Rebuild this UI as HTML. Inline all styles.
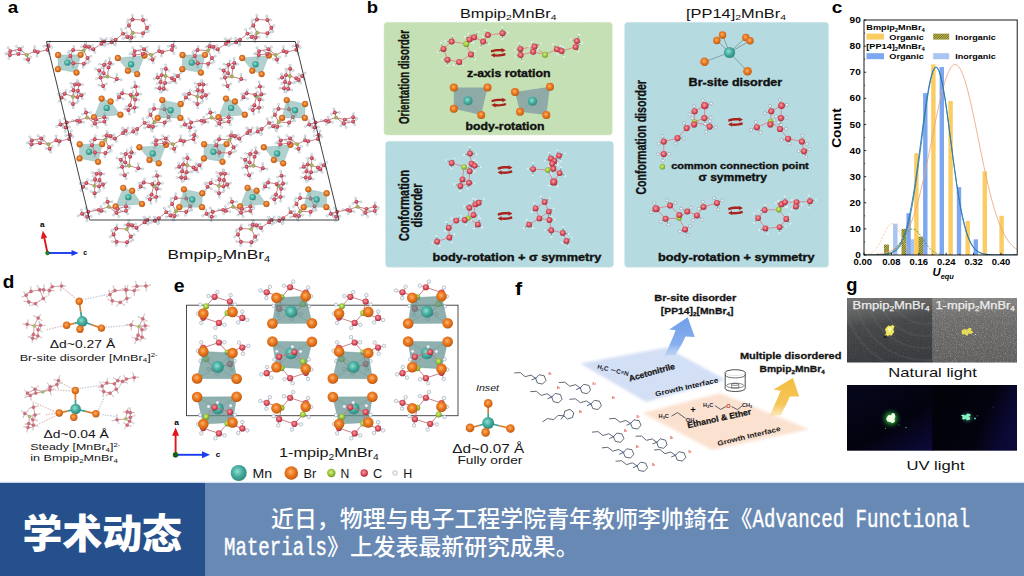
<!DOCTYPE html>
<html lang="zh"><head><meta charset="utf-8"><title>学术动态</title><style>
html,body{margin:0;padding:0;background:#fff;}
body{width:1024px;height:576px;overflow:hidden;}
svg{display:block;font-family:"Liberation Sans",sans-serif;}
.b{stroke:#8a9aa8;stroke-width:0.55;stroke-linecap:round}
.bc{stroke:#b8646c;stroke-width:0.6;stroke-linecap:round}
.C{fill:url(#gC)}
.Ca{fill:url(#gCa)}
.Bra{fill:url(#gBr);stroke:#b5500f;stroke-width:0.45}
.H{fill:url(#gH)}
.N{fill:url(#gN)}
.Br{fill:url(#gBr)}
.Mn{fill:url(#gMn)}
.T2{fill:#7d99a3;fill-opacity:0.75}
.T3{fill:#5f8f8c;fill-opacity:0.7;stroke:#5f9490;stroke-width:0.5;stroke-opacity:0.7}
.T{fill:#62a39d;fill-opacity:0.5;stroke:#7fb0ac;stroke-width:0.4;stroke-opacity:0.8}
</style></head><body>
<svg width="1024" height="576" viewBox="0 0 1024 576">
<defs>
<radialGradient id="gBr" cx="45%" cy="42%" r="60%"><stop offset="0" stop-color="#fdb46c"/><stop offset="0.45" stop-color="#ec7d26"/><stop offset="0.82" stop-color="#d46412"/><stop offset="1" stop-color="#a04a0a"/></radialGradient>
<radialGradient id="gMn" cx="42%" cy="40%" r="65%"><stop offset="0" stop-color="#8fe0d2"/><stop offset="0.5" stop-color="#45ad9f"/><stop offset="1" stop-color="#2c8377"/></radialGradient>
<radialGradient id="gC" cx="45%" cy="42%" r="60%"><stop offset="0" stop-color="#f6a3a6"/><stop offset="0.45" stop-color="#e25e69"/><stop offset="0.8" stop-color="#c43547"/><stop offset="1" stop-color="#8c1d2e"/></radialGradient>
<radialGradient id="gCa" cx="45%" cy="42%" r="60%"><stop offset="0" stop-color="#ec9098"/><stop offset="0.5" stop-color="#cf4e5e"/><stop offset="0.85" stop-color="#ad3446"/><stop offset="1" stop-color="#7e2233"/></radialGradient><radialGradient id="gN" cx="45%" cy="42%" r="60%"><stop offset="0" stop-color="#d9ee8c"/><stop offset="0.5" stop-color="#a2cc3e"/><stop offset="0.82" stop-color="#7fae28"/><stop offset="1" stop-color="#557f18"/></radialGradient>
<radialGradient id="gH" cx="42%" cy="40%" r="65%"><stop offset="0" stop-color="#ffffff"/><stop offset="0.7" stop-color="#eef1f4"/><stop offset="1" stop-color="#9aa9b8"/></radialGradient>
<radialGradient id="glowG" cx="50%" cy="50%" r="50%"><stop offset="0" stop-color="#b8ffa0"/><stop offset="0.25" stop-color="#4fd84a" stop-opacity="0.85"/><stop offset="0.55" stop-color="#1f8a2a" stop-opacity="0.5"/><stop offset="1" stop-color="#05051a" stop-opacity="0"/></radialGradient>
<radialGradient id="glowC" cx="50%" cy="50%" r="50%"><stop offset="0" stop-color="#c8ffe8"/><stop offset="0.4" stop-color="#5fe8b8" stop-opacity="0.8"/><stop offset="1" stop-color="#0a2a3a" stop-opacity="0"/></radialGradient>
<linearGradient id="uvbg" x1="0.2" y1="0" x2="1" y2="1"><stop offset="0" stop-color="#05061a"/><stop offset="0.55" stop-color="#03030f"/><stop offset="1" stop-color="#0d0a3c"/></linearGradient>
<linearGradient id="uvbg2" x1="0" y1="0" x2="1" y2="0.3"><stop offset="0" stop-color="#020209"/><stop offset="0.7" stop-color="#03030f"/><stop offset="1" stop-color="#0b0936"/></linearGradient>
<linearGradient id="nat1" x1="0.3" y1="0" x2="0.5" y2="1"><stop offset="0" stop-color="#727270"/><stop offset="0.22" stop-color="#5c5d5d"/><stop offset="0.4" stop-color="#454749"/><stop offset="1" stop-color="#36393c"/></linearGradient>
<linearGradient id="nat2" x1="0" y1="0" x2="0" y2="1"><stop offset="0" stop-color="#858482"/><stop offset="0.3" stop-color="#6c6b6a"/><stop offset="1" stop-color="#5c5b5a"/></linearGradient>
<pattern id="hatch" width="1.6" height="1.6" patternUnits="userSpaceOnUse" patternTransform="rotate(45)"><rect width="1.6" height="1.6" fill="#d8c25a"/><rect width="0.8" height="1.6" fill="#5f6a1e"/></pattern>
<filter id="blur1" x="-20%" y="-20%" width="140%" height="140%"><feGaussianBlur stdDeviation="1.6"/></filter>
<filter id="blur2" x="-20%" y="-20%" width="140%" height="140%"><feGaussianBlur stdDeviation="0.35"/></filter>
<filter id="noise" x="0" y="0" width="100%" height="100%" color-interpolation-filters="sRGB"><feTurbulence type="fractalNoise" baseFrequency="0.85" numOctaves="2" seed="3"/><feColorMatrix type="matrix" values="0 0 0 0 0.5  0 0 0 0 0.5  0 0 0 0 0.5  1.6 1.6 0 0 -1.45"/></filter><filter id="noise2" x="0" y="0" width="100%" height="100%" color-interpolation-filters="sRGB"><feTurbulence type="fractalNoise" baseFrequency="0.9" numOctaves="2" seed="11"/><feColorMatrix type="matrix" values="0 0 0 0 0.92  0 0 0 0 0.92  0 0 0 0 0.9  1.8 0 1.8 0 -1.75"/></filter>
</defs>
<rect x="0" y="482.5" width="1024" height="93.5" fill="#6889b4"/>
<rect x="0" y="482.5" width="205" height="93.5" fill="#25508c"/>
<rect x="0" y="481.6" width="1024" height="1.2" fill="#dfe9f3"/>
<text x="22.5" y="547.5" font-size="40" font-weight="900" textLength="159.5" lengthAdjust="spacingAndGlyphs" fill="#fff" font-family="'Liberation Sans','Noto Sans CJK SC',sans-serif">学术动态</text>
<text x="271" y="527" font-size="22.6" font-weight="500" textLength="481.5" lengthAdjust="spacingAndGlyphs" fill="#fff" font-family="'Liberation Sans','Noto Sans CJK SC',sans-serif">近日，物理与电子工程学院青年教师李帅錡在《</text>
<g transform="translate(752.5 527) scale(0.7339 1)"><text x="0" y="0" font-size="26" font-weight="400" fill="#fff" font-family="'Liberation Mono','Noto Sans CJK SC',monospace" xml:space="preserve" stroke="#fff" stroke-width="0.45">Advanced Functional</text></g>
<g transform="translate(224 554.5) scale(0.7339 1)"><text x="0" y="0" font-size="26" font-weight="400" fill="#fff" font-family="'Liberation Mono','Noto Sans CJK SC',monospace" xml:space="preserve" stroke="#fff" stroke-width="0.45">Materials</text></g>
<text x="327.05" y="554.5" font-size="22.6" font-weight="500" textLength="251.5" lengthAdjust="spacingAndGlyphs" fill="#fff" font-family="'Liberation Sans','Noto Sans CJK SC',sans-serif">》上发表最新研究成果。</text>
<rect x="384" y="22.3" width="228.3" height="112.7" rx="3.5" fill="#c5e0b4"/><rect x="384" y="22.3" width="228.3" height="112.7" rx="3.5" fill="none" stroke="#d9ebcd" stroke-width="1" stroke-dasharray="1.6 1.4"/>
<rect x="385.5" y="141.3" width="228" height="125.9" rx="3.5" fill="#b5dae0"/><rect x="385.5" y="141.3" width="228" height="125.9" rx="3.5" fill="none" stroke="#cfe7eb" stroke-width="1" stroke-dasharray="1.6 1.4"/>
<rect x="624.6" y="22.3" width="204" height="244.9" rx="3.5" fill="#b5dae0"/><rect x="624.6" y="22.3" width="204" height="244.9" rx="3.5" fill="none" stroke="#cfe7eb" stroke-width="1" stroke-dasharray="1.6 1.4"/>
<g id="panel_a"><path d="M87.5 58L90.87 56.09M87.5 58L89.7 61.5M83.8 63.8L87.66 62.82M83.8 63.8L83.18 67.32M73.3 63.3L73.12 66.87M73.3 63.3L68.94 63.03M70.4 56L66.97 58.3M70.4 56L68.52 52.56M73.1 50L69.2 51.23M73.1 50L73.83 46.5M88.9 46.7L85.67 43.68M88.9 46.7L92.36 45.5M93.3 49.2L94.86 52.36M93.3 49.2L89.83 49.76M101.4 43.8L101.82 39.4M101.4 43.8L104.56 45.81M104.1 41.4L100.73 38.76M104.1 41.4L106.5 38.54M104.1 41.4L105.54 44.57M85 46.2L81.55 46.73M85 46.2L85.55 42.19M85 46.2L89.04 48.36M109.1 147.25L112.47 145.34M109.1 147.25L111.3 150.75M105.4 153.05L109.26 152.07M105.4 153.05L104.78 156.57M94.9 152.55L94.72 156.12M94.9 152.55L90.54 152.28M92 145.25L88.57 147.55M92 145.25L90.12 141.81M94.7 139.25L90.8 140.48M94.7 139.25L95.43 135.75M110.5 135.95L107.27 132.93M110.5 135.95L113.96 134.75M114.9 138.45L116.46 141.61M114.9 138.45L111.43 139.01M123 133.05L123.42 128.65M123 133.05L126.16 135.06M125.7 130.65L122.33 128.01M125.7 130.65L128.1 127.79M125.7 130.65L127.14 133.82M106.6 135.45L103.15 135.98M106.6 135.45L107.15 131.44M106.6 135.45L110.64 137.61M130.7 236.5L134.07 234.59M130.7 236.5L132.9 240M127 242.3L130.86 241.32M127 242.3L126.38 245.82M116.5 241.8L116.32 245.37M116.5 241.8L112.14 241.53M113.6 234.5L110.17 236.8M113.6 234.5L111.72 231.06M116.3 228.5L112.4 229.73M116.3 228.5L117.03 225M132.1 225.2L128.87 222.18M132.1 225.2L135.56 224M136.5 227.7L138.06 230.86M136.5 227.7L133.03 228.26M144.6 222.3L145.02 217.9M144.6 222.3L147.76 224.31M147.3 219.9L143.93 217.26M147.3 219.9L149.7 217.04M147.3 219.9L148.74 223.07M128.2 224.7L124.75 225.23M128.2 224.7L128.75 220.69M128.2 224.7L132.24 226.86M211.9 58L215.27 56.09M211.9 58L214.1 61.5M208.2 63.8L212.06 62.82M208.2 63.8L207.58 67.32M197.7 63.3L197.52 66.87M197.7 63.3L193.34 63.03M194.8 56L191.37 58.3M194.8 56L192.92 52.56M197.5 50L193.6 51.23M197.5 50L198.23 46.5M213.3 46.7L210.07 43.68M213.3 46.7L216.76 45.5M217.7 49.2L219.26 52.36M217.7 49.2L214.23 49.76M225.8 43.8L226.22 39.4M225.8 43.8L228.96 45.81M228.5 41.4L225.13 38.76M228.5 41.4L230.9 38.54M228.5 41.4L229.94 44.57M209.4 46.2L205.95 46.73M209.4 46.2L209.95 42.19M209.4 46.2L213.44 48.36M233.5 147.25L236.87 145.34M233.5 147.25L235.7 150.75M229.8 153.05L233.66 152.07M229.8 153.05L229.18 156.57M219.3 152.55L219.12 156.12M219.3 152.55L214.94 152.28M216.4 145.25L212.97 147.55M216.4 145.25L214.52 141.81M219.1 139.25L215.2 140.48M219.1 139.25L219.83 135.75M234.9 135.95L231.67 132.93M234.9 135.95L238.36 134.75M239.3 138.45L240.86 141.61M239.3 138.45L235.83 139.01M247.4 133.05L247.82 128.65M247.4 133.05L250.56 135.06M250.1 130.65L246.73 128.01M250.1 130.65L252.5 127.79M250.1 130.65L251.54 133.82M231 135.45L227.55 135.98M231 135.45L231.55 131.44M231 135.45L235.04 137.61M255.1 236.5L258.47 234.59M255.1 236.5L257.3 240M251.4 242.3L255.26 241.32M251.4 242.3L250.78 245.82M240.9 241.8L240.72 245.37M240.9 241.8L236.54 241.53M238 234.5L234.57 236.8M238 234.5L236.12 231.06M240.7 228.5L236.8 229.73M240.7 228.5L241.43 225M256.5 225.2L253.27 222.18M256.5 225.2L259.96 224M260.9 227.7L262.46 230.86M260.9 227.7L257.43 228.26M269 222.3L269.42 217.9M269 222.3L272.16 224.31M271.7 219.9L268.33 217.26M271.7 219.9L274.1 217.04M271.7 219.9L273.14 223.07M252.6 224.7L249.15 225.23M252.6 224.7L253.15 220.69M252.6 224.7L256.64 226.86M108.5 67.4L105.25 64.73M108.5 67.4L111.47 64.47M109.9 62.9L109.52 58.34M109.9 62.9L113.12 64.07M104.1 64.8L99.58 64.2M104.1 64.8L105.7 60.92M103.6 73.1L104 77.23M100.6 77.5L96.5 78.6M100.6 77.5L100.84 73.02M103.1 86L106.44 83.83M103.1 86L104.57 89.42M103.1 86L98.95 85.23M116.8 79L116.71 74.45M116.8 79L121.1 79.79M116.8 79L114.62 81.76M99.2 70.5L99 74.57M99.2 70.5L95.39 68.93M99.2 70.5L102.39 67.39M130.1 156.65L126.85 153.98M130.1 156.65L133.07 153.72M131.5 152.15L131.12 147.59M131.5 152.15L134.72 153.32M125.7 154.05L121.18 153.45M125.7 154.05L127.3 150.17M125.2 162.35L125.6 166.48M122.2 166.75L118.1 167.85M122.2 166.75L122.44 162.27M124.7 175.25L128.04 173.08M124.7 175.25L126.17 178.67M124.7 175.25L120.55 174.48M138.4 168.25L138.31 163.7M138.4 168.25L142.7 169.04M138.4 168.25L136.22 171.01M120.8 159.75L120.6 163.82M120.8 159.75L116.99 158.18M120.8 159.75L123.99 156.64M232.9 67.4L229.65 64.73M232.9 67.4L235.87 64.47M234.3 62.9L233.92 58.34M234.3 62.9L237.52 64.07M228.5 64.8L223.98 64.2M228.5 64.8L230.1 60.92M228 73.1L228.4 77.23M225 77.5L220.9 78.6M225 77.5L225.24 73.02M227.5 86L230.84 83.83M227.5 86L228.97 89.42M227.5 86L223.35 85.23M241.2 79L241.11 74.45M241.2 79L245.5 79.79M241.2 79L239.02 81.76M223.6 70.5L223.4 74.57M223.6 70.5L219.79 68.93M223.6 70.5L226.79 67.39M254.5 156.65L251.25 153.98M254.5 156.65L257.47 153.72M255.9 152.15L255.52 147.59M255.9 152.15L259.12 153.32M250.1 154.05L245.58 153.45M250.1 154.05L251.7 150.17M249.6 162.35L250 166.48M246.6 166.75L242.5 167.85M246.6 166.75L246.84 162.27M249.1 175.25L252.44 173.08M249.1 175.25L250.57 178.67M249.1 175.25L244.95 174.48M262.8 168.25L262.71 163.7M262.8 168.25L267.1 169.04M262.8 168.25L260.62 171.01M245.2 159.75L245 163.82M245.2 159.75L241.39 158.18M245.2 159.75L248.39 156.64M10.3 51.1L7.34 53M10.3 51.1L8.21 47.64M19.6 49.2L16.47 46.3M19.6 49.2L22.57 47.12M18.4 53.9L15.19 50.89M18.4 53.9L21.86 50.89M9.9 55L8.76 58.49M9.9 55L5.65 53.85M34.8 51.1L34.68 46.6M34.8 51.1L38.86 50.89M37.7 52.1L37.02 56.03M37.7 52.1L34.08 50M47.5 49.7L50.33 46.28M47.5 49.7L49.34 53.58M48.2 45.8L44.03 46.28M48.2 45.8L49.74 41.71M48.2 45.8L51.41 47.55M28.1 59.5L30.85 57.22M28.1 59.5L28.98 62.88M28.1 59.5L24.54 59.26M31.9 140.35L28.94 142.25M31.9 140.35L29.81 136.89M41.2 138.45L38.07 135.55M41.2 138.45L44.17 136.37M40 143.15L36.79 140.14M40 143.15L43.46 140.14M31.5 144.25L30.36 147.74M31.5 144.25L27.25 143.1M56.4 140.35L56.28 135.85M56.4 140.35L60.46 140.14M59.3 141.35L58.62 145.28M59.3 141.35L55.68 139.25M69.1 138.95L71.93 135.53M69.1 138.95L70.94 142.83M69.8 135.05L65.63 135.53M69.8 135.05L71.34 130.96M69.8 135.05L73.01 136.8M49.7 148.75L52.45 146.47M49.7 148.75L50.58 152.13M49.7 148.75L46.14 148.51M134.7 51.1L131.74 53M134.7 51.1L132.61 47.64M144 49.2L140.87 46.3M144 49.2L146.97 47.12M142.8 53.9L139.59 50.89M142.8 53.9L146.26 50.89M134.3 55L133.16 58.49M134.3 55L130.05 53.85M159.2 51.1L159.08 46.6M159.2 51.1L163.26 50.89M162.1 52.1L161.42 56.03M162.1 52.1L158.48 50M171.9 49.7L174.73 46.28M171.9 49.7L173.74 53.58M172.6 45.8L168.43 46.28M172.6 45.8L174.14 41.71M172.6 45.8L175.81 47.55M152.5 59.5L155.25 57.22M152.5 59.5L153.38 62.88M152.5 59.5L148.94 59.26M156.3 140.35L153.34 142.25M156.3 140.35L154.21 136.89M165.6 138.45L162.47 135.55M165.6 138.45L168.57 136.37M164.4 143.15L161.19 140.14M164.4 143.15L167.86 140.14M155.9 144.25L154.76 147.74M155.9 144.25L151.65 143.1M180.8 140.35L180.68 135.85M180.8 140.35L184.86 140.14M183.7 141.35L183.02 145.28M183.7 141.35L180.08 139.25M193.5 138.95L196.33 135.53M193.5 138.95L195.34 142.83M194.2 135.05L190.03 135.53M194.2 135.05L195.74 130.96M194.2 135.05L197.41 136.8M174.1 148.75L176.85 146.47M174.1 148.75L174.98 152.13M174.1 148.75L170.54 148.51M259.1 51.1L256.14 53M259.1 51.1L257.01 47.64M268.4 49.2L265.27 46.3M268.4 49.2L271.37 47.12M267.2 53.9L263.99 50.89M267.2 53.9L270.66 50.89M258.7 55L257.56 58.49M258.7 55L254.45 53.85M283.6 51.1L283.48 46.6M283.6 51.1L287.66 50.89M286.5 52.1L285.82 56.03M286.5 52.1L282.88 50M296.3 49.7L299.13 46.28M296.3 49.7L298.14 53.58M297 45.8L292.83 46.28M297 45.8L298.54 41.71M297 45.8L300.21 47.55M276.9 59.5L279.65 57.22M276.9 59.5L277.78 62.88M276.9 59.5L273.34 59.26M280.7 140.35L277.74 142.25M280.7 140.35L278.61 136.89M290 138.45L286.87 135.55M290 138.45L292.97 136.37M288.8 143.15L285.59 140.14M288.8 143.15L292.26 140.14M280.3 144.25L279.16 147.74M280.3 144.25L276.05 143.1M305.2 140.35L305.08 135.85M305.2 140.35L309.26 140.14M308.1 141.35L307.42 145.28M308.1 141.35L304.48 139.25M317.9 138.95L320.73 135.53M317.9 138.95L319.74 142.83M318.6 135.05L314.43 135.53M318.6 135.05L320.14 130.96M318.6 135.05L321.81 136.8M298.5 148.75L301.25 146.47M298.5 148.75L299.38 152.13M298.5 148.75L294.94 148.51M165.8 68.7L161.42 69.09M165.8 68.7L165.66 65.11M165.8 68.7L168.7 70.52M161.6 75.1L162.19 71.44M157.7 77.5L161.25 79.67M157.7 77.5L154.2 78.91M157.7 77.5L157.1 74.02M171.9 78.2L175.03 76.03M171.9 78.2L174.69 81.68M174.3 79.9L176.2 82.99M174.3 79.9L170.82 82.28M177.9 76L174.39 74.37M177.9 76L180.76 73.1M177.9 76L179.94 79.23M165 82.9L169.09 82.78M165 82.9L162.99 86.77M163.8 88.7L167.18 89.97M163.8 88.7L161.86 91.72M159.6 88.2L160.47 92.18M159.6 88.2L155.43 88.28M160.6 81.9L163.67 84.8M160.6 81.9L157.35 83.51M187.4 157.95L183.02 158.34M187.4 157.95L187.26 154.36M187.4 157.95L190.3 159.77M183.2 164.35L183.79 160.69M179.3 166.75L182.85 168.92M179.3 166.75L175.8 168.16M179.3 166.75L178.7 163.27M193.5 167.45L196.63 165.28M193.5 167.45L196.29 170.93M195.9 169.15L197.8 172.24M195.9 169.15L192.42 171.53M199.5 165.25L195.99 163.62M199.5 165.25L202.36 162.35M199.5 165.25L201.54 168.48M186.6 172.15L190.69 172.03M186.6 172.15L184.59 176.02M185.4 177.95L188.78 179.22M185.4 177.95L183.46 180.97M181.2 177.45L182.07 181.43M181.2 177.45L177.03 177.53M182.2 171.15L185.27 174.05M182.2 171.15L178.95 172.76M290.2 68.7L285.82 69.09M290.2 68.7L290.06 65.11M290.2 68.7L293.1 70.52M286 75.1L286.59 71.44M282.1 77.5L285.65 79.67M282.1 77.5L278.6 78.91M282.1 77.5L281.5 74.02M296.3 78.2L299.43 76.03M296.3 78.2L299.09 81.68M298.7 79.9L300.6 82.99M298.7 79.9L295.22 82.28M302.3 76L298.79 74.37M302.3 76L305.16 73.1M302.3 76L304.34 79.23M289.4 82.9L293.49 82.78M289.4 82.9L287.39 86.77M288.2 88.7L291.58 89.97M288.2 88.7L286.26 91.72M284 88.2L284.87 92.18M284 88.2L279.83 88.28M285 81.9L288.07 84.8M285 81.9L281.75 83.51M311.8 157.95L307.42 158.34M311.8 157.95L311.66 154.36M311.8 157.95L314.7 159.77M307.6 164.35L308.19 160.69M303.7 166.75L307.25 168.92M303.7 166.75L300.2 168.16M303.7 166.75L303.1 163.27M317.9 167.45L321.03 165.28M317.9 167.45L320.69 170.93M320.3 169.15L322.2 172.24M320.3 169.15L316.82 171.53M323.9 165.25L320.39 163.62M323.9 165.25L326.76 162.35M323.9 165.25L325.94 168.48M311 172.15L315.09 172.03M311 172.15L308.99 176.02M309.8 177.95L313.18 179.22M309.8 177.95L307.86 180.97M305.6 177.45L306.47 181.43M305.6 177.45L301.43 177.53M306.6 171.15L309.67 174.05M306.6 171.15L303.35 172.76M73.5 90.3L70.03 91.45M73.5 90.3L71.76 86.85M75 84.4L70.69 83.33M75 84.4L77.75 81.06M78.9 84.4L77.15 80.61M78.9 84.4L82.52 84.66M77.9 90.8L80.45 93.96M77.9 90.8L74.6 93.37M77.4 97.1L78.21 101.27M64.7 93.7L60.37 93.76M64.7 93.7L65.98 90.33M73 104L77.14 102.55M73 104L73.32 107.92M73 104L69.45 102.11M81.3 95.2L78.69 92.61M81.3 95.2L84.47 93.72M81.3 95.2L82.31 98.65M61.5 97.5L65.27 99.51M61.5 97.5L59.2 101.26M61.5 97.5L58.64 94.3M95.1 179.55L91.63 180.7M95.1 179.55L93.36 176.1M96.6 173.65L92.29 172.58M96.6 173.65L99.35 170.31M100.5 173.65L98.75 169.86M100.5 173.65L104.12 173.91M99.5 180.05L102.05 183.21M99.5 180.05L96.2 182.62M99 186.35L99.81 190.52M86.3 182.95L81.97 183.01M86.3 182.95L87.58 179.58M94.6 193.25L98.74 191.8M94.6 193.25L94.92 197.17M94.6 193.25L91.05 191.36M102.9 184.45L100.29 181.86M102.9 184.45L106.07 182.97M102.9 184.45L103.91 187.9M83.1 186.75L86.87 188.76M83.1 186.75L80.8 190.51M83.1 186.75L80.24 183.55M197.9 90.3L194.43 91.45M197.9 90.3L196.16 86.85M199.4 84.4L195.09 83.33M199.4 84.4L202.15 81.06M203.3 84.4L201.55 80.61M203.3 84.4L206.92 84.66M202.3 90.8L204.85 93.96M202.3 90.8L199 93.37M201.8 97.1L202.61 101.27M189.1 93.7L184.77 93.76M189.1 93.7L190.38 90.33M197.4 104L201.54 102.55M197.4 104L197.72 107.92M197.4 104L193.85 102.11M205.7 95.2L203.09 92.61M205.7 95.2L208.87 93.72M205.7 95.2L206.71 98.65M185.9 97.5L189.67 99.51M185.9 97.5L183.6 101.26M185.9 97.5L183.04 94.3M219.5 179.55L216.03 180.7M219.5 179.55L217.76 176.1M221 173.65L216.69 172.58M221 173.65L223.75 170.31M224.9 173.65L223.15 169.86M224.9 173.65L228.52 173.91M223.9 180.05L226.45 183.21M223.9 180.05L220.6 182.62M223.4 186.35L224.21 190.52M210.7 182.95L206.37 183.01M210.7 182.95L211.98 179.58M219 193.25L223.14 191.8M219 193.25L219.32 197.17M219 193.25L215.45 191.36M227.3 184.45L224.69 181.86M227.3 184.45L230.47 182.97M227.3 184.45L228.31 187.9M207.5 186.75L211.27 188.76M207.5 186.75L205.2 190.51M207.5 186.75L204.64 183.55M130.7 94.7L133.13 91.75M130.7 94.7L133.4 97.84M122.1 93.2L118.64 94.09M122.1 93.2L123.1 89.9M137 94.2L140.81 94.03M137 94.2L136.2 98.21M135.5 86.4L131.61 87.94M135.5 86.4L134.69 81.95M135.5 86.4L139.02 86.83M135.1 99.6L134.56 95.57M135.1 99.6L138.77 100.01M134.6 107.6L138.04 107.36M134.6 107.6L134.57 112.12M128.4 110L129.4 114.26M128.4 110L124.81 108.97M130 105.2L132.68 108.35M130 105.2L126.52 106.58M119 97.3L123.28 98.85M119 97.3L117.06 100.23M119 97.3L117.43 94.16M152.3 183.95L154.73 181M152.3 183.95L155 187.09M143.7 182.45L140.24 183.34M143.7 182.45L144.7 179.15M158.6 183.45L162.41 183.28M158.6 183.45L157.8 187.46M157.1 175.65L153.21 177.19M157.1 175.65L156.29 171.2M157.1 175.65L160.62 176.08M156.7 188.85L156.16 184.82M156.7 188.85L160.37 189.26M156.2 196.85L159.64 196.61M156.2 196.85L156.17 201.37M150 199.25L151 203.51M150 199.25L146.41 198.22M151.6 194.45L154.28 197.6M151.6 194.45L148.12 195.83M140.6 186.55L144.88 188.1M140.6 186.55L138.66 189.48M140.6 186.55L139.03 183.41M255.1 94.7L257.53 91.75M255.1 94.7L257.8 97.84M246.5 93.2L243.04 94.09M246.5 93.2L247.5 89.9M261.4 94.2L265.21 94.03M261.4 94.2L260.6 98.21M259.9 86.4L256.01 87.94M259.9 86.4L259.09 81.95M259.9 86.4L263.42 86.83M259.5 99.6L258.96 95.57M259.5 99.6L263.17 100.01M259 107.6L262.44 107.36M259 107.6L258.97 112.12M252.8 110L253.8 114.26M252.8 110L249.21 108.97M254.4 105.2L257.08 108.35M254.4 105.2L250.92 106.58M243.4 97.3L247.68 98.85M243.4 97.3L241.46 100.23M243.4 97.3L241.83 94.16M276.7 183.95L279.13 181M276.7 183.95L279.4 187.09M268.1 182.45L264.64 183.34M268.1 182.45L269.1 179.15M283 183.45L286.81 183.28M283 183.45L282.2 187.46M281.5 175.65L277.61 177.19M281.5 175.65L280.69 171.2M281.5 175.65L285.02 176.08M281.1 188.85L280.56 184.82M281.1 188.85L284.77 189.26M280.6 196.85L284.04 196.61M280.6 196.85L280.57 201.37M274.4 199.25L275.4 203.51M274.4 199.25L270.81 198.22M276 194.45L278.68 197.6M276 194.45L272.52 195.83M265 186.55L269.28 188.1M265 186.55L263.06 189.48M265 186.55L263.43 183.41M65.7 127.4L69.55 127.15M65.7 127.4L65.17 131.53M65.7 127.4L62.55 124.74M66.7 122.5L64.24 118.69M77.1 120.6L72.69 120.46M96 119.6L99.98 121.63M96 119.6L93.28 122.82M104.3 117.2L104.71 113.66M104.3 117.2L107.89 118.23M104.3 121.6L107.5 119.29M104.3 121.6L105.97 124.65M95 123.5L97.27 127.4M95 123.5L91.9 125.84M79.9 121.6L79.36 117.07M79.9 121.6L83.7 122.37M79.9 121.6L77.67 124.35M60.5 124.5L63.2 127.76M60.5 124.5L56.65 126.49M60.5 124.5L59.79 120.6M86 112.5L82.47 114.22M86 112.5L85.13 108.94M86 112.5L90.56 112.53M87.3 216.65L91.15 216.4M87.3 216.65L86.77 220.78M87.3 216.65L84.15 213.99M88.3 211.75L85.84 207.94M98.7 209.85L94.29 209.71M117.6 208.85L121.58 210.88M117.6 208.85L114.88 212.07M125.9 206.45L126.31 202.91M125.9 206.45L129.49 207.48M125.9 210.85L129.1 208.54M125.9 210.85L127.57 213.9M116.6 212.75L118.87 216.65M116.6 212.75L113.5 215.09M101.5 210.85L100.96 206.32M101.5 210.85L105.3 211.62M101.5 210.85L99.27 213.6M82.1 213.75L84.8 217.01M82.1 213.75L78.25 215.74M82.1 213.75L81.39 209.85M107.6 201.75L104.07 203.47M107.6 201.75L106.73 198.19M107.6 201.75L112.16 201.78M190.1 127.4L193.95 127.15M190.1 127.4L189.57 131.53M190.1 127.4L186.95 124.74M191.1 122.5L188.64 118.69M201.5 120.6L197.09 120.46M220.4 119.6L224.38 121.63M220.4 119.6L217.68 122.82M228.7 117.2L229.11 113.66M228.7 117.2L232.29 118.23M228.7 121.6L231.9 119.29M228.7 121.6L230.37 124.65M219.4 123.5L221.67 127.4M219.4 123.5L216.3 125.84M204.3 121.6L203.76 117.07M204.3 121.6L208.1 122.37M204.3 121.6L202.07 124.35M184.9 124.5L187.6 127.76M184.9 124.5L181.05 126.49M184.9 124.5L184.19 120.6M210.4 112.5L206.87 114.22M210.4 112.5L209.53 108.94M210.4 112.5L214.96 112.53M211.7 216.65L215.55 216.4M211.7 216.65L211.17 220.78M211.7 216.65L208.55 213.99M212.7 211.75L210.24 207.94M223.1 209.85L218.69 209.71M242 208.85L245.98 210.88M242 208.85L239.28 212.07M250.3 206.45L250.71 202.91M250.3 206.45L253.89 207.48M250.3 210.85L253.5 208.54M250.3 210.85L251.97 213.9M241 212.75L243.27 216.65M241 212.75L237.9 215.09M225.9 210.85L225.36 206.32M225.9 210.85L229.7 211.62M225.9 210.85L223.67 213.6M206.5 213.75L209.2 217.01M206.5 213.75L202.65 215.74M206.5 213.75L205.79 209.85M232 201.75L228.47 203.47M232 201.75L231.13 198.19M232 201.75L236.56 201.78M314.5 127.4L318.35 127.15M314.5 127.4L313.97 131.53M314.5 127.4L311.35 124.74M315.5 122.5L313.04 118.69M325.9 120.6L321.49 120.46M344.8 119.6L348.78 121.63M344.8 119.6L342.08 122.82M353.1 117.2L353.51 113.66M353.1 117.2L356.69 118.23M353.1 121.6L356.3 119.29M353.1 121.6L354.77 124.65M343.8 123.5L346.07 127.4M343.8 123.5L340.7 125.84M328.7 121.6L328.16 117.07M328.7 121.6L332.5 122.37M328.7 121.6L326.47 124.35M309.3 124.5L312 127.76M309.3 124.5L305.45 126.49M309.3 124.5L308.59 120.6M334.8 112.5L331.27 114.22M334.8 112.5L333.93 108.94M334.8 112.5L339.36 112.53M336.1 216.65L339.95 216.4M336.1 216.65L335.57 220.78M336.1 216.65L332.95 213.99M337.1 211.75L334.64 207.94M347.5 209.85L343.09 209.71M366.4 208.85L370.38 210.88M366.4 208.85L363.68 212.07M374.7 206.45L375.11 202.91M374.7 206.45L378.29 207.48M374.7 210.85L377.9 208.54M374.7 210.85L376.37 213.9M365.4 212.75L367.67 216.65M365.4 212.75L362.3 215.09M350.3 210.85L349.76 206.32M350.3 210.85L354.1 211.62M350.3 210.85L348.07 213.6M330.9 213.75L333.6 217.01M330.9 213.75L327.05 215.74M330.9 213.75L330.19 209.85M356.4 201.75L352.87 203.47M356.4 201.75L355.53 198.19M356.4 201.75L360.96 201.78M132.5 19.5L128.07 19.89M132.5 19.5L132.5 15.2M143 20L142.31 15.96M143 20L146.45 19.9M146.9 27.8L149.55 25.59M146.9 27.8L148.66 31.41M143 33.3L147.15 31.93M143 33.3L142.36 36.85M128.9 25.5L125.72 28.19M128.9 25.5L127.49 22.15M127.3 37L129.9 40.63M127.3 37L123.07 38.52M123 33.6L121.21 29.42M123 33.6L127.02 32.74M115.6 39.8L115.59 44.21M115.6 39.8L111.81 39.08M111.7 42.2L114.79 45.21M111.7 42.2L107.75 44.01M111.7 42.2L111.03 38.59M131.3 37.5L134.92 36.79M131.3 37.5L130.56 41.83M131.3 37.5L127.65 35.59M154.1 108.75L149.67 109.14M154.1 108.75L154.1 104.45M164.6 109.25L163.91 105.21M164.6 109.25L168.05 109.15M168.5 117.05L171.15 114.84M168.5 117.05L170.26 120.66M164.6 122.55L168.75 121.18M164.6 122.55L163.96 126.1M150.5 114.75L147.32 117.44M150.5 114.75L149.09 111.4M148.9 126.25L151.5 129.88M148.9 126.25L144.67 127.77M144.6 122.85L142.81 118.67M144.6 122.85L148.62 121.99M137.2 129.05L137.19 133.46M137.2 129.05L133.41 128.33M133.3 131.45L136.39 134.46M133.3 131.45L129.35 133.26M133.3 131.45L132.63 127.84M152.9 126.75L156.52 126.04M152.9 126.75L152.16 131.08M152.9 126.75L149.25 124.84M175.7 198L171.27 198.39M175.7 198L175.7 193.7M186.2 198.5L185.51 194.46M186.2 198.5L189.65 198.4M190.1 206.3L192.75 204.09M190.1 206.3L191.86 209.91M186.2 211.8L190.35 210.43M186.2 211.8L185.56 215.35M172.1 204L168.92 206.69M172.1 204L170.69 200.65M170.5 215.5L173.1 219.13M170.5 215.5L166.27 217.02M166.2 212.1L164.41 207.92M166.2 212.1L170.22 211.24M158.8 218.3L158.79 222.71M158.8 218.3L155.01 217.58M154.9 220.7L157.99 223.71M154.9 220.7L150.95 222.51M154.9 220.7L154.23 217.09M174.5 216L178.12 215.29M174.5 216L173.76 220.33M174.5 216L170.85 214.09M256.9 19.5L252.47 19.89M256.9 19.5L256.9 15.2M267.4 20L266.71 15.96M267.4 20L270.85 19.9M271.3 27.8L273.95 25.59M271.3 27.8L273.06 31.41M267.4 33.3L271.55 31.93M267.4 33.3L266.76 36.85M253.3 25.5L250.12 28.19M253.3 25.5L251.89 22.15M251.7 37L254.3 40.63M251.7 37L247.47 38.52M247.4 33.6L245.61 29.42M247.4 33.6L251.42 32.74M240 39.8L239.99 44.21M240 39.8L236.21 39.08M236.1 42.2L239.19 45.21M236.1 42.2L232.15 44.01M236.1 42.2L235.43 38.59M255.7 37.5L259.32 36.79M255.7 37.5L254.96 41.83M255.7 37.5L252.05 35.59M278.5 108.75L274.07 109.14M278.5 108.75L278.5 104.45M289 109.25L288.31 105.21M289 109.25L292.45 109.15M292.9 117.05L295.55 114.84M292.9 117.05L294.66 120.66M289 122.55L293.15 121.18M289 122.55L288.36 126.1M274.9 114.75L271.72 117.44M274.9 114.75L273.49 111.4M273.3 126.25L275.9 129.88M273.3 126.25L269.07 127.77M269 122.85L267.21 118.67M269 122.85L273.02 121.99M261.6 129.05L261.59 133.46M261.6 129.05L257.81 128.33M257.7 131.45L260.79 134.46M257.7 131.45L253.75 133.26M257.7 131.45L257.03 127.84M277.3 126.75L280.92 126.04M277.3 126.75L276.56 131.08M277.3 126.75L273.65 124.84M300.1 198L295.67 198.39M300.1 198L300.1 193.7M310.6 198.5L309.91 194.46M310.6 198.5L314.05 198.4M314.5 206.3L317.15 204.09M314.5 206.3L316.26 209.91M310.6 211.8L314.75 210.43M310.6 211.8L309.96 215.35M296.5 204L293.32 206.69M296.5 204L295.09 200.65M294.9 215.5L297.5 219.13M294.9 215.5L290.67 217.02M290.6 212.1L288.81 207.92M290.6 212.1L294.62 211.24M283.2 218.3L283.19 222.71M283.2 218.3L279.41 217.58M279.3 220.7L282.39 223.71M279.3 220.7L275.35 222.51M279.3 220.7L278.63 217.09M298.9 216L302.52 215.29M298.9 216L298.16 220.33M298.9 216L295.25 214.09" stroke="#929ea8" stroke-width="0.9" fill="none"/><g fill="#e9eef2" stroke="#98a7b4" stroke-width="0.4"><circle cx="90.87" cy="56.09" r="1.1"/><circle cx="89.7" cy="61.5" r="1.1"/><circle cx="87.66" cy="62.82" r="1.1"/><circle cx="83.18" cy="67.32" r="1.1"/><circle cx="73.12" cy="66.87" r="1.1"/><circle cx="68.94" cy="63.03" r="1.1"/><circle cx="66.97" cy="58.3" r="1.1"/><circle cx="68.52" cy="52.56" r="1.1"/><circle cx="69.2" cy="51.23" r="1.1"/><circle cx="73.83" cy="46.5" r="1.1"/><circle cx="85.67" cy="43.68" r="1.1"/><circle cx="92.36" cy="45.5" r="1.1"/><circle cx="94.86" cy="52.36" r="1.1"/><circle cx="89.83" cy="49.76" r="1.1"/><circle cx="101.82" cy="39.4" r="1.1"/><circle cx="104.56" cy="45.81" r="1.1"/><circle cx="100.73" cy="38.76" r="1.1"/><circle cx="106.5" cy="38.54" r="1.1"/><circle cx="105.54" cy="44.57" r="1.1"/><circle cx="81.55" cy="46.73" r="1.1"/><circle cx="85.55" cy="42.19" r="1.1"/><circle cx="89.04" cy="48.36" r="1.1"/><circle cx="112.47" cy="145.34" r="1.1"/><circle cx="111.3" cy="150.75" r="1.1"/><circle cx="109.26" cy="152.07" r="1.1"/><circle cx="104.78" cy="156.57" r="1.1"/><circle cx="94.72" cy="156.12" r="1.1"/><circle cx="90.54" cy="152.28" r="1.1"/><circle cx="88.57" cy="147.55" r="1.1"/><circle cx="90.12" cy="141.81" r="1.1"/><circle cx="90.8" cy="140.48" r="1.1"/><circle cx="95.43" cy="135.75" r="1.1"/><circle cx="107.27" cy="132.93" r="1.1"/><circle cx="113.96" cy="134.75" r="1.1"/><circle cx="116.46" cy="141.61" r="1.1"/><circle cx="111.43" cy="139.01" r="1.1"/><circle cx="123.42" cy="128.65" r="1.1"/><circle cx="126.16" cy="135.06" r="1.1"/><circle cx="122.33" cy="128.01" r="1.1"/><circle cx="128.1" cy="127.79" r="1.1"/><circle cx="127.14" cy="133.82" r="1.1"/><circle cx="103.15" cy="135.98" r="1.1"/><circle cx="107.15" cy="131.44" r="1.1"/><circle cx="110.64" cy="137.61" r="1.1"/><circle cx="134.07" cy="234.59" r="1.1"/><circle cx="132.9" cy="240" r="1.1"/><circle cx="130.86" cy="241.32" r="1.1"/><circle cx="126.38" cy="245.82" r="1.1"/><circle cx="116.32" cy="245.37" r="1.1"/><circle cx="112.14" cy="241.53" r="1.1"/><circle cx="110.17" cy="236.8" r="1.1"/><circle cx="111.72" cy="231.06" r="1.1"/><circle cx="112.4" cy="229.73" r="1.1"/><circle cx="117.03" cy="225" r="1.1"/><circle cx="128.87" cy="222.18" r="1.1"/><circle cx="135.56" cy="224" r="1.1"/><circle cx="138.06" cy="230.86" r="1.1"/><circle cx="133.03" cy="228.26" r="1.1"/><circle cx="145.02" cy="217.9" r="1.1"/><circle cx="147.76" cy="224.31" r="1.1"/><circle cx="143.93" cy="217.26" r="1.1"/><circle cx="149.7" cy="217.04" r="1.1"/><circle cx="148.74" cy="223.07" r="1.1"/><circle cx="124.75" cy="225.23" r="1.1"/><circle cx="128.75" cy="220.69" r="1.1"/><circle cx="132.24" cy="226.86" r="1.1"/><circle cx="215.27" cy="56.09" r="1.1"/><circle cx="214.1" cy="61.5" r="1.1"/><circle cx="212.06" cy="62.82" r="1.1"/><circle cx="207.58" cy="67.32" r="1.1"/><circle cx="197.52" cy="66.87" r="1.1"/><circle cx="193.34" cy="63.03" r="1.1"/><circle cx="191.37" cy="58.3" r="1.1"/><circle cx="192.92" cy="52.56" r="1.1"/><circle cx="193.6" cy="51.23" r="1.1"/><circle cx="198.23" cy="46.5" r="1.1"/><circle cx="210.07" cy="43.68" r="1.1"/><circle cx="216.76" cy="45.5" r="1.1"/><circle cx="219.26" cy="52.36" r="1.1"/><circle cx="214.23" cy="49.76" r="1.1"/><circle cx="226.22" cy="39.4" r="1.1"/><circle cx="228.96" cy="45.81" r="1.1"/><circle cx="225.13" cy="38.76" r="1.1"/><circle cx="230.9" cy="38.54" r="1.1"/><circle cx="229.94" cy="44.57" r="1.1"/><circle cx="205.95" cy="46.73" r="1.1"/><circle cx="209.95" cy="42.19" r="1.1"/><circle cx="213.44" cy="48.36" r="1.1"/><circle cx="236.87" cy="145.34" r="1.1"/><circle cx="235.7" cy="150.75" r="1.1"/><circle cx="233.66" cy="152.07" r="1.1"/><circle cx="229.18" cy="156.57" r="1.1"/><circle cx="219.12" cy="156.12" r="1.1"/><circle cx="214.94" cy="152.28" r="1.1"/><circle cx="212.97" cy="147.55" r="1.1"/><circle cx="214.52" cy="141.81" r="1.1"/><circle cx="215.2" cy="140.48" r="1.1"/><circle cx="219.83" cy="135.75" r="1.1"/><circle cx="231.67" cy="132.93" r="1.1"/><circle cx="238.36" cy="134.75" r="1.1"/><circle cx="240.86" cy="141.61" r="1.1"/><circle cx="235.83" cy="139.01" r="1.1"/><circle cx="247.82" cy="128.65" r="1.1"/><circle cx="250.56" cy="135.06" r="1.1"/><circle cx="246.73" cy="128.01" r="1.1"/><circle cx="252.5" cy="127.79" r="1.1"/><circle cx="251.54" cy="133.82" r="1.1"/><circle cx="227.55" cy="135.98" r="1.1"/><circle cx="231.55" cy="131.44" r="1.1"/><circle cx="235.04" cy="137.61" r="1.1"/><circle cx="258.47" cy="234.59" r="1.1"/><circle cx="257.3" cy="240" r="1.1"/><circle cx="255.26" cy="241.32" r="1.1"/><circle cx="250.78" cy="245.82" r="1.1"/><circle cx="240.72" cy="245.37" r="1.1"/><circle cx="236.54" cy="241.53" r="1.1"/><circle cx="234.57" cy="236.8" r="1.1"/><circle cx="236.12" cy="231.06" r="1.1"/><circle cx="236.8" cy="229.73" r="1.1"/><circle cx="241.43" cy="225" r="1.1"/><circle cx="253.27" cy="222.18" r="1.1"/><circle cx="259.96" cy="224" r="1.1"/><circle cx="262.46" cy="230.86" r="1.1"/><circle cx="257.43" cy="228.26" r="1.1"/><circle cx="269.42" cy="217.9" r="1.1"/><circle cx="272.16" cy="224.31" r="1.1"/><circle cx="268.33" cy="217.26" r="1.1"/><circle cx="274.1" cy="217.04" r="1.1"/><circle cx="273.14" cy="223.07" r="1.1"/><circle cx="249.15" cy="225.23" r="1.1"/><circle cx="253.15" cy="220.69" r="1.1"/><circle cx="256.64" cy="226.86" r="1.1"/><circle cx="105.25" cy="64.73" r="1.1"/><circle cx="111.47" cy="64.47" r="1.1"/><circle cx="109.52" cy="58.34" r="1.1"/><circle cx="113.12" cy="64.07" r="1.1"/><circle cx="99.58" cy="64.2" r="1.1"/><circle cx="105.7" cy="60.92" r="1.1"/><circle cx="104" cy="77.23" r="1.1"/><circle cx="96.5" cy="78.6" r="1.1"/><circle cx="100.84" cy="73.02" r="1.1"/><circle cx="106.44" cy="83.83" r="1.1"/><circle cx="104.57" cy="89.42" r="1.1"/><circle cx="98.95" cy="85.23" r="1.1"/><circle cx="116.71" cy="74.45" r="1.1"/><circle cx="121.1" cy="79.79" r="1.1"/><circle cx="114.62" cy="81.76" r="1.1"/><circle cx="99" cy="74.57" r="1.1"/><circle cx="95.39" cy="68.93" r="1.1"/><circle cx="102.39" cy="67.39" r="1.1"/><circle cx="126.85" cy="153.98" r="1.1"/><circle cx="133.07" cy="153.72" r="1.1"/><circle cx="131.12" cy="147.59" r="1.1"/><circle cx="134.72" cy="153.32" r="1.1"/><circle cx="121.18" cy="153.45" r="1.1"/><circle cx="127.3" cy="150.17" r="1.1"/><circle cx="125.6" cy="166.48" r="1.1"/><circle cx="118.1" cy="167.85" r="1.1"/><circle cx="122.44" cy="162.27" r="1.1"/><circle cx="128.04" cy="173.08" r="1.1"/><circle cx="126.17" cy="178.67" r="1.1"/><circle cx="120.55" cy="174.48" r="1.1"/><circle cx="138.31" cy="163.7" r="1.1"/><circle cx="142.7" cy="169.04" r="1.1"/><circle cx="136.22" cy="171.01" r="1.1"/><circle cx="120.6" cy="163.82" r="1.1"/><circle cx="116.99" cy="158.18" r="1.1"/><circle cx="123.99" cy="156.64" r="1.1"/><circle cx="229.65" cy="64.73" r="1.1"/><circle cx="235.87" cy="64.47" r="1.1"/><circle cx="233.92" cy="58.34" r="1.1"/><circle cx="237.52" cy="64.07" r="1.1"/><circle cx="223.98" cy="64.2" r="1.1"/><circle cx="230.1" cy="60.92" r="1.1"/><circle cx="228.4" cy="77.23" r="1.1"/><circle cx="220.9" cy="78.6" r="1.1"/><circle cx="225.24" cy="73.02" r="1.1"/><circle cx="230.84" cy="83.83" r="1.1"/><circle cx="228.97" cy="89.42" r="1.1"/><circle cx="223.35" cy="85.23" r="1.1"/><circle cx="241.11" cy="74.45" r="1.1"/><circle cx="245.5" cy="79.79" r="1.1"/><circle cx="239.02" cy="81.76" r="1.1"/><circle cx="223.4" cy="74.57" r="1.1"/><circle cx="219.79" cy="68.93" r="1.1"/><circle cx="226.79" cy="67.39" r="1.1"/><circle cx="251.25" cy="153.98" r="1.1"/><circle cx="257.47" cy="153.72" r="1.1"/><circle cx="255.52" cy="147.59" r="1.1"/><circle cx="259.12" cy="153.32" r="1.1"/><circle cx="245.58" cy="153.45" r="1.1"/><circle cx="251.7" cy="150.17" r="1.1"/><circle cx="250" cy="166.48" r="1.1"/><circle cx="242.5" cy="167.85" r="1.1"/><circle cx="246.84" cy="162.27" r="1.1"/><circle cx="252.44" cy="173.08" r="1.1"/><circle cx="250.57" cy="178.67" r="1.1"/><circle cx="244.95" cy="174.48" r="1.1"/><circle cx="262.71" cy="163.7" r="1.1"/><circle cx="267.1" cy="169.04" r="1.1"/><circle cx="260.62" cy="171.01" r="1.1"/><circle cx="245" cy="163.82" r="1.1"/><circle cx="241.39" cy="158.18" r="1.1"/><circle cx="248.39" cy="156.64" r="1.1"/><circle cx="7.34" cy="53" r="1.1"/><circle cx="8.21" cy="47.64" r="1.1"/><circle cx="16.47" cy="46.3" r="1.1"/><circle cx="22.57" cy="47.12" r="1.1"/><circle cx="15.19" cy="50.89" r="1.1"/><circle cx="21.86" cy="50.89" r="1.1"/><circle cx="8.76" cy="58.49" r="1.1"/><circle cx="5.65" cy="53.85" r="1.1"/><circle cx="34.68" cy="46.6" r="1.1"/><circle cx="38.86" cy="50.89" r="1.1"/><circle cx="37.02" cy="56.03" r="1.1"/><circle cx="34.08" cy="50" r="1.1"/><circle cx="50.33" cy="46.28" r="1.1"/><circle cx="49.34" cy="53.58" r="1.1"/><circle cx="44.03" cy="46.28" r="1.1"/><circle cx="49.74" cy="41.71" r="1.1"/><circle cx="51.41" cy="47.55" r="1.1"/><circle cx="30.85" cy="57.22" r="1.1"/><circle cx="28.98" cy="62.88" r="1.1"/><circle cx="24.54" cy="59.26" r="1.1"/><circle cx="28.94" cy="142.25" r="1.1"/><circle cx="29.81" cy="136.89" r="1.1"/><circle cx="38.07" cy="135.55" r="1.1"/><circle cx="44.17" cy="136.37" r="1.1"/><circle cx="36.79" cy="140.14" r="1.1"/><circle cx="43.46" cy="140.14" r="1.1"/><circle cx="30.36" cy="147.74" r="1.1"/><circle cx="27.25" cy="143.1" r="1.1"/><circle cx="56.28" cy="135.85" r="1.1"/><circle cx="60.46" cy="140.14" r="1.1"/><circle cx="58.62" cy="145.28" r="1.1"/><circle cx="55.68" cy="139.25" r="1.1"/><circle cx="71.93" cy="135.53" r="1.1"/><circle cx="70.94" cy="142.83" r="1.1"/><circle cx="65.63" cy="135.53" r="1.1"/><circle cx="71.34" cy="130.96" r="1.1"/><circle cx="73.01" cy="136.8" r="1.1"/><circle cx="52.45" cy="146.47" r="1.1"/><circle cx="50.58" cy="152.13" r="1.1"/><circle cx="46.14" cy="148.51" r="1.1"/><circle cx="131.74" cy="53" r="1.1"/><circle cx="132.61" cy="47.64" r="1.1"/><circle cx="140.87" cy="46.3" r="1.1"/><circle cx="146.97" cy="47.12" r="1.1"/><circle cx="139.59" cy="50.89" r="1.1"/><circle cx="146.26" cy="50.89" r="1.1"/><circle cx="133.16" cy="58.49" r="1.1"/><circle cx="130.05" cy="53.85" r="1.1"/><circle cx="159.08" cy="46.6" r="1.1"/><circle cx="163.26" cy="50.89" r="1.1"/><circle cx="161.42" cy="56.03" r="1.1"/><circle cx="158.48" cy="50" r="1.1"/><circle cx="174.73" cy="46.28" r="1.1"/><circle cx="173.74" cy="53.58" r="1.1"/><circle cx="168.43" cy="46.28" r="1.1"/><circle cx="174.14" cy="41.71" r="1.1"/><circle cx="175.81" cy="47.55" r="1.1"/><circle cx="155.25" cy="57.22" r="1.1"/><circle cx="153.38" cy="62.88" r="1.1"/><circle cx="148.94" cy="59.26" r="1.1"/><circle cx="153.34" cy="142.25" r="1.1"/><circle cx="154.21" cy="136.89" r="1.1"/><circle cx="162.47" cy="135.55" r="1.1"/><circle cx="168.57" cy="136.37" r="1.1"/><circle cx="161.19" cy="140.14" r="1.1"/><circle cx="167.86" cy="140.14" r="1.1"/><circle cx="154.76" cy="147.74" r="1.1"/><circle cx="151.65" cy="143.1" r="1.1"/><circle cx="180.68" cy="135.85" r="1.1"/><circle cx="184.86" cy="140.14" r="1.1"/><circle cx="183.02" cy="145.28" r="1.1"/><circle cx="180.08" cy="139.25" r="1.1"/><circle cx="196.33" cy="135.53" r="1.1"/><circle cx="195.34" cy="142.83" r="1.1"/><circle cx="190.03" cy="135.53" r="1.1"/><circle cx="195.74" cy="130.96" r="1.1"/><circle cx="197.41" cy="136.8" r="1.1"/><circle cx="176.85" cy="146.47" r="1.1"/><circle cx="174.98" cy="152.13" r="1.1"/><circle cx="170.54" cy="148.51" r="1.1"/><circle cx="256.14" cy="53" r="1.1"/><circle cx="257.01" cy="47.64" r="1.1"/><circle cx="265.27" cy="46.3" r="1.1"/><circle cx="271.37" cy="47.12" r="1.1"/><circle cx="263.99" cy="50.89" r="1.1"/><circle cx="270.66" cy="50.89" r="1.1"/><circle cx="257.56" cy="58.49" r="1.1"/><circle cx="254.45" cy="53.85" r="1.1"/><circle cx="283.48" cy="46.6" r="1.1"/><circle cx="287.66" cy="50.89" r="1.1"/><circle cx="285.82" cy="56.03" r="1.1"/><circle cx="282.88" cy="50" r="1.1"/><circle cx="299.13" cy="46.28" r="1.1"/><circle cx="298.14" cy="53.58" r="1.1"/><circle cx="292.83" cy="46.28" r="1.1"/><circle cx="298.54" cy="41.71" r="1.1"/><circle cx="300.21" cy="47.55" r="1.1"/><circle cx="279.65" cy="57.22" r="1.1"/><circle cx="277.78" cy="62.88" r="1.1"/><circle cx="273.34" cy="59.26" r="1.1"/><circle cx="277.74" cy="142.25" r="1.1"/><circle cx="278.61" cy="136.89" r="1.1"/><circle cx="286.87" cy="135.55" r="1.1"/><circle cx="292.97" cy="136.37" r="1.1"/><circle cx="285.59" cy="140.14" r="1.1"/><circle cx="292.26" cy="140.14" r="1.1"/><circle cx="279.16" cy="147.74" r="1.1"/><circle cx="276.05" cy="143.1" r="1.1"/><circle cx="305.08" cy="135.85" r="1.1"/><circle cx="309.26" cy="140.14" r="1.1"/><circle cx="307.42" cy="145.28" r="1.1"/><circle cx="304.48" cy="139.25" r="1.1"/><circle cx="320.73" cy="135.53" r="1.1"/><circle cx="319.74" cy="142.83" r="1.1"/><circle cx="314.43" cy="135.53" r="1.1"/><circle cx="320.14" cy="130.96" r="1.1"/><circle cx="321.81" cy="136.8" r="1.1"/><circle cx="301.25" cy="146.47" r="1.1"/><circle cx="299.38" cy="152.13" r="1.1"/><circle cx="294.94" cy="148.51" r="1.1"/><circle cx="161.42" cy="69.09" r="1.1"/><circle cx="165.66" cy="65.11" r="1.1"/><circle cx="168.7" cy="70.52" r="1.1"/><circle cx="162.19" cy="71.44" r="1.1"/><circle cx="161.25" cy="79.67" r="1.1"/><circle cx="154.2" cy="78.91" r="1.1"/><circle cx="157.1" cy="74.02" r="1.1"/><circle cx="175.03" cy="76.03" r="1.1"/><circle cx="174.69" cy="81.68" r="1.1"/><circle cx="176.2" cy="82.99" r="1.1"/><circle cx="170.82" cy="82.28" r="1.1"/><circle cx="174.39" cy="74.37" r="1.1"/><circle cx="180.76" cy="73.1" r="1.1"/><circle cx="179.94" cy="79.23" r="1.1"/><circle cx="169.09" cy="82.78" r="1.1"/><circle cx="162.99" cy="86.77" r="1.1"/><circle cx="167.18" cy="89.97" r="1.1"/><circle cx="161.86" cy="91.72" r="1.1"/><circle cx="160.47" cy="92.18" r="1.1"/><circle cx="155.43" cy="88.28" r="1.1"/><circle cx="163.67" cy="84.8" r="1.1"/><circle cx="157.35" cy="83.51" r="1.1"/><circle cx="183.02" cy="158.34" r="1.1"/><circle cx="187.26" cy="154.36" r="1.1"/><circle cx="190.3" cy="159.77" r="1.1"/><circle cx="183.79" cy="160.69" r="1.1"/><circle cx="182.85" cy="168.92" r="1.1"/><circle cx="175.8" cy="168.16" r="1.1"/><circle cx="178.7" cy="163.27" r="1.1"/><circle cx="196.63" cy="165.28" r="1.1"/><circle cx="196.29" cy="170.93" r="1.1"/><circle cx="197.8" cy="172.24" r="1.1"/><circle cx="192.42" cy="171.53" r="1.1"/><circle cx="195.99" cy="163.62" r="1.1"/><circle cx="202.36" cy="162.35" r="1.1"/><circle cx="201.54" cy="168.48" r="1.1"/><circle cx="190.69" cy="172.03" r="1.1"/><circle cx="184.59" cy="176.02" r="1.1"/><circle cx="188.78" cy="179.22" r="1.1"/><circle cx="183.46" cy="180.97" r="1.1"/><circle cx="182.07" cy="181.43" r="1.1"/><circle cx="177.03" cy="177.53" r="1.1"/><circle cx="185.27" cy="174.05" r="1.1"/><circle cx="178.95" cy="172.76" r="1.1"/><circle cx="285.82" cy="69.09" r="1.1"/><circle cx="290.06" cy="65.11" r="1.1"/><circle cx="293.1" cy="70.52" r="1.1"/><circle cx="286.59" cy="71.44" r="1.1"/><circle cx="285.65" cy="79.67" r="1.1"/><circle cx="278.6" cy="78.91" r="1.1"/><circle cx="281.5" cy="74.02" r="1.1"/><circle cx="299.43" cy="76.03" r="1.1"/><circle cx="299.09" cy="81.68" r="1.1"/><circle cx="300.6" cy="82.99" r="1.1"/><circle cx="295.22" cy="82.28" r="1.1"/><circle cx="298.79" cy="74.37" r="1.1"/><circle cx="305.16" cy="73.1" r="1.1"/><circle cx="304.34" cy="79.23" r="1.1"/><circle cx="293.49" cy="82.78" r="1.1"/><circle cx="287.39" cy="86.77" r="1.1"/><circle cx="291.58" cy="89.97" r="1.1"/><circle cx="286.26" cy="91.72" r="1.1"/><circle cx="284.87" cy="92.18" r="1.1"/><circle cx="279.83" cy="88.28" r="1.1"/><circle cx="288.07" cy="84.8" r="1.1"/><circle cx="281.75" cy="83.51" r="1.1"/><circle cx="307.42" cy="158.34" r="1.1"/><circle cx="311.66" cy="154.36" r="1.1"/><circle cx="314.7" cy="159.77" r="1.1"/><circle cx="308.19" cy="160.69" r="1.1"/><circle cx="307.25" cy="168.92" r="1.1"/><circle cx="300.2" cy="168.16" r="1.1"/><circle cx="303.1" cy="163.27" r="1.1"/><circle cx="321.03" cy="165.28" r="1.1"/><circle cx="320.69" cy="170.93" r="1.1"/><circle cx="322.2" cy="172.24" r="1.1"/><circle cx="316.82" cy="171.53" r="1.1"/><circle cx="320.39" cy="163.62" r="1.1"/><circle cx="326.76" cy="162.35" r="1.1"/><circle cx="325.94" cy="168.48" r="1.1"/><circle cx="315.09" cy="172.03" r="1.1"/><circle cx="308.99" cy="176.02" r="1.1"/><circle cx="313.18" cy="179.22" r="1.1"/><circle cx="307.86" cy="180.97" r="1.1"/><circle cx="306.47" cy="181.43" r="1.1"/><circle cx="301.43" cy="177.53" r="1.1"/><circle cx="309.67" cy="174.05" r="1.1"/><circle cx="303.35" cy="172.76" r="1.1"/><circle cx="70.03" cy="91.45" r="1.1"/><circle cx="71.76" cy="86.85" r="1.1"/><circle cx="70.69" cy="83.33" r="1.1"/><circle cx="77.75" cy="81.06" r="1.1"/><circle cx="77.15" cy="80.61" r="1.1"/><circle cx="82.52" cy="84.66" r="1.1"/><circle cx="80.45" cy="93.96" r="1.1"/><circle cx="74.6" cy="93.37" r="1.1"/><circle cx="78.21" cy="101.27" r="1.1"/><circle cx="60.37" cy="93.76" r="1.1"/><circle cx="65.98" cy="90.33" r="1.1"/><circle cx="77.14" cy="102.55" r="1.1"/><circle cx="73.32" cy="107.92" r="1.1"/><circle cx="69.45" cy="102.11" r="1.1"/><circle cx="78.69" cy="92.61" r="1.1"/><circle cx="84.47" cy="93.72" r="1.1"/><circle cx="82.31" cy="98.65" r="1.1"/><circle cx="65.27" cy="99.51" r="1.1"/><circle cx="59.2" cy="101.26" r="1.1"/><circle cx="58.64" cy="94.3" r="1.1"/><circle cx="91.63" cy="180.7" r="1.1"/><circle cx="93.36" cy="176.1" r="1.1"/><circle cx="92.29" cy="172.58" r="1.1"/><circle cx="99.35" cy="170.31" r="1.1"/><circle cx="98.75" cy="169.86" r="1.1"/><circle cx="104.12" cy="173.91" r="1.1"/><circle cx="102.05" cy="183.21" r="1.1"/><circle cx="96.2" cy="182.62" r="1.1"/><circle cx="99.81" cy="190.52" r="1.1"/><circle cx="81.97" cy="183.01" r="1.1"/><circle cx="87.58" cy="179.58" r="1.1"/><circle cx="98.74" cy="191.8" r="1.1"/><circle cx="94.92" cy="197.17" r="1.1"/><circle cx="91.05" cy="191.36" r="1.1"/><circle cx="100.29" cy="181.86" r="1.1"/><circle cx="106.07" cy="182.97" r="1.1"/><circle cx="103.91" cy="187.9" r="1.1"/><circle cx="86.87" cy="188.76" r="1.1"/><circle cx="80.8" cy="190.51" r="1.1"/><circle cx="80.24" cy="183.55" r="1.1"/><circle cx="194.43" cy="91.45" r="1.1"/><circle cx="196.16" cy="86.85" r="1.1"/><circle cx="195.09" cy="83.33" r="1.1"/><circle cx="202.15" cy="81.06" r="1.1"/><circle cx="201.55" cy="80.61" r="1.1"/><circle cx="206.92" cy="84.66" r="1.1"/><circle cx="204.85" cy="93.96" r="1.1"/><circle cx="199" cy="93.37" r="1.1"/><circle cx="202.61" cy="101.27" r="1.1"/><circle cx="184.77" cy="93.76" r="1.1"/><circle cx="190.38" cy="90.33" r="1.1"/><circle cx="201.54" cy="102.55" r="1.1"/><circle cx="197.72" cy="107.92" r="1.1"/><circle cx="193.85" cy="102.11" r="1.1"/><circle cx="203.09" cy="92.61" r="1.1"/><circle cx="208.87" cy="93.72" r="1.1"/><circle cx="206.71" cy="98.65" r="1.1"/><circle cx="189.67" cy="99.51" r="1.1"/><circle cx="183.6" cy="101.26" r="1.1"/><circle cx="183.04" cy="94.3" r="1.1"/><circle cx="216.03" cy="180.7" r="1.1"/><circle cx="217.76" cy="176.1" r="1.1"/><circle cx="216.69" cy="172.58" r="1.1"/><circle cx="223.75" cy="170.31" r="1.1"/><circle cx="223.15" cy="169.86" r="1.1"/><circle cx="228.52" cy="173.91" r="1.1"/><circle cx="226.45" cy="183.21" r="1.1"/><circle cx="220.6" cy="182.62" r="1.1"/><circle cx="224.21" cy="190.52" r="1.1"/><circle cx="206.37" cy="183.01" r="1.1"/><circle cx="211.98" cy="179.58" r="1.1"/><circle cx="223.14" cy="191.8" r="1.1"/><circle cx="219.32" cy="197.17" r="1.1"/><circle cx="215.45" cy="191.36" r="1.1"/><circle cx="224.69" cy="181.86" r="1.1"/><circle cx="230.47" cy="182.97" r="1.1"/><circle cx="228.31" cy="187.9" r="1.1"/><circle cx="211.27" cy="188.76" r="1.1"/><circle cx="205.2" cy="190.51" r="1.1"/><circle cx="204.64" cy="183.55" r="1.1"/><circle cx="133.13" cy="91.75" r="1.1"/><circle cx="133.4" cy="97.84" r="1.1"/><circle cx="118.64" cy="94.09" r="1.1"/><circle cx="123.1" cy="89.9" r="1.1"/><circle cx="140.81" cy="94.03" r="1.1"/><circle cx="136.2" cy="98.21" r="1.1"/><circle cx="131.61" cy="87.94" r="1.1"/><circle cx="134.69" cy="81.95" r="1.1"/><circle cx="139.02" cy="86.83" r="1.1"/><circle cx="134.56" cy="95.57" r="1.1"/><circle cx="138.77" cy="100.01" r="1.1"/><circle cx="138.04" cy="107.36" r="1.1"/><circle cx="134.57" cy="112.12" r="1.1"/><circle cx="129.4" cy="114.26" r="1.1"/><circle cx="124.81" cy="108.97" r="1.1"/><circle cx="132.68" cy="108.35" r="1.1"/><circle cx="126.52" cy="106.58" r="1.1"/><circle cx="123.28" cy="98.85" r="1.1"/><circle cx="117.06" cy="100.23" r="1.1"/><circle cx="117.43" cy="94.16" r="1.1"/><circle cx="154.73" cy="181" r="1.1"/><circle cx="155" cy="187.09" r="1.1"/><circle cx="140.24" cy="183.34" r="1.1"/><circle cx="144.7" cy="179.15" r="1.1"/><circle cx="162.41" cy="183.28" r="1.1"/><circle cx="157.8" cy="187.46" r="1.1"/><circle cx="153.21" cy="177.19" r="1.1"/><circle cx="156.29" cy="171.2" r="1.1"/><circle cx="160.62" cy="176.08" r="1.1"/><circle cx="156.16" cy="184.82" r="1.1"/><circle cx="160.37" cy="189.26" r="1.1"/><circle cx="159.64" cy="196.61" r="1.1"/><circle cx="156.17" cy="201.37" r="1.1"/><circle cx="151" cy="203.51" r="1.1"/><circle cx="146.41" cy="198.22" r="1.1"/><circle cx="154.28" cy="197.6" r="1.1"/><circle cx="148.12" cy="195.83" r="1.1"/><circle cx="144.88" cy="188.1" r="1.1"/><circle cx="138.66" cy="189.48" r="1.1"/><circle cx="139.03" cy="183.41" r="1.1"/><circle cx="257.53" cy="91.75" r="1.1"/><circle cx="257.8" cy="97.84" r="1.1"/><circle cx="243.04" cy="94.09" r="1.1"/><circle cx="247.5" cy="89.9" r="1.1"/><circle cx="265.21" cy="94.03" r="1.1"/><circle cx="260.6" cy="98.21" r="1.1"/><circle cx="256.01" cy="87.94" r="1.1"/><circle cx="259.09" cy="81.95" r="1.1"/><circle cx="263.42" cy="86.83" r="1.1"/><circle cx="258.96" cy="95.57" r="1.1"/><circle cx="263.17" cy="100.01" r="1.1"/><circle cx="262.44" cy="107.36" r="1.1"/><circle cx="258.97" cy="112.12" r="1.1"/><circle cx="253.8" cy="114.26" r="1.1"/><circle cx="249.21" cy="108.97" r="1.1"/><circle cx="257.08" cy="108.35" r="1.1"/><circle cx="250.92" cy="106.58" r="1.1"/><circle cx="247.68" cy="98.85" r="1.1"/><circle cx="241.46" cy="100.23" r="1.1"/><circle cx="241.83" cy="94.16" r="1.1"/><circle cx="279.13" cy="181" r="1.1"/><circle cx="279.4" cy="187.09" r="1.1"/><circle cx="264.64" cy="183.34" r="1.1"/><circle cx="269.1" cy="179.15" r="1.1"/><circle cx="286.81" cy="183.28" r="1.1"/><circle cx="282.2" cy="187.46" r="1.1"/><circle cx="277.61" cy="177.19" r="1.1"/><circle cx="280.69" cy="171.2" r="1.1"/><circle cx="285.02" cy="176.08" r="1.1"/><circle cx="280.56" cy="184.82" r="1.1"/><circle cx="284.77" cy="189.26" r="1.1"/><circle cx="284.04" cy="196.61" r="1.1"/><circle cx="280.57" cy="201.37" r="1.1"/><circle cx="275.4" cy="203.51" r="1.1"/><circle cx="270.81" cy="198.22" r="1.1"/><circle cx="278.68" cy="197.6" r="1.1"/><circle cx="272.52" cy="195.83" r="1.1"/><circle cx="269.28" cy="188.1" r="1.1"/><circle cx="263.06" cy="189.48" r="1.1"/><circle cx="263.43" cy="183.41" r="1.1"/><circle cx="69.55" cy="127.15" r="1.1"/><circle cx="65.17" cy="131.53" r="1.1"/><circle cx="62.55" cy="124.74" r="1.1"/><circle cx="64.24" cy="118.69" r="1.1"/><circle cx="72.69" cy="120.46" r="1.1"/><circle cx="99.98" cy="121.63" r="1.1"/><circle cx="93.28" cy="122.82" r="1.1"/><circle cx="104.71" cy="113.66" r="1.1"/><circle cx="107.89" cy="118.23" r="1.1"/><circle cx="107.5" cy="119.29" r="1.1"/><circle cx="105.97" cy="124.65" r="1.1"/><circle cx="97.27" cy="127.4" r="1.1"/><circle cx="91.9" cy="125.84" r="1.1"/><circle cx="79.36" cy="117.07" r="1.1"/><circle cx="83.7" cy="122.37" r="1.1"/><circle cx="77.67" cy="124.35" r="1.1"/><circle cx="63.2" cy="127.76" r="1.1"/><circle cx="56.65" cy="126.49" r="1.1"/><circle cx="59.79" cy="120.6" r="1.1"/><circle cx="82.47" cy="114.22" r="1.1"/><circle cx="85.13" cy="108.94" r="1.1"/><circle cx="90.56" cy="112.53" r="1.1"/><circle cx="91.15" cy="216.4" r="1.1"/><circle cx="86.77" cy="220.78" r="1.1"/><circle cx="84.15" cy="213.99" r="1.1"/><circle cx="85.84" cy="207.94" r="1.1"/><circle cx="94.29" cy="209.71" r="1.1"/><circle cx="121.58" cy="210.88" r="1.1"/><circle cx="114.88" cy="212.07" r="1.1"/><circle cx="126.31" cy="202.91" r="1.1"/><circle cx="129.49" cy="207.48" r="1.1"/><circle cx="129.1" cy="208.54" r="1.1"/><circle cx="127.57" cy="213.9" r="1.1"/><circle cx="118.87" cy="216.65" r="1.1"/><circle cx="113.5" cy="215.09" r="1.1"/><circle cx="100.96" cy="206.32" r="1.1"/><circle cx="105.3" cy="211.62" r="1.1"/><circle cx="99.27" cy="213.6" r="1.1"/><circle cx="84.8" cy="217.01" r="1.1"/><circle cx="78.25" cy="215.74" r="1.1"/><circle cx="81.39" cy="209.85" r="1.1"/><circle cx="104.07" cy="203.47" r="1.1"/><circle cx="106.73" cy="198.19" r="1.1"/><circle cx="112.16" cy="201.78" r="1.1"/><circle cx="193.95" cy="127.15" r="1.1"/><circle cx="189.57" cy="131.53" r="1.1"/><circle cx="186.95" cy="124.74" r="1.1"/><circle cx="188.64" cy="118.69" r="1.1"/><circle cx="197.09" cy="120.46" r="1.1"/><circle cx="224.38" cy="121.63" r="1.1"/><circle cx="217.68" cy="122.82" r="1.1"/><circle cx="229.11" cy="113.66" r="1.1"/><circle cx="232.29" cy="118.23" r="1.1"/><circle cx="231.9" cy="119.29" r="1.1"/><circle cx="230.37" cy="124.65" r="1.1"/><circle cx="221.67" cy="127.4" r="1.1"/><circle cx="216.3" cy="125.84" r="1.1"/><circle cx="203.76" cy="117.07" r="1.1"/><circle cx="208.1" cy="122.37" r="1.1"/><circle cx="202.07" cy="124.35" r="1.1"/><circle cx="187.6" cy="127.76" r="1.1"/><circle cx="181.05" cy="126.49" r="1.1"/><circle cx="184.19" cy="120.6" r="1.1"/><circle cx="206.87" cy="114.22" r="1.1"/><circle cx="209.53" cy="108.94" r="1.1"/><circle cx="214.96" cy="112.53" r="1.1"/><circle cx="215.55" cy="216.4" r="1.1"/><circle cx="211.17" cy="220.78" r="1.1"/><circle cx="208.55" cy="213.99" r="1.1"/><circle cx="210.24" cy="207.94" r="1.1"/><circle cx="218.69" cy="209.71" r="1.1"/><circle cx="245.98" cy="210.88" r="1.1"/><circle cx="239.28" cy="212.07" r="1.1"/><circle cx="250.71" cy="202.91" r="1.1"/><circle cx="253.89" cy="207.48" r="1.1"/><circle cx="253.5" cy="208.54" r="1.1"/><circle cx="251.97" cy="213.9" r="1.1"/><circle cx="243.27" cy="216.65" r="1.1"/><circle cx="237.9" cy="215.09" r="1.1"/><circle cx="225.36" cy="206.32" r="1.1"/><circle cx="229.7" cy="211.62" r="1.1"/><circle cx="223.67" cy="213.6" r="1.1"/><circle cx="209.2" cy="217.01" r="1.1"/><circle cx="202.65" cy="215.74" r="1.1"/><circle cx="205.79" cy="209.85" r="1.1"/><circle cx="228.47" cy="203.47" r="1.1"/><circle cx="231.13" cy="198.19" r="1.1"/><circle cx="236.56" cy="201.78" r="1.1"/><circle cx="318.35" cy="127.15" r="1.1"/><circle cx="313.97" cy="131.53" r="1.1"/><circle cx="311.35" cy="124.74" r="1.1"/><circle cx="313.04" cy="118.69" r="1.1"/><circle cx="321.49" cy="120.46" r="1.1"/><circle cx="348.78" cy="121.63" r="1.1"/><circle cx="342.08" cy="122.82" r="1.1"/><circle cx="353.51" cy="113.66" r="1.1"/><circle cx="356.69" cy="118.23" r="1.1"/><circle cx="356.3" cy="119.29" r="1.1"/><circle cx="354.77" cy="124.65" r="1.1"/><circle cx="346.07" cy="127.4" r="1.1"/><circle cx="340.7" cy="125.84" r="1.1"/><circle cx="328.16" cy="117.07" r="1.1"/><circle cx="332.5" cy="122.37" r="1.1"/><circle cx="326.47" cy="124.35" r="1.1"/><circle cx="312" cy="127.76" r="1.1"/><circle cx="305.45" cy="126.49" r="1.1"/><circle cx="308.59" cy="120.6" r="1.1"/><circle cx="331.27" cy="114.22" r="1.1"/><circle cx="333.93" cy="108.94" r="1.1"/><circle cx="339.36" cy="112.53" r="1.1"/><circle cx="339.95" cy="216.4" r="1.1"/><circle cx="335.57" cy="220.78" r="1.1"/><circle cx="332.95" cy="213.99" r="1.1"/><circle cx="334.64" cy="207.94" r="1.1"/><circle cx="343.09" cy="209.71" r="1.1"/><circle cx="370.38" cy="210.88" r="1.1"/><circle cx="363.68" cy="212.07" r="1.1"/><circle cx="375.11" cy="202.91" r="1.1"/><circle cx="378.29" cy="207.48" r="1.1"/><circle cx="377.9" cy="208.54" r="1.1"/><circle cx="376.37" cy="213.9" r="1.1"/><circle cx="367.67" cy="216.65" r="1.1"/><circle cx="362.3" cy="215.09" r="1.1"/><circle cx="349.76" cy="206.32" r="1.1"/><circle cx="354.1" cy="211.62" r="1.1"/><circle cx="348.07" cy="213.6" r="1.1"/><circle cx="333.6" cy="217.01" r="1.1"/><circle cx="327.05" cy="215.74" r="1.1"/><circle cx="330.19" cy="209.85" r="1.1"/><circle cx="352.87" cy="203.47" r="1.1"/><circle cx="355.53" cy="198.19" r="1.1"/><circle cx="360.96" cy="201.78" r="1.1"/><circle cx="128.07" cy="19.89" r="1.1"/><circle cx="132.5" cy="15.2" r="1.1"/><circle cx="142.31" cy="15.96" r="1.1"/><circle cx="146.45" cy="19.9" r="1.1"/><circle cx="149.55" cy="25.59" r="1.1"/><circle cx="148.66" cy="31.41" r="1.1"/><circle cx="147.15" cy="31.93" r="1.1"/><circle cx="142.36" cy="36.85" r="1.1"/><circle cx="125.72" cy="28.19" r="1.1"/><circle cx="127.49" cy="22.15" r="1.1"/><circle cx="129.9" cy="40.63" r="1.1"/><circle cx="123.07" cy="38.52" r="1.1"/><circle cx="121.21" cy="29.42" r="1.1"/><circle cx="127.02" cy="32.74" r="1.1"/><circle cx="115.59" cy="44.21" r="1.1"/><circle cx="111.81" cy="39.08" r="1.1"/><circle cx="114.79" cy="45.21" r="1.1"/><circle cx="107.75" cy="44.01" r="1.1"/><circle cx="111.03" cy="38.59" r="1.1"/><circle cx="134.92" cy="36.79" r="1.1"/><circle cx="130.56" cy="41.83" r="1.1"/><circle cx="127.65" cy="35.59" r="1.1"/><circle cx="149.67" cy="109.14" r="1.1"/><circle cx="154.1" cy="104.45" r="1.1"/><circle cx="163.91" cy="105.21" r="1.1"/><circle cx="168.05" cy="109.15" r="1.1"/><circle cx="171.15" cy="114.84" r="1.1"/><circle cx="170.26" cy="120.66" r="1.1"/><circle cx="168.75" cy="121.18" r="1.1"/><circle cx="163.96" cy="126.1" r="1.1"/><circle cx="147.32" cy="117.44" r="1.1"/><circle cx="149.09" cy="111.4" r="1.1"/><circle cx="151.5" cy="129.88" r="1.1"/><circle cx="144.67" cy="127.77" r="1.1"/><circle cx="142.81" cy="118.67" r="1.1"/><circle cx="148.62" cy="121.99" r="1.1"/><circle cx="137.19" cy="133.46" r="1.1"/><circle cx="133.41" cy="128.33" r="1.1"/><circle cx="136.39" cy="134.46" r="1.1"/><circle cx="129.35" cy="133.26" r="1.1"/><circle cx="132.63" cy="127.84" r="1.1"/><circle cx="156.52" cy="126.04" r="1.1"/><circle cx="152.16" cy="131.08" r="1.1"/><circle cx="149.25" cy="124.84" r="1.1"/><circle cx="171.27" cy="198.39" r="1.1"/><circle cx="175.7" cy="193.7" r="1.1"/><circle cx="185.51" cy="194.46" r="1.1"/><circle cx="189.65" cy="198.4" r="1.1"/><circle cx="192.75" cy="204.09" r="1.1"/><circle cx="191.86" cy="209.91" r="1.1"/><circle cx="190.35" cy="210.43" r="1.1"/><circle cx="185.56" cy="215.35" r="1.1"/><circle cx="168.92" cy="206.69" r="1.1"/><circle cx="170.69" cy="200.65" r="1.1"/><circle cx="173.1" cy="219.13" r="1.1"/><circle cx="166.27" cy="217.02" r="1.1"/><circle cx="164.41" cy="207.92" r="1.1"/><circle cx="170.22" cy="211.24" r="1.1"/><circle cx="158.79" cy="222.71" r="1.1"/><circle cx="155.01" cy="217.58" r="1.1"/><circle cx="157.99" cy="223.71" r="1.1"/><circle cx="150.95" cy="222.51" r="1.1"/><circle cx="154.23" cy="217.09" r="1.1"/><circle cx="178.12" cy="215.29" r="1.1"/><circle cx="173.76" cy="220.33" r="1.1"/><circle cx="170.85" cy="214.09" r="1.1"/><circle cx="252.47" cy="19.89" r="1.1"/><circle cx="256.9" cy="15.2" r="1.1"/><circle cx="266.71" cy="15.96" r="1.1"/><circle cx="270.85" cy="19.9" r="1.1"/><circle cx="273.95" cy="25.59" r="1.1"/><circle cx="273.06" cy="31.41" r="1.1"/><circle cx="271.55" cy="31.93" r="1.1"/><circle cx="266.76" cy="36.85" r="1.1"/><circle cx="250.12" cy="28.19" r="1.1"/><circle cx="251.89" cy="22.15" r="1.1"/><circle cx="254.3" cy="40.63" r="1.1"/><circle cx="247.47" cy="38.52" r="1.1"/><circle cx="245.61" cy="29.42" r="1.1"/><circle cx="251.42" cy="32.74" r="1.1"/><circle cx="239.99" cy="44.21" r="1.1"/><circle cx="236.21" cy="39.08" r="1.1"/><circle cx="239.19" cy="45.21" r="1.1"/><circle cx="232.15" cy="44.01" r="1.1"/><circle cx="235.43" cy="38.59" r="1.1"/><circle cx="259.32" cy="36.79" r="1.1"/><circle cx="254.96" cy="41.83" r="1.1"/><circle cx="252.05" cy="35.59" r="1.1"/><circle cx="274.07" cy="109.14" r="1.1"/><circle cx="278.5" cy="104.45" r="1.1"/><circle cx="288.31" cy="105.21" r="1.1"/><circle cx="292.45" cy="109.15" r="1.1"/><circle cx="295.55" cy="114.84" r="1.1"/><circle cx="294.66" cy="120.66" r="1.1"/><circle cx="293.15" cy="121.18" r="1.1"/><circle cx="288.36" cy="126.1" r="1.1"/><circle cx="271.72" cy="117.44" r="1.1"/><circle cx="273.49" cy="111.4" r="1.1"/><circle cx="275.9" cy="129.88" r="1.1"/><circle cx="269.07" cy="127.77" r="1.1"/><circle cx="267.21" cy="118.67" r="1.1"/><circle cx="273.02" cy="121.99" r="1.1"/><circle cx="261.59" cy="133.46" r="1.1"/><circle cx="257.81" cy="128.33" r="1.1"/><circle cx="260.79" cy="134.46" r="1.1"/><circle cx="253.75" cy="133.26" r="1.1"/><circle cx="257.03" cy="127.84" r="1.1"/><circle cx="280.92" cy="126.04" r="1.1"/><circle cx="276.56" cy="131.08" r="1.1"/><circle cx="273.65" cy="124.84" r="1.1"/><circle cx="295.67" cy="198.39" r="1.1"/><circle cx="300.1" cy="193.7" r="1.1"/><circle cx="309.91" cy="194.46" r="1.1"/><circle cx="314.05" cy="198.4" r="1.1"/><circle cx="317.15" cy="204.09" r="1.1"/><circle cx="316.26" cy="209.91" r="1.1"/><circle cx="314.75" cy="210.43" r="1.1"/><circle cx="309.96" cy="215.35" r="1.1"/><circle cx="293.32" cy="206.69" r="1.1"/><circle cx="295.09" cy="200.65" r="1.1"/><circle cx="297.5" cy="219.13" r="1.1"/><circle cx="290.67" cy="217.02" r="1.1"/><circle cx="288.81" cy="207.92" r="1.1"/><circle cx="294.62" cy="211.24" r="1.1"/><circle cx="283.19" cy="222.71" r="1.1"/><circle cx="279.41" cy="217.58" r="1.1"/><circle cx="282.39" cy="223.71" r="1.1"/><circle cx="275.35" cy="222.51" r="1.1"/><circle cx="278.63" cy="217.09" r="1.1"/><circle cx="302.52" cy="215.29" r="1.1"/><circle cx="298.16" cy="220.33" r="1.1"/><circle cx="295.25" cy="214.09" r="1.1"/></g><path d="M132.5 19.5L143 20M132.5 19.5L128.9 25.5M143 20L146.9 27.8M146.9 27.8L143 33.3M143 33.3L132.8 32.8M132.8 32.8L128.9 25.5M132.8 32.8L127.3 37M132.8 32.8L131.3 37.5M127.3 37L123 33.6M123 33.6L115.6 39.8M115.6 39.8L111.7 42.2M154.1 108.75L164.6 109.25M154.1 108.75L150.5 114.75M164.6 109.25L168.5 117.05M168.5 117.05L164.6 122.55M164.6 122.55L154.4 122.05M154.4 122.05L150.5 114.75M154.4 122.05L148.9 126.25M154.4 122.05L152.9 126.75M148.9 126.25L144.6 122.85M144.6 122.85L137.2 129.05M137.2 129.05L133.3 131.45M175.7 198L186.2 198.5M175.7 198L172.1 204M186.2 198.5L190.1 206.3M190.1 206.3L186.2 211.8M186.2 211.8L176 211.3M176 211.3L172.1 204M176 211.3L170.5 215.5M176 211.3L174.5 216M170.5 215.5L166.2 212.1M166.2 212.1L158.8 218.3M158.8 218.3L154.9 220.7M256.9 19.5L267.4 20M256.9 19.5L253.3 25.5M267.4 20L271.3 27.8M271.3 27.8L267.4 33.3M267.4 33.3L257.2 32.8M257.2 32.8L253.3 25.5M257.2 32.8L251.7 37M257.2 32.8L255.7 37.5M251.7 37L247.4 33.6M247.4 33.6L240 39.8M240 39.8L236.1 42.2M278.5 108.75L289 109.25M278.5 108.75L274.9 114.75M289 109.25L292.9 117.05M292.9 117.05L289 122.55M289 122.55L278.8 122.05M278.8 122.05L274.9 114.75M278.8 122.05L273.3 126.25M278.8 122.05L277.3 126.75M273.3 126.25L269 122.85M269 122.85L261.6 129.05M261.6 129.05L257.7 131.45M300.1 198L310.6 198.5M300.1 198L296.5 204M310.6 198.5L314.5 206.3M314.5 206.3L310.6 211.8M310.6 211.8L300.4 211.3M300.4 211.3L296.5 204M300.4 211.3L294.9 215.5M300.4 211.3L298.9 216M294.9 215.5L290.6 212.1M290.6 212.1L283.2 218.3M283.2 218.3L279.3 220.7" stroke="#b9707b" stroke-width="0.85" fill="none"/><g fill="#a9b85c" stroke="#6f8030" stroke-width="0.4"><circle cx="132.8" cy="32.8" r="1.7"/><circle cx="154.4" cy="122.05" r="1.7"/><circle cx="176" cy="211.3" r="1.7"/><circle cx="257.2" cy="32.8" r="1.7"/><circle cx="278.8" cy="122.05" r="1.7"/><circle cx="300.4" cy="211.3" r="1.7"/></g><g class="Ca"><circle cx="132.5" cy="19.5" r="1.95"/><circle cx="143" cy="20" r="1.95"/><circle cx="146.9" cy="27.8" r="1.95"/><circle cx="143" cy="33.3" r="1.95"/><circle cx="128.9" cy="25.5" r="1.95"/><circle cx="127.3" cy="37" r="1.95"/><circle cx="123" cy="33.6" r="1.95"/><circle cx="115.6" cy="39.8" r="1.95"/><circle cx="111.7" cy="42.2" r="1.95"/><circle cx="131.3" cy="37.5" r="1.95"/><circle cx="154.1" cy="108.75" r="1.95"/><circle cx="164.6" cy="109.25" r="1.95"/><circle cx="168.5" cy="117.05" r="1.95"/><circle cx="164.6" cy="122.55" r="1.95"/><circle cx="150.5" cy="114.75" r="1.95"/><circle cx="148.9" cy="126.25" r="1.95"/><circle cx="144.6" cy="122.85" r="1.95"/><circle cx="137.2" cy="129.05" r="1.95"/><circle cx="133.3" cy="131.45" r="1.95"/><circle cx="152.9" cy="126.75" r="1.95"/><circle cx="175.7" cy="198" r="1.95"/><circle cx="186.2" cy="198.5" r="1.95"/><circle cx="190.1" cy="206.3" r="1.95"/><circle cx="186.2" cy="211.8" r="1.95"/><circle cx="172.1" cy="204" r="1.95"/><circle cx="170.5" cy="215.5" r="1.95"/><circle cx="166.2" cy="212.1" r="1.95"/><circle cx="158.8" cy="218.3" r="1.95"/><circle cx="154.9" cy="220.7" r="1.95"/><circle cx="174.5" cy="216" r="1.95"/><circle cx="256.9" cy="19.5" r="1.95"/><circle cx="267.4" cy="20" r="1.95"/><circle cx="271.3" cy="27.8" r="1.95"/><circle cx="267.4" cy="33.3" r="1.95"/><circle cx="253.3" cy="25.5" r="1.95"/><circle cx="251.7" cy="37" r="1.95"/><circle cx="247.4" cy="33.6" r="1.95"/><circle cx="240" cy="39.8" r="1.95"/><circle cx="236.1" cy="42.2" r="1.95"/><circle cx="255.7" cy="37.5" r="1.95"/><circle cx="278.5" cy="108.75" r="1.95"/><circle cx="289" cy="109.25" r="1.95"/><circle cx="292.9" cy="117.05" r="1.95"/><circle cx="289" cy="122.55" r="1.95"/><circle cx="274.9" cy="114.75" r="1.95"/><circle cx="273.3" cy="126.25" r="1.95"/><circle cx="269" cy="122.85" r="1.95"/><circle cx="261.6" cy="129.05" r="1.95"/><circle cx="257.7" cy="131.45" r="1.95"/><circle cx="277.3" cy="126.75" r="1.95"/><circle cx="300.1" cy="198" r="1.95"/><circle cx="310.6" cy="198.5" r="1.95"/><circle cx="314.5" cy="206.3" r="1.95"/><circle cx="310.6" cy="211.8" r="1.95"/><circle cx="296.5" cy="204" r="1.95"/><circle cx="294.9" cy="215.5" r="1.95"/><circle cx="290.6" cy="212.1" r="1.95"/><circle cx="283.2" cy="218.3" r="1.95"/><circle cx="279.3" cy="220.7" r="1.95"/><circle cx="298.9" cy="216" r="1.95"/></g><polygon points="58.1,55 80.6,54.8 76.5,72.6 57.9,69.2" class="T"/><circle cx="67.4" cy="62.6" r="3.2" class="Mn"/><circle cx="58.1" cy="55" r="2.9" class="Bra"/><circle cx="80.6" cy="54.8" r="2.9" class="Bra"/><circle cx="57.9" cy="69.2" r="2.9" class="Bra"/><circle cx="76.5" cy="72.6" r="2.9" class="Bra"/><polygon points="117.8,58 144.5,55.5 137.2,74.1 127.9,70.7" class="T"/><circle cx="131.1" cy="64.3" r="3.2" class="Mn"/><circle cx="117.8" cy="58" r="2.9" class="Bra"/><circle cx="144.5" cy="55.5" r="2.9" class="Bra"/><circle cx="127.9" cy="70.7" r="2.9" class="Bra"/><circle cx="137.2" cy="74.1" r="2.9" class="Bra"/><polygon points="101.6,98.6 110.6,101.5 120.4,114.7 94,117.2" class="T"/><circle cx="106.7" cy="107.9" r="3.2" class="Mn"/><circle cx="101.6" cy="98.6" r="2.9" class="Bra"/><circle cx="110.6" cy="101.5" r="2.9" class="Bra"/><circle cx="94" cy="117.2" r="2.9" class="Bra"/><circle cx="120.4" cy="114.7" r="2.9" class="Bra"/><polygon points="162.3,100.1 180.7,104 180.4,117.9 157.7,117.9" class="T"/><circle cx="170.6" cy="110.3" r="3.2" class="Mn"/><circle cx="162.3" cy="100.1" r="2.9" class="Bra"/><circle cx="180.7" cy="104" r="2.9" class="Bra"/><circle cx="157.7" cy="117.9" r="2.9" class="Bra"/><circle cx="180.4" cy="117.9" r="2.9" class="Bra"/><polygon points="79.7,144.25 102.2,144.05 98.1,161.85 79.5,158.45" class="T"/><circle cx="89" cy="151.85" r="3.2" class="Mn"/><circle cx="79.7" cy="144.25" r="2.9" class="Bra"/><circle cx="102.2" cy="144.05" r="2.9" class="Bra"/><circle cx="79.5" cy="158.45" r="2.9" class="Bra"/><circle cx="98.1" cy="161.85" r="2.9" class="Bra"/><polygon points="139.4,147.25 166.1,144.75 158.8,163.35 149.5,159.95" class="T"/><circle cx="152.7" cy="153.55" r="3.2" class="Mn"/><circle cx="139.4" cy="147.25" r="2.9" class="Bra"/><circle cx="166.1" cy="144.75" r="2.9" class="Bra"/><circle cx="149.5" cy="159.95" r="2.9" class="Bra"/><circle cx="158.8" cy="163.35" r="2.9" class="Bra"/><polygon points="123.2,187.85 132.2,190.75 142,203.95 115.6,206.45" class="T"/><circle cx="128.3" cy="197.15" r="3.2" class="Mn"/><circle cx="123.2" cy="187.85" r="2.9" class="Bra"/><circle cx="132.2" cy="190.75" r="2.9" class="Bra"/><circle cx="115.6" cy="206.45" r="2.9" class="Bra"/><circle cx="142" cy="203.95" r="2.9" class="Bra"/><polygon points="183.9,189.35 202.3,193.25 202,207.15 179.3,207.15" class="T"/><circle cx="192.2" cy="199.55" r="3.2" class="Mn"/><circle cx="183.9" cy="189.35" r="2.9" class="Bra"/><circle cx="202.3" cy="193.25" r="2.9" class="Bra"/><circle cx="179.3" cy="207.15" r="2.9" class="Bra"/><circle cx="202" cy="207.15" r="2.9" class="Bra"/><polygon points="182.5,55 205,54.8 200.9,72.6 182.3,69.2" class="T"/><circle cx="191.8" cy="62.6" r="3.2" class="Mn"/><circle cx="182.5" cy="55" r="2.9" class="Bra"/><circle cx="205" cy="54.8" r="2.9" class="Bra"/><circle cx="182.3" cy="69.2" r="2.9" class="Bra"/><circle cx="200.9" cy="72.6" r="2.9" class="Bra"/><polygon points="242.2,58 268.9,55.5 261.6,74.1 252.3,70.7" class="T"/><circle cx="255.5" cy="64.3" r="3.2" class="Mn"/><circle cx="242.2" cy="58" r="2.9" class="Bra"/><circle cx="268.9" cy="55.5" r="2.9" class="Bra"/><circle cx="252.3" cy="70.7" r="2.9" class="Bra"/><circle cx="261.6" cy="74.1" r="2.9" class="Bra"/><polygon points="226,98.6 235,101.5 244.8,114.7 218.4,117.2" class="T"/><circle cx="231.1" cy="107.9" r="3.2" class="Mn"/><circle cx="226" cy="98.6" r="2.9" class="Bra"/><circle cx="235" cy="101.5" r="2.9" class="Bra"/><circle cx="218.4" cy="117.2" r="2.9" class="Bra"/><circle cx="244.8" cy="114.7" r="2.9" class="Bra"/><polygon points="286.7,100.1 305.1,104 304.8,117.9 282.1,117.9" class="T"/><circle cx="295" cy="110.3" r="3.2" class="Mn"/><circle cx="286.7" cy="100.1" r="2.9" class="Bra"/><circle cx="305.1" cy="104" r="2.9" class="Bra"/><circle cx="282.1" cy="117.9" r="2.9" class="Bra"/><circle cx="304.8" cy="117.9" r="2.9" class="Bra"/><polygon points="204.1,144.25 226.6,144.05 222.5,161.85 203.9,158.45" class="T"/><circle cx="213.4" cy="151.85" r="3.2" class="Mn"/><circle cx="204.1" cy="144.25" r="2.9" class="Bra"/><circle cx="226.6" cy="144.05" r="2.9" class="Bra"/><circle cx="203.9" cy="158.45" r="2.9" class="Bra"/><circle cx="222.5" cy="161.85" r="2.9" class="Bra"/><polygon points="263.8,147.25 290.5,144.75 283.2,163.35 273.9,159.95" class="T"/><circle cx="277.1" cy="153.55" r="3.2" class="Mn"/><circle cx="263.8" cy="147.25" r="2.9" class="Bra"/><circle cx="290.5" cy="144.75" r="2.9" class="Bra"/><circle cx="273.9" cy="159.95" r="2.9" class="Bra"/><circle cx="283.2" cy="163.35" r="2.9" class="Bra"/><polygon points="247.6,187.85 256.6,190.75 266.4,203.95 240,206.45" class="T"/><circle cx="252.7" cy="197.15" r="3.2" class="Mn"/><circle cx="247.6" cy="187.85" r="2.9" class="Bra"/><circle cx="256.6" cy="190.75" r="2.9" class="Bra"/><circle cx="240" cy="206.45" r="2.9" class="Bra"/><circle cx="266.4" cy="203.95" r="2.9" class="Bra"/><polygon points="308.3,189.35 326.7,193.25 326.4,207.15 303.7,207.15" class="T"/><circle cx="316.6" cy="199.55" r="3.2" class="Mn"/><circle cx="308.3" cy="189.35" r="2.9" class="Bra"/><circle cx="326.7" cy="193.25" r="2.9" class="Bra"/><circle cx="303.7" cy="207.15" r="2.9" class="Bra"/><circle cx="326.4" cy="207.15" r="2.9" class="Bra"/><path d="M83.6 50.6L87.5 58M83.6 50.6L73.1 50M83.6 50.6L88.9 46.7M83.6 50.6L85 46.2M87.5 58L83.8 63.8M83.8 63.8L73.3 63.3M73.3 63.3L70.4 56M70.4 56L73.1 50M88.9 46.7L93.3 49.2M93.3 49.2L101.4 43.8M101.4 43.8L104.1 41.4M105.2 139.85L109.1 147.25M105.2 139.85L94.7 139.25M105.2 139.85L110.5 135.95M105.2 139.85L106.6 135.45M109.1 147.25L105.4 153.05M105.4 153.05L94.9 152.55M94.9 152.55L92 145.25M92 145.25L94.7 139.25M110.5 135.95L114.9 138.45M114.9 138.45L123 133.05M123 133.05L125.7 130.65M126.8 229.1L130.7 236.5M126.8 229.1L116.3 228.5M126.8 229.1L132.1 225.2M126.8 229.1L128.2 224.7M130.7 236.5L127 242.3M127 242.3L116.5 241.8M116.5 241.8L113.6 234.5M113.6 234.5L116.3 228.5M132.1 225.2L136.5 227.7M136.5 227.7L144.6 222.3M144.6 222.3L147.3 219.9M208 50.6L211.9 58M208 50.6L197.5 50M208 50.6L213.3 46.7M208 50.6L209.4 46.2M211.9 58L208.2 63.8M208.2 63.8L197.7 63.3M197.7 63.3L194.8 56M194.8 56L197.5 50M213.3 46.7L217.7 49.2M217.7 49.2L225.8 43.8M225.8 43.8L228.5 41.4M229.6 139.85L233.5 147.25M229.6 139.85L219.1 139.25M229.6 139.85L234.9 135.95M229.6 139.85L231 135.45M233.5 147.25L229.8 153.05M229.8 153.05L219.3 152.55M219.3 152.55L216.4 145.25M216.4 145.25L219.1 139.25M234.9 135.95L239.3 138.45M239.3 138.45L247.4 133.05M247.4 133.05L250.1 130.65M251.2 229.1L255.1 236.5M251.2 229.1L240.7 228.5M251.2 229.1L256.5 225.2M251.2 229.1L252.6 224.7M255.1 236.5L251.4 242.3M251.4 242.3L240.9 241.8M240.9 241.8L238 234.5M238 234.5L240.7 228.5M256.5 225.2L260.9 227.7M260.9 227.7L269 222.3M269 222.3L271.7 219.9M107.5 76.5L108.5 67.4M107.5 76.5L103.6 73.1M107.5 76.5L100.6 77.5M107.5 76.5L116.8 79M108.5 67.4L109.9 62.9M109.9 62.9L104.1 64.8M104.1 64.8L103.6 73.1M103.6 73.1L99.2 70.5M100.6 77.5L103.1 86M129.1 165.75L130.1 156.65M129.1 165.75L125.2 162.35M129.1 165.75L122.2 166.75M129.1 165.75L138.4 168.25M130.1 156.65L131.5 152.15M131.5 152.15L125.7 154.05M125.7 154.05L125.2 162.35M125.2 162.35L120.8 159.75M122.2 166.75L124.7 175.25M231.9 76.5L232.9 67.4M231.9 76.5L228 73.1M231.9 76.5L225 77.5M231.9 76.5L241.2 79M232.9 67.4L234.3 62.9M234.3 62.9L228.5 64.8M228.5 64.8L228 73.1M228 73.1L223.6 70.5M225 77.5L227.5 86M253.5 165.75L254.5 156.65M253.5 165.75L249.6 162.35M253.5 165.75L246.6 166.75M253.5 165.75L262.8 168.25M254.5 156.65L255.9 152.15M255.9 152.15L250.1 154.05M250.1 154.05L249.6 162.35M249.6 162.35L245.2 159.75M246.6 166.75L249.1 175.25M10.3 51.1L19.6 49.2M10.3 51.1L9.9 55M19.6 49.2L26.9 55M26.9 55L18.4 53.9M26.9 55L34.8 51.1M26.9 55L28.1 59.5M18.4 53.9L9.9 55M34.8 51.1L37.7 52.1M37.7 52.1L47.5 49.7M47.5 49.7L48.2 45.8M31.9 140.35L41.2 138.45M31.9 140.35L31.5 144.25M41.2 138.45L48.5 144.25M48.5 144.25L40 143.15M48.5 144.25L56.4 140.35M48.5 144.25L49.7 148.75M40 143.15L31.5 144.25M56.4 140.35L59.3 141.35M59.3 141.35L69.1 138.95M69.1 138.95L69.8 135.05M134.7 51.1L144 49.2M134.7 51.1L134.3 55M144 49.2L151.3 55M151.3 55L142.8 53.9M151.3 55L159.2 51.1M151.3 55L152.5 59.5M142.8 53.9L134.3 55M159.2 51.1L162.1 52.1M162.1 52.1L171.9 49.7M171.9 49.7L172.6 45.8M156.3 140.35L165.6 138.45M156.3 140.35L155.9 144.25M165.6 138.45L172.9 144.25M172.9 144.25L164.4 143.15M172.9 144.25L180.8 140.35M172.9 144.25L174.1 148.75M164.4 143.15L155.9 144.25M180.8 140.35L183.7 141.35M183.7 141.35L193.5 138.95M193.5 138.95L194.2 135.05M259.1 51.1L268.4 49.2M259.1 51.1L258.7 55M268.4 49.2L275.7 55M275.7 55L267.2 53.9M275.7 55L283.6 51.1M275.7 55L276.9 59.5M267.2 53.9L258.7 55M283.6 51.1L286.5 52.1M286.5 52.1L296.3 49.7M296.3 49.7L297 45.8M280.7 140.35L290 138.45M280.7 140.35L280.3 144.25M290 138.45L297.3 144.25M297.3 144.25L288.8 143.15M297.3 144.25L305.2 140.35M297.3 144.25L298.5 148.75M288.8 143.15L280.3 144.25M305.2 140.35L308.1 141.35M308.1 141.35L317.9 138.95M317.9 138.95L318.6 135.05M165.5 76L165.8 68.7M165.5 76L161.6 75.1M165.5 76L171.9 78.2M165.5 76L165 82.9M161.6 75.1L157.7 77.5M161.6 75.1L160.6 81.9M171.9 78.2L174.3 79.9M174.3 79.9L177.9 76M165 82.9L163.8 88.7M163.8 88.7L159.6 88.2M159.6 88.2L160.6 81.9M187.1 165.25L187.4 157.95M187.1 165.25L183.2 164.35M187.1 165.25L193.5 167.45M187.1 165.25L186.6 172.15M183.2 164.35L179.3 166.75M183.2 164.35L182.2 171.15M193.5 167.45L195.9 169.15M195.9 169.15L199.5 165.25M186.6 172.15L185.4 177.95M185.4 177.95L181.2 177.45M181.2 177.45L182.2 171.15M289.9 76L290.2 68.7M289.9 76L286 75.1M289.9 76L296.3 78.2M289.9 76L289.4 82.9M286 75.1L282.1 77.5M286 75.1L285 81.9M296.3 78.2L298.7 79.9M298.7 79.9L302.3 76M289.4 82.9L288.2 88.7M288.2 88.7L284 88.2M284 88.2L285 81.9M311.5 165.25L311.8 157.95M311.5 165.25L307.6 164.35M311.5 165.25L317.9 167.45M311.5 165.25L311 172.15M307.6 164.35L303.7 166.75M307.6 164.35L306.6 171.15M317.9 167.45L320.3 169.15M320.3 169.15L323.9 165.25M311 172.15L309.8 177.95M309.8 177.95L305.6 177.45M305.6 177.45L306.6 171.15M73 96.6L73.5 90.3M73 96.6L77.4 97.1M73 96.6L64.7 93.7M73 96.6L73 104M73.5 90.3L75 84.4M75 84.4L78.9 84.4M78.9 84.4L77.9 90.8M77.9 90.8L77.4 97.1M77.4 97.1L81.3 95.2M64.7 93.7L61.5 97.5M94.6 185.85L95.1 179.55M94.6 185.85L99 186.35M94.6 185.85L86.3 182.95M94.6 185.85L94.6 193.25M95.1 179.55L96.6 173.65M96.6 173.65L100.5 173.65M100.5 173.65L99.5 180.05M99.5 180.05L99 186.35M99 186.35L102.9 184.45M86.3 182.95L83.1 186.75M197.4 96.6L197.9 90.3M197.4 96.6L201.8 97.1M197.4 96.6L189.1 93.7M197.4 96.6L197.4 104M197.9 90.3L199.4 84.4M199.4 84.4L203.3 84.4M203.3 84.4L202.3 90.8M202.3 90.8L201.8 97.1M201.8 97.1L205.7 95.2M189.1 93.7L185.9 97.5M219 185.85L219.5 179.55M219 185.85L223.4 186.35M219 185.85L210.7 182.95M219 185.85L219 193.25M219.5 179.55L221 173.65M221 173.65L224.9 173.65M224.9 173.65L223.9 180.05M223.9 180.05L223.4 186.35M223.4 186.35L227.3 184.45M210.7 182.95L207.5 186.75M132.1 96.6L130.7 94.7M132.1 96.6L137 94.2M132.1 96.6L135.1 99.6M132.1 96.6L130 105.2M130.7 94.7L122.1 93.2M122.1 93.2L119 97.3M137 94.2L135.5 86.4M135.1 99.6L134.6 107.6M134.6 107.6L128.4 110M128.4 110L130 105.2M153.7 185.85L152.3 183.95M153.7 185.85L158.6 183.45M153.7 185.85L156.7 188.85M153.7 185.85L151.6 194.45M152.3 183.95L143.7 182.45M143.7 182.45L140.6 186.55M158.6 183.45L157.1 175.65M156.7 188.85L156.2 196.85M156.2 196.85L150 199.25M150 199.25L151.6 194.45M256.5 96.6L255.1 94.7M256.5 96.6L261.4 94.2M256.5 96.6L259.5 99.6M256.5 96.6L254.4 105.2M255.1 94.7L246.5 93.2M246.5 93.2L243.4 97.3M261.4 94.2L259.9 86.4M259.5 99.6L259 107.6M259 107.6L252.8 110M252.8 110L254.4 105.2M278.1 185.85L276.7 183.95M278.1 185.85L283 183.45M278.1 185.85L281.1 188.85M278.1 185.85L276 194.45M276.7 183.95L268.1 182.45M268.1 182.45L265 186.55M283 183.45L281.5 175.65M281.1 188.85L280.6 196.85M280.6 196.85L274.4 199.25M274.4 199.25L276 194.45M65.7 127.4L66.7 122.5M66.7 122.5L77.1 120.6M66.7 122.5L60.5 124.5M77.1 120.6L87.2 117.6M77.1 120.6L79.9 121.6M87.2 117.6L96 119.6M87.2 117.6L95 123.5M87.2 117.6L86 112.5M96 119.6L104.3 117.2M104.3 117.2L104.3 121.6M104.3 121.6L95 123.5M87.3 216.65L88.3 211.75M88.3 211.75L98.7 209.85M88.3 211.75L82.1 213.75M98.7 209.85L108.8 206.85M98.7 209.85L101.5 210.85M108.8 206.85L117.6 208.85M108.8 206.85L116.6 212.75M108.8 206.85L107.6 201.75M117.6 208.85L125.9 206.45M125.9 206.45L125.9 210.85M125.9 210.85L116.6 212.75M190.1 127.4L191.1 122.5M191.1 122.5L201.5 120.6M191.1 122.5L184.9 124.5M201.5 120.6L211.6 117.6M201.5 120.6L204.3 121.6M211.6 117.6L220.4 119.6M211.6 117.6L219.4 123.5M211.6 117.6L210.4 112.5M220.4 119.6L228.7 117.2M228.7 117.2L228.7 121.6M228.7 121.6L219.4 123.5M211.7 216.65L212.7 211.75M212.7 211.75L223.1 209.85M212.7 211.75L206.5 213.75M223.1 209.85L233.2 206.85M223.1 209.85L225.9 210.85M233.2 206.85L242 208.85M233.2 206.85L241 212.75M233.2 206.85L232 201.75M242 208.85L250.3 206.45M250.3 206.45L250.3 210.85M250.3 210.85L241 212.75M314.5 127.4L315.5 122.5M315.5 122.5L325.9 120.6M315.5 122.5L309.3 124.5M325.9 120.6L336 117.6M325.9 120.6L328.7 121.6M336 117.6L344.8 119.6M336 117.6L343.8 123.5M336 117.6L334.8 112.5M344.8 119.6L353.1 117.2M353.1 117.2L353.1 121.6M353.1 121.6L343.8 123.5M336.1 216.65L337.1 211.75M337.1 211.75L347.5 209.85M337.1 211.75L330.9 213.75M347.5 209.85L357.6 206.85M347.5 209.85L350.3 210.85M357.6 206.85L366.4 208.85M357.6 206.85L365.4 212.75M357.6 206.85L356.4 201.75M366.4 208.85L374.7 206.45M374.7 206.45L374.7 210.85M374.7 210.85L365.4 212.75" stroke="#b9707b" stroke-width="0.85" fill="none"/><g fill="#a9b85c" stroke="#6f8030" stroke-width="0.4"><circle cx="83.6" cy="50.6" r="1.7"/><circle cx="105.2" cy="139.85" r="1.7"/><circle cx="126.8" cy="229.1" r="1.7"/><circle cx="208" cy="50.6" r="1.7"/><circle cx="229.6" cy="139.85" r="1.7"/><circle cx="251.2" cy="229.1" r="1.7"/><circle cx="107.5" cy="76.5" r="1.7"/><circle cx="129.1" cy="165.75" r="1.7"/><circle cx="231.9" cy="76.5" r="1.7"/><circle cx="253.5" cy="165.75" r="1.7"/><circle cx="26.9" cy="55" r="1.7"/><circle cx="48.5" cy="144.25" r="1.7"/><circle cx="151.3" cy="55" r="1.7"/><circle cx="172.9" cy="144.25" r="1.7"/><circle cx="275.7" cy="55" r="1.7"/><circle cx="297.3" cy="144.25" r="1.7"/><circle cx="165.5" cy="76" r="1.7"/><circle cx="187.1" cy="165.25" r="1.7"/><circle cx="289.9" cy="76" r="1.7"/><circle cx="311.5" cy="165.25" r="1.7"/><circle cx="73" cy="96.6" r="1.7"/><circle cx="94.6" cy="185.85" r="1.7"/><circle cx="197.4" cy="96.6" r="1.7"/><circle cx="219" cy="185.85" r="1.7"/><circle cx="132.1" cy="96.6" r="1.7"/><circle cx="153.7" cy="185.85" r="1.7"/><circle cx="256.5" cy="96.6" r="1.7"/><circle cx="278.1" cy="185.85" r="1.7"/><circle cx="87.2" cy="117.6" r="1.7"/><circle cx="108.8" cy="206.85" r="1.7"/><circle cx="211.6" cy="117.6" r="1.7"/><circle cx="233.2" cy="206.85" r="1.7"/><circle cx="336" cy="117.6" r="1.7"/><circle cx="357.6" cy="206.85" r="1.7"/></g><g class="Ca"><circle cx="87.5" cy="58" r="1.95"/><circle cx="83.8" cy="63.8" r="1.95"/><circle cx="73.3" cy="63.3" r="1.95"/><circle cx="70.4" cy="56" r="1.95"/><circle cx="73.1" cy="50" r="1.95"/><circle cx="88.9" cy="46.7" r="1.95"/><circle cx="93.3" cy="49.2" r="1.95"/><circle cx="101.4" cy="43.8" r="1.95"/><circle cx="104.1" cy="41.4" r="1.95"/><circle cx="85" cy="46.2" r="1.95"/><circle cx="109.1" cy="147.25" r="1.95"/><circle cx="105.4" cy="153.05" r="1.95"/><circle cx="94.9" cy="152.55" r="1.95"/><circle cx="92" cy="145.25" r="1.95"/><circle cx="94.7" cy="139.25" r="1.95"/><circle cx="110.5" cy="135.95" r="1.95"/><circle cx="114.9" cy="138.45" r="1.95"/><circle cx="123" cy="133.05" r="1.95"/><circle cx="125.7" cy="130.65" r="1.95"/><circle cx="106.6" cy="135.45" r="1.95"/><circle cx="130.7" cy="236.5" r="1.95"/><circle cx="127" cy="242.3" r="1.95"/><circle cx="116.5" cy="241.8" r="1.95"/><circle cx="113.6" cy="234.5" r="1.95"/><circle cx="116.3" cy="228.5" r="1.95"/><circle cx="132.1" cy="225.2" r="1.95"/><circle cx="136.5" cy="227.7" r="1.95"/><circle cx="144.6" cy="222.3" r="1.95"/><circle cx="147.3" cy="219.9" r="1.95"/><circle cx="128.2" cy="224.7" r="1.95"/><circle cx="211.9" cy="58" r="1.95"/><circle cx="208.2" cy="63.8" r="1.95"/><circle cx="197.7" cy="63.3" r="1.95"/><circle cx="194.8" cy="56" r="1.95"/><circle cx="197.5" cy="50" r="1.95"/><circle cx="213.3" cy="46.7" r="1.95"/><circle cx="217.7" cy="49.2" r="1.95"/><circle cx="225.8" cy="43.8" r="1.95"/><circle cx="228.5" cy="41.4" r="1.95"/><circle cx="209.4" cy="46.2" r="1.95"/><circle cx="233.5" cy="147.25" r="1.95"/><circle cx="229.8" cy="153.05" r="1.95"/><circle cx="219.3" cy="152.55" r="1.95"/><circle cx="216.4" cy="145.25" r="1.95"/><circle cx="219.1" cy="139.25" r="1.95"/><circle cx="234.9" cy="135.95" r="1.95"/><circle cx="239.3" cy="138.45" r="1.95"/><circle cx="247.4" cy="133.05" r="1.95"/><circle cx="250.1" cy="130.65" r="1.95"/><circle cx="231" cy="135.45" r="1.95"/><circle cx="255.1" cy="236.5" r="1.95"/><circle cx="251.4" cy="242.3" r="1.95"/><circle cx="240.9" cy="241.8" r="1.95"/><circle cx="238" cy="234.5" r="1.95"/><circle cx="240.7" cy="228.5" r="1.95"/><circle cx="256.5" cy="225.2" r="1.95"/><circle cx="260.9" cy="227.7" r="1.95"/><circle cx="269" cy="222.3" r="1.95"/><circle cx="271.7" cy="219.9" r="1.95"/><circle cx="252.6" cy="224.7" r="1.95"/><circle cx="108.5" cy="67.4" r="1.95"/><circle cx="109.9" cy="62.9" r="1.95"/><circle cx="104.1" cy="64.8" r="1.95"/><circle cx="103.6" cy="73.1" r="1.95"/><circle cx="100.6" cy="77.5" r="1.95"/><circle cx="103.1" cy="86" r="1.95"/><circle cx="116.8" cy="79" r="1.95"/><circle cx="99.2" cy="70.5" r="1.95"/><circle cx="130.1" cy="156.65" r="1.95"/><circle cx="131.5" cy="152.15" r="1.95"/><circle cx="125.7" cy="154.05" r="1.95"/><circle cx="125.2" cy="162.35" r="1.95"/><circle cx="122.2" cy="166.75" r="1.95"/><circle cx="124.7" cy="175.25" r="1.95"/><circle cx="138.4" cy="168.25" r="1.95"/><circle cx="120.8" cy="159.75" r="1.95"/><circle cx="232.9" cy="67.4" r="1.95"/><circle cx="234.3" cy="62.9" r="1.95"/><circle cx="228.5" cy="64.8" r="1.95"/><circle cx="228" cy="73.1" r="1.95"/><circle cx="225" cy="77.5" r="1.95"/><circle cx="227.5" cy="86" r="1.95"/><circle cx="241.2" cy="79" r="1.95"/><circle cx="223.6" cy="70.5" r="1.95"/><circle cx="254.5" cy="156.65" r="1.95"/><circle cx="255.9" cy="152.15" r="1.95"/><circle cx="250.1" cy="154.05" r="1.95"/><circle cx="249.6" cy="162.35" r="1.95"/><circle cx="246.6" cy="166.75" r="1.95"/><circle cx="249.1" cy="175.25" r="1.95"/><circle cx="262.8" cy="168.25" r="1.95"/><circle cx="245.2" cy="159.75" r="1.95"/><circle cx="10.3" cy="51.1" r="1.95"/><circle cx="19.6" cy="49.2" r="1.95"/><circle cx="18.4" cy="53.9" r="1.95"/><circle cx="9.9" cy="55" r="1.95"/><circle cx="34.8" cy="51.1" r="1.95"/><circle cx="37.7" cy="52.1" r="1.95"/><circle cx="47.5" cy="49.7" r="1.95"/><circle cx="48.2" cy="45.8" r="1.95"/><circle cx="28.1" cy="59.5" r="1.95"/><circle cx="31.9" cy="140.35" r="1.95"/><circle cx="41.2" cy="138.45" r="1.95"/><circle cx="40" cy="143.15" r="1.95"/><circle cx="31.5" cy="144.25" r="1.95"/><circle cx="56.4" cy="140.35" r="1.95"/><circle cx="59.3" cy="141.35" r="1.95"/><circle cx="69.1" cy="138.95" r="1.95"/><circle cx="69.8" cy="135.05" r="1.95"/><circle cx="49.7" cy="148.75" r="1.95"/><circle cx="134.7" cy="51.1" r="1.95"/><circle cx="144" cy="49.2" r="1.95"/><circle cx="142.8" cy="53.9" r="1.95"/><circle cx="134.3" cy="55" r="1.95"/><circle cx="159.2" cy="51.1" r="1.95"/><circle cx="162.1" cy="52.1" r="1.95"/><circle cx="171.9" cy="49.7" r="1.95"/><circle cx="172.6" cy="45.8" r="1.95"/><circle cx="152.5" cy="59.5" r="1.95"/><circle cx="156.3" cy="140.35" r="1.95"/><circle cx="165.6" cy="138.45" r="1.95"/><circle cx="164.4" cy="143.15" r="1.95"/><circle cx="155.9" cy="144.25" r="1.95"/><circle cx="180.8" cy="140.35" r="1.95"/><circle cx="183.7" cy="141.35" r="1.95"/><circle cx="193.5" cy="138.95" r="1.95"/><circle cx="194.2" cy="135.05" r="1.95"/><circle cx="174.1" cy="148.75" r="1.95"/><circle cx="259.1" cy="51.1" r="1.95"/><circle cx="268.4" cy="49.2" r="1.95"/><circle cx="267.2" cy="53.9" r="1.95"/><circle cx="258.7" cy="55" r="1.95"/><circle cx="283.6" cy="51.1" r="1.95"/><circle cx="286.5" cy="52.1" r="1.95"/><circle cx="296.3" cy="49.7" r="1.95"/><circle cx="297" cy="45.8" r="1.95"/><circle cx="276.9" cy="59.5" r="1.95"/><circle cx="280.7" cy="140.35" r="1.95"/><circle cx="290" cy="138.45" r="1.95"/><circle cx="288.8" cy="143.15" r="1.95"/><circle cx="280.3" cy="144.25" r="1.95"/><circle cx="305.2" cy="140.35" r="1.95"/><circle cx="308.1" cy="141.35" r="1.95"/><circle cx="317.9" cy="138.95" r="1.95"/><circle cx="318.6" cy="135.05" r="1.95"/><circle cx="298.5" cy="148.75" r="1.95"/><circle cx="165.8" cy="68.7" r="1.95"/><circle cx="161.6" cy="75.1" r="1.95"/><circle cx="157.7" cy="77.5" r="1.95"/><circle cx="171.9" cy="78.2" r="1.95"/><circle cx="174.3" cy="79.9" r="1.95"/><circle cx="177.9" cy="76" r="1.95"/><circle cx="165" cy="82.9" r="1.95"/><circle cx="163.8" cy="88.7" r="1.95"/><circle cx="159.6" cy="88.2" r="1.95"/><circle cx="160.6" cy="81.9" r="1.95"/><circle cx="187.4" cy="157.95" r="1.95"/><circle cx="183.2" cy="164.35" r="1.95"/><circle cx="179.3" cy="166.75" r="1.95"/><circle cx="193.5" cy="167.45" r="1.95"/><circle cx="195.9" cy="169.15" r="1.95"/><circle cx="199.5" cy="165.25" r="1.95"/><circle cx="186.6" cy="172.15" r="1.95"/><circle cx="185.4" cy="177.95" r="1.95"/><circle cx="181.2" cy="177.45" r="1.95"/><circle cx="182.2" cy="171.15" r="1.95"/><circle cx="290.2" cy="68.7" r="1.95"/><circle cx="286" cy="75.1" r="1.95"/><circle cx="282.1" cy="77.5" r="1.95"/><circle cx="296.3" cy="78.2" r="1.95"/><circle cx="298.7" cy="79.9" r="1.95"/><circle cx="302.3" cy="76" r="1.95"/><circle cx="289.4" cy="82.9" r="1.95"/><circle cx="288.2" cy="88.7" r="1.95"/><circle cx="284" cy="88.2" r="1.95"/><circle cx="285" cy="81.9" r="1.95"/><circle cx="311.8" cy="157.95" r="1.95"/><circle cx="307.6" cy="164.35" r="1.95"/><circle cx="303.7" cy="166.75" r="1.95"/><circle cx="317.9" cy="167.45" r="1.95"/><circle cx="320.3" cy="169.15" r="1.95"/><circle cx="323.9" cy="165.25" r="1.95"/><circle cx="311" cy="172.15" r="1.95"/><circle cx="309.8" cy="177.95" r="1.95"/><circle cx="305.6" cy="177.45" r="1.95"/><circle cx="306.6" cy="171.15" r="1.95"/><circle cx="73.5" cy="90.3" r="1.95"/><circle cx="75" cy="84.4" r="1.95"/><circle cx="78.9" cy="84.4" r="1.95"/><circle cx="77.9" cy="90.8" r="1.95"/><circle cx="77.4" cy="97.1" r="1.95"/><circle cx="64.7" cy="93.7" r="1.95"/><circle cx="73" cy="104" r="1.95"/><circle cx="81.3" cy="95.2" r="1.95"/><circle cx="61.5" cy="97.5" r="1.95"/><circle cx="95.1" cy="179.55" r="1.95"/><circle cx="96.6" cy="173.65" r="1.95"/><circle cx="100.5" cy="173.65" r="1.95"/><circle cx="99.5" cy="180.05" r="1.95"/><circle cx="99" cy="186.35" r="1.95"/><circle cx="86.3" cy="182.95" r="1.95"/><circle cx="94.6" cy="193.25" r="1.95"/><circle cx="102.9" cy="184.45" r="1.95"/><circle cx="83.1" cy="186.75" r="1.95"/><circle cx="197.9" cy="90.3" r="1.95"/><circle cx="199.4" cy="84.4" r="1.95"/><circle cx="203.3" cy="84.4" r="1.95"/><circle cx="202.3" cy="90.8" r="1.95"/><circle cx="201.8" cy="97.1" r="1.95"/><circle cx="189.1" cy="93.7" r="1.95"/><circle cx="197.4" cy="104" r="1.95"/><circle cx="205.7" cy="95.2" r="1.95"/><circle cx="185.9" cy="97.5" r="1.95"/><circle cx="219.5" cy="179.55" r="1.95"/><circle cx="221" cy="173.65" r="1.95"/><circle cx="224.9" cy="173.65" r="1.95"/><circle cx="223.9" cy="180.05" r="1.95"/><circle cx="223.4" cy="186.35" r="1.95"/><circle cx="210.7" cy="182.95" r="1.95"/><circle cx="219" cy="193.25" r="1.95"/><circle cx="227.3" cy="184.45" r="1.95"/><circle cx="207.5" cy="186.75" r="1.95"/><circle cx="130.7" cy="94.7" r="1.95"/><circle cx="122.1" cy="93.2" r="1.95"/><circle cx="137" cy="94.2" r="1.95"/><circle cx="135.5" cy="86.4" r="1.95"/><circle cx="135.1" cy="99.6" r="1.95"/><circle cx="134.6" cy="107.6" r="1.95"/><circle cx="128.4" cy="110" r="1.95"/><circle cx="130" cy="105.2" r="1.95"/><circle cx="119" cy="97.3" r="1.95"/><circle cx="152.3" cy="183.95" r="1.95"/><circle cx="143.7" cy="182.45" r="1.95"/><circle cx="158.6" cy="183.45" r="1.95"/><circle cx="157.1" cy="175.65" r="1.95"/><circle cx="156.7" cy="188.85" r="1.95"/><circle cx="156.2" cy="196.85" r="1.95"/><circle cx="150" cy="199.25" r="1.95"/><circle cx="151.6" cy="194.45" r="1.95"/><circle cx="140.6" cy="186.55" r="1.95"/><circle cx="255.1" cy="94.7" r="1.95"/><circle cx="246.5" cy="93.2" r="1.95"/><circle cx="261.4" cy="94.2" r="1.95"/><circle cx="259.9" cy="86.4" r="1.95"/><circle cx="259.5" cy="99.6" r="1.95"/><circle cx="259" cy="107.6" r="1.95"/><circle cx="252.8" cy="110" r="1.95"/><circle cx="254.4" cy="105.2" r="1.95"/><circle cx="243.4" cy="97.3" r="1.95"/><circle cx="276.7" cy="183.95" r="1.95"/><circle cx="268.1" cy="182.45" r="1.95"/><circle cx="283" cy="183.45" r="1.95"/><circle cx="281.5" cy="175.65" r="1.95"/><circle cx="281.1" cy="188.85" r="1.95"/><circle cx="280.6" cy="196.85" r="1.95"/><circle cx="274.4" cy="199.25" r="1.95"/><circle cx="276" cy="194.45" r="1.95"/><circle cx="265" cy="186.55" r="1.95"/><circle cx="65.7" cy="127.4" r="1.95"/><circle cx="66.7" cy="122.5" r="1.95"/><circle cx="77.1" cy="120.6" r="1.95"/><circle cx="96" cy="119.6" r="1.95"/><circle cx="104.3" cy="117.2" r="1.95"/><circle cx="104.3" cy="121.6" r="1.95"/><circle cx="95" cy="123.5" r="1.95"/><circle cx="79.9" cy="121.6" r="1.95"/><circle cx="60.5" cy="124.5" r="1.95"/><circle cx="86" cy="112.5" r="1.95"/><circle cx="87.3" cy="216.65" r="1.95"/><circle cx="88.3" cy="211.75" r="1.95"/><circle cx="98.7" cy="209.85" r="1.95"/><circle cx="117.6" cy="208.85" r="1.95"/><circle cx="125.9" cy="206.45" r="1.95"/><circle cx="125.9" cy="210.85" r="1.95"/><circle cx="116.6" cy="212.75" r="1.95"/><circle cx="101.5" cy="210.85" r="1.95"/><circle cx="82.1" cy="213.75" r="1.95"/><circle cx="107.6" cy="201.75" r="1.95"/><circle cx="190.1" cy="127.4" r="1.95"/><circle cx="191.1" cy="122.5" r="1.95"/><circle cx="201.5" cy="120.6" r="1.95"/><circle cx="220.4" cy="119.6" r="1.95"/><circle cx="228.7" cy="117.2" r="1.95"/><circle cx="228.7" cy="121.6" r="1.95"/><circle cx="219.4" cy="123.5" r="1.95"/><circle cx="204.3" cy="121.6" r="1.95"/><circle cx="184.9" cy="124.5" r="1.95"/><circle cx="210.4" cy="112.5" r="1.95"/><circle cx="211.7" cy="216.65" r="1.95"/><circle cx="212.7" cy="211.75" r="1.95"/><circle cx="223.1" cy="209.85" r="1.95"/><circle cx="242" cy="208.85" r="1.95"/><circle cx="250.3" cy="206.45" r="1.95"/><circle cx="250.3" cy="210.85" r="1.95"/><circle cx="241" cy="212.75" r="1.95"/><circle cx="225.9" cy="210.85" r="1.95"/><circle cx="206.5" cy="213.75" r="1.95"/><circle cx="232" cy="201.75" r="1.95"/><circle cx="314.5" cy="127.4" r="1.95"/><circle cx="315.5" cy="122.5" r="1.95"/><circle cx="325.9" cy="120.6" r="1.95"/><circle cx="344.8" cy="119.6" r="1.95"/><circle cx="353.1" cy="117.2" r="1.95"/><circle cx="353.1" cy="121.6" r="1.95"/><circle cx="343.8" cy="123.5" r="1.95"/><circle cx="328.7" cy="121.6" r="1.95"/><circle cx="309.3" cy="124.5" r="1.95"/><circle cx="334.8" cy="112.5" r="1.95"/><circle cx="336.1" cy="216.65" r="1.95"/><circle cx="337.1" cy="211.75" r="1.95"/><circle cx="347.5" cy="209.85" r="1.95"/><circle cx="366.4" cy="208.85" r="1.95"/><circle cx="374.7" cy="206.45" r="1.95"/><circle cx="374.7" cy="210.85" r="1.95"/><circle cx="365.4" cy="212.75" r="1.95"/><circle cx="350.3" cy="210.85" r="1.95"/><circle cx="330.9" cy="213.75" r="1.95"/><circle cx="356.4" cy="201.75" r="1.95"/></g><polygon points="46.5,41.5 295.3,41.5 339,220 89.7,220" fill="none" stroke="#2b2b2b" stroke-width="0.9"/><line x1="47.5" y1="253" x2="73" y2="253" stroke="#1a3cf0" stroke-width="1.9"/><path d="M78.5 253 l-7 -3 v6z" fill="#1a3cf0"/><line x1="47.5" y1="253" x2="44.3" y2="238" stroke="#e0161c" stroke-width="1.9"/><path d="M42.8 230.8 l-2 8.2 6.4 -1.4z" fill="#e0161c"/><circle cx="47.5" cy="253" r="1.9" fill="#1f8a1f" stroke="#0c4a0c" stroke-width="0.5"/><text x="40" y="227.2" font-size="7.8" font-weight="700" textLength="4.6" lengthAdjust="spacingAndGlyphs">a</text><text x="83.2" y="255.2" font-size="7.8" font-weight="700" textLength="3.8" lengthAdjust="spacingAndGlyphs">c</text><text x="167.6" y="259" font-size="13.2" fill="#111" textLength="102.5" lengthAdjust="spacingAndGlyphs">Bmpip<tspan dy="2.8" font-size="8.4">2</tspan><tspan dy="-2.8">MnBr</tspan><tspan dy="2.8" font-size="8.4">4</tspan></text></g>
<g id="panel_b"><text x="460" y="17.6" font-size="12.6" fill="#111" textLength="96.5" lengthAdjust="spacingAndGlyphs">Bmpip<tspan dy="2.6" font-size="8">2</tspan><tspan dy="-2.6">MnBr</tspan><tspan dy="2.6" font-size="8">4</tspan></text>
<text x="686" y="17.6" font-size="12.6" fill="#111" textLength="100" lengthAdjust="spacingAndGlyphs">[PP14]<tspan dy="2.6" font-size="8">2</tspan><tspan dy="-2.6">MnBr</tspan><tspan dy="2.6" font-size="8">4</tspan></text>
<text x="408.6" y="77" font-size="14.4" font-weight="700" text-anchor="middle" textLength="94" lengthAdjust="spacingAndGlyphs" fill="#111" transform="rotate(-90 408.6 77)" stroke="#111" stroke-width="0.35">Orientation disorder</text>
<text x="408.6" y="205.5" font-size="14.4" font-weight="700" text-anchor="middle" textLength="71" lengthAdjust="spacingAndGlyphs" fill="#111" transform="rotate(-90 408.6 205.5)" stroke="#111" stroke-width="0.35">Conformation</text>
<text x="422" y="205.5" font-size="14.4" font-weight="700" text-anchor="middle" textLength="44" lengthAdjust="spacingAndGlyphs" fill="#111" transform="rotate(-90 422 205.5)" stroke="#111" stroke-width="0.35">disorder</text>
<text x="646.2" y="137.3" font-size="14.4" font-weight="700" text-anchor="middle" textLength="114.5" lengthAdjust="spacingAndGlyphs" fill="#111" transform="rotate(-90 646.2 137.3)" stroke="#111" stroke-width="0.35">Conformation disorder</text>
<text x="467" y="77.2" font-size="10.2" font-weight="700" textLength="83.5" lengthAdjust="spacingAndGlyphs" fill="#111" stroke="#111" stroke-width="0.35">z-axis rotation</text>
<text x="465.6" y="129.6" font-size="10.2" font-weight="700" textLength="78.8" lengthAdjust="spacingAndGlyphs" fill="#111" stroke="#111" stroke-width="0.35">body-rotation</text>
<text x="432.4" y="260.6" font-size="10.2" font-weight="700" textLength="169" lengthAdjust="spacingAndGlyphs" fill="#111" stroke="#111" stroke-width="0.35">body-rotation + σ symmetry</text>
<text x="688.6" y="86.2" font-size="10.2" font-weight="700" textLength="93.6" lengthAdjust="spacingAndGlyphs" fill="#111" stroke="#111" stroke-width="0.35">Br-site disorder</text>
<text x="671.2" y="168.9" font-size="9.6" font-weight="700" textLength="137.6" lengthAdjust="spacingAndGlyphs" fill="#111" stroke="#111" stroke-width="0.35">common connection point</text>
<text x="698.6" y="181.2" font-size="10.2" font-weight="700" textLength="68.4" lengthAdjust="spacingAndGlyphs" fill="#111" stroke="#111" stroke-width="0.35">σ symmetry</text>
<text x="658" y="260.6" font-size="10.2" font-weight="700" textLength="156.6" lengthAdjust="spacingAndGlyphs" fill="#111" stroke="#111" stroke-width="0.35">body-rotation + symmetry</text>
<circle cx="662.4" cy="166.8" r="2.7" class="N"/>
<g transform="translate(498.2 52.8) scale(1)" fill="#a9221b"><path d="M-7.4 -2.5 C-4 -3.8 0 -4.1 3.3 -3.8 L3.1 -4.8 L7.5 -2.5 L3.6 -0.3 L3.5 -1.5 C0.5 -1.8 -3.5 -1.5 -7 -0.3 Z"/><path d="M-7.4 -2.5 C-4 -3.8 0 -4.1 3.3 -3.8 L3.1 -4.8 L7.5 -2.5 L3.6 -0.3 L3.5 -1.5 C0.5 -1.8 -3.5 -1.5 -7 -0.3 Z" transform="rotate(180)"/></g>
<g transform="translate(498.8 102.6) scale(1)" fill="#a9221b"><path d="M-7.4 -2.5 C-4 -3.8 0 -4.1 3.3 -3.8 L3.1 -4.8 L7.5 -2.5 L3.6 -0.3 L3.5 -1.5 C0.5 -1.8 -3.5 -1.5 -7 -0.3 Z"/><path d="M-7.4 -2.5 C-4 -3.8 0 -4.1 3.3 -3.8 L3.1 -4.8 L7.5 -2.5 L3.6 -0.3 L3.5 -1.5 C0.5 -1.8 -3.5 -1.5 -7 -0.3 Z" transform="rotate(180)"/></g>
<g transform="translate(505 170) scale(1)" fill="#a9221b"><path d="M-7.4 -2.5 C-4 -3.8 0 -4.1 3.3 -3.8 L3.1 -4.8 L7.5 -2.5 L3.6 -0.3 L3.5 -1.5 C0.5 -1.8 -3.5 -1.5 -7 -0.3 Z"/><path d="M-7.4 -2.5 C-4 -3.8 0 -4.1 3.3 -3.8 L3.1 -4.8 L7.5 -2.5 L3.6 -0.3 L3.5 -1.5 C0.5 -1.8 -3.5 -1.5 -7 -0.3 Z" transform="rotate(180)"/></g>
<g transform="translate(505 216) scale(1)" fill="#a9221b"><path d="M-7.4 -2.5 C-4 -3.8 0 -4.1 3.3 -3.8 L3.1 -4.8 L7.5 -2.5 L3.6 -0.3 L3.5 -1.5 C0.5 -1.8 -3.5 -1.5 -7 -0.3 Z"/><path d="M-7.4 -2.5 C-4 -3.8 0 -4.1 3.3 -3.8 L3.1 -4.8 L7.5 -2.5 L3.6 -0.3 L3.5 -1.5 C0.5 -1.8 -3.5 -1.5 -7 -0.3 Z" transform="rotate(180)"/></g>
<g transform="translate(735.5 122) scale(1)" fill="#a9221b"><path d="M-7.4 -2.5 C-4 -3.8 0 -4.1 3.3 -3.8 L3.1 -4.8 L7.5 -2.5 L3.6 -0.3 L3.5 -1.5 C0.5 -1.8 -3.5 -1.5 -7 -0.3 Z"/><path d="M-7.4 -2.5 C-4 -3.8 0 -4.1 3.3 -3.8 L3.1 -4.8 L7.5 -2.5 L3.6 -0.3 L3.5 -1.5 C0.5 -1.8 -3.5 -1.5 -7 -0.3 Z" transform="rotate(180)"/></g>
<g transform="translate(735.5 210.5) scale(1)" fill="#a9221b"><path d="M-7.4 -2.5 C-4 -3.8 0 -4.1 3.3 -3.8 L3.1 -4.8 L7.5 -2.5 L3.6 -0.3 L3.5 -1.5 C0.5 -1.8 -3.5 -1.5 -7 -0.3 Z"/><path d="M-7.4 -2.5 C-4 -3.8 0 -4.1 3.3 -3.8 L3.1 -4.8 L7.5 -2.5 L3.6 -0.3 L3.5 -1.5 C0.5 -1.8 -3.5 -1.5 -7 -0.3 Z" transform="rotate(180)"/></g>
<path d="M451.62 41.62L445.75 41.45M451.62 41.62L452.84 35.77M470.88 54.5L474.99 51.58M470.88 54.5L475 59.37M459.12 62L463.38 65.23M459.12 62L454.18 64.93M447.5 59.75L447.55 65.51M447.5 59.75L442.31 59.48M443.5 48.88L437.89 52.03M443.5 48.88L440.95 43.2M469.38 39.5L465.08 36.86M469.38 39.5L473.26 34.98M469.38 39.5L473.25 42.63M474.12 37.25L471.62 42.43M474.12 37.25L468.55 33.99M474.12 37.25L478.11 32.08M483.12 41.62L489.14 43.56M483.12 41.62L480.23 47.51M487.88 35.12L482.97 36.53M487.88 35.12L485.76 30.26M502.5 33.25L501.97 27.59M502.5 33.25L507.93 32.8M502.5 33.25L502.48 38.85" stroke="#7a958c" stroke-width="0.95" fill="none" opacity="0.95"/><path d="M451.62 41.62L466.25 43.88M466.25 43.88L470.88 54.5M470.88 54.5L459.12 62M459.12 62L447.5 59.75M447.5 59.75L443.5 48.88M443.5 48.88L451.62 41.62M466.25 43.88L469.38 39.5M474.12 37.25L483.12 41.62M483.12 41.62L487.88 35.12M487.88 35.12L502.5 33.25" stroke="#d9868c" stroke-width="0.9" fill="none" stroke-linecap="round"/><g fill="#e9f1f1" opacity="0.95"><circle cx="445.75" cy="41.45" r="1.1"/><circle cx="452.84" cy="35.77" r="1.1"/><circle cx="474.99" cy="51.58" r="1.1"/><circle cx="475" cy="59.37" r="1.1"/><circle cx="463.38" cy="65.23" r="1.1"/><circle cx="454.18" cy="64.93" r="1.1"/><circle cx="447.55" cy="65.51" r="1.1"/><circle cx="442.31" cy="59.48" r="1.1"/><circle cx="437.89" cy="52.03" r="1.1"/><circle cx="440.95" cy="43.2" r="1.1"/><circle cx="465.08" cy="36.86" r="1.1"/><circle cx="473.26" cy="34.98" r="1.1"/><circle cx="473.25" cy="42.63" r="1.1"/><circle cx="471.62" cy="42.43" r="1.1"/><circle cx="468.55" cy="33.99" r="1.1"/><circle cx="478.11" cy="32.08" r="1.1"/><circle cx="489.14" cy="43.56" r="1.1"/><circle cx="480.23" cy="47.51" r="1.1"/><circle cx="482.97" cy="36.53" r="1.1"/><circle cx="485.76" cy="30.26" r="1.1"/><circle cx="501.97" cy="27.59" r="1.1"/><circle cx="507.93" cy="32.8" r="1.1"/><circle cx="502.48" cy="38.85" r="1.1"/></g><circle cx="466.25" cy="43.88" r="3" class="N"/><circle cx="451.62" cy="41.62" r="3" class="C"/><circle cx="470.88" cy="54.5" r="3" class="C"/><circle cx="459.12" cy="62" r="3" class="C"/><circle cx="447.5" cy="59.75" r="3" class="C"/><circle cx="443.5" cy="48.88" r="3" class="C"/><circle cx="469.38" cy="39.5" r="3" class="C"/><circle cx="474.12" cy="37.25" r="3" class="C"/><circle cx="483.12" cy="41.62" r="3" class="C"/><circle cx="487.88" cy="35.12" r="3" class="C"/><circle cx="502.5" cy="33.25" r="3" class="C"/><path d="M520.38 48.88L522.26 53.62M520.38 48.88L515.27 49.87M520.38 48.88L519.37 43.34M520.62 55.12L522.17 61.26M520.62 55.12L515.39 56.03M520.62 55.12L519.97 49.75M534.62 46.62L531.71 42.42M534.62 46.62L540.48 43.7M533.12 51.75L529.36 46.66M533.12 51.75L537.7 49.14M556.88 49.25L553.33 44.38M556.88 49.25L562.9 47.03M556.88 49.25L557.74 54.26M561.62 51L563.83 56.69M561.62 51L556.58 52.43M561.62 51L560.82 45.98M575.62 47L581.14 43.68M575.62 47L578.47 51.65M576.88 41L571.09 39.71M576.88 41L579.01 34.96M576.88 41L582.21 42.87" stroke="#7a958c" stroke-width="0.95" fill="none" opacity="0.95"/><path d="M520.38 48.88L534.62 46.62M520.62 55.12L533.12 51.75M534.62 46.62L545 54.75M533.12 51.75L545 54.75M545 54.75L556.88 49.25M561.62 51L575.62 47M575.62 47L576.88 41" stroke="#d9868c" stroke-width="0.9" fill="none" stroke-linecap="round"/><g fill="#e9f1f1" opacity="0.95"><circle cx="522.26" cy="53.62" r="1.1"/><circle cx="515.27" cy="49.87" r="1.1"/><circle cx="519.37" cy="43.34" r="1.1"/><circle cx="522.17" cy="61.26" r="1.1"/><circle cx="515.39" cy="56.03" r="1.1"/><circle cx="519.97" cy="49.75" r="1.1"/><circle cx="531.71" cy="42.42" r="1.1"/><circle cx="540.48" cy="43.7" r="1.1"/><circle cx="529.36" cy="46.66" r="1.1"/><circle cx="537.7" cy="49.14" r="1.1"/><circle cx="553.33" cy="44.38" r="1.1"/><circle cx="562.9" cy="47.03" r="1.1"/><circle cx="557.74" cy="54.26" r="1.1"/><circle cx="563.83" cy="56.69" r="1.1"/><circle cx="556.58" cy="52.43" r="1.1"/><circle cx="560.82" cy="45.98" r="1.1"/><circle cx="581.14" cy="43.68" r="1.1"/><circle cx="578.47" cy="51.65" r="1.1"/><circle cx="571.09" cy="39.71" r="1.1"/><circle cx="579.01" cy="34.96" r="1.1"/><circle cx="582.21" cy="42.87" r="1.1"/></g><circle cx="545" cy="54.75" r="3" class="N"/><circle cx="520.38" cy="48.88" r="3" class="C"/><circle cx="520.62" cy="55.12" r="3" class="C"/><circle cx="534.62" cy="46.62" r="3" class="C"/><circle cx="533.12" cy="51.75" r="3" class="C"/><circle cx="556.88" cy="49.25" r="3" class="C"/><circle cx="561.62" cy="51" r="3" class="C"/><circle cx="575.62" cy="47" r="3" class="C"/><circle cx="576.88" cy="41" r="3" class="C"/><polygon points="453.8,87.55 487.5,87.55 481.2,114.95 453.8,108.75" class="T2"/><path d="M468 100.75L453.8 87.55M468 100.75L487.5 87.55M468 100.75L453.8 108.75M468 100.75L481.2 114.95" stroke="#7fa5a3" stroke-width="0.6" fill="none"/><circle cx="468" cy="100.75" r="4.6" class="Mn"/><circle cx="453.8" cy="87.55" r="4" class="Br"/><circle cx="487.5" cy="87.55" r="4" class="Br"/><circle cx="453.8" cy="108.75" r="4" class="Br"/><circle cx="481.2" cy="114.95" r="4" class="Br"/><polygon points="515,92.05 550,86.75 546.3,115.05 520,111.75" class="T2"/><path d="M532.5 101.25L515 92.05M532.5 101.25L550 86.75M532.5 101.25L520 111.75M532.5 101.25L546.3 115.05" stroke="#7fa5a3" stroke-width="0.6" fill="none"/><circle cx="532.5" cy="101.25" r="4.6" class="Mn"/><circle cx="515" cy="92.05" r="4" class="Br"/><circle cx="550" cy="86.75" r="4" class="Br"/><circle cx="520" cy="111.75" r="4" class="Br"/><circle cx="546.3" cy="115.05" r="4" class="Br"/><path d="M470 153.5L464.15 154.88M470 153.5L469.73 147.16M470 153.5L476.29 153.93M451.62 162.88L451.52 168.42M451.62 162.88L446.4 160.24M451.62 162.88L454.35 158.74M471.5 163.75L476.58 162.77M471.5 163.75L471.71 169.47M474.62 165.62L473.86 160.45M474.62 165.62L480.51 166.99M474.62 165.62L474.06 171.7M469.62 171.25L468.16 165.64M469.62 171.25L474.35 170.63M462.5 179.38L466.26 182.84M462.5 179.38L458.65 184.5M469 182.75L474.23 183.18M469 182.75L467.64 188.25M460.38 186L460.17 191.1M460.38 186L454.66 184.47" stroke="#6f8c98" stroke-width="0.95" fill="none" opacity="0.95"/><path d="M464 166.88L451.62 162.88M464 166.88L471.5 163.75M471.5 163.75L470 153.5M464 166.88L469.62 171.25M464 166.88L462.5 179.38M469.62 171.25L469 182.75M462.5 179.38L460.38 186M469 182.75L460.38 186" stroke="#d9868c" stroke-width="0.9" fill="none" stroke-linecap="round"/><g fill="#e9f1f1" opacity="0.95"><circle cx="464.15" cy="154.88" r="1.1"/><circle cx="469.73" cy="147.16" r="1.1"/><circle cx="476.29" cy="153.93" r="1.1"/><circle cx="451.52" cy="168.42" r="1.1"/><circle cx="446.4" cy="160.24" r="1.1"/><circle cx="454.35" cy="158.74" r="1.1"/><circle cx="476.58" cy="162.77" r="1.1"/><circle cx="471.71" cy="169.47" r="1.1"/><circle cx="473.86" cy="160.45" r="1.1"/><circle cx="480.51" cy="166.99" r="1.1"/><circle cx="474.06" cy="171.7" r="1.1"/><circle cx="468.16" cy="165.64" r="1.1"/><circle cx="474.35" cy="170.63" r="1.1"/><circle cx="466.26" cy="182.84" r="1.1"/><circle cx="458.65" cy="184.5" r="1.1"/><circle cx="474.23" cy="183.18" r="1.1"/><circle cx="467.64" cy="188.25" r="1.1"/><circle cx="460.17" cy="191.1" r="1.1"/><circle cx="454.66" cy="184.47" r="1.1"/></g><circle cx="464" cy="166.88" r="2.7" class="N"/><circle cx="470" cy="153.5" r="2.9" class="C"/><circle cx="451.62" cy="162.88" r="2.9" class="C"/><circle cx="471.5" cy="163.75" r="2.9" class="C"/><circle cx="474.62" cy="165.62" r="2.9" class="C"/><circle cx="469.62" cy="171.25" r="2.9" class="C"/><circle cx="462.5" cy="179.38" r="2.9" class="C"/><circle cx="469" cy="182.75" r="2.9" class="C"/><circle cx="460.38" cy="186" r="2.9" class="C"/><path d="M533.12 169.12L532.92 175.26M533.12 169.12L527.93 168.84M533.12 169.12L533.21 163.25M550.88 158.5L553.66 163.86M550.88 158.5L545.26 160.77M550.88 158.5L549.13 152.65M559 155.62L556.93 150.58M559 155.62L564.59 153.73M559 155.62L560.78 161.03M554.38 161L550.27 157.79M554.38 161L558.58 156.85M554.38 161L557.53 165.28M552.12 163.75L549.49 158.24M552.12 163.75L557.62 163.37M553.38 168.75L551.68 173.55M553.38 168.75L549.22 165.54M553.38 168.75L557.87 165.17M559.62 173.12L561.19 167.48M559.62 173.12L565.31 175.9M553.75 181.88L557.43 186.13M553.75 181.88L549.12 185.59" stroke="#6f8c98" stroke-width="0.95" fill="none" opacity="0.95"/><path d="M533.12 169.12L547.75 170M547.75 170L552.12 163.75M550.88 158.5L559 155.62M547.75 170L553.75 181.88M553.38 168.75L559.62 173.12M559.62 173.12L553.75 181.88M554.38 161L552.12 163.75" stroke="#d9868c" stroke-width="0.9" fill="none" stroke-linecap="round"/><g fill="#e9f1f1" opacity="0.95"><circle cx="532.92" cy="175.26" r="1.1"/><circle cx="527.93" cy="168.84" r="1.1"/><circle cx="533.21" cy="163.25" r="1.1"/><circle cx="553.66" cy="163.86" r="1.1"/><circle cx="545.26" cy="160.77" r="1.1"/><circle cx="549.13" cy="152.65" r="1.1"/><circle cx="556.93" cy="150.58" r="1.1"/><circle cx="564.59" cy="153.73" r="1.1"/><circle cx="560.78" cy="161.03" r="1.1"/><circle cx="550.27" cy="157.79" r="1.1"/><circle cx="558.58" cy="156.85" r="1.1"/><circle cx="557.53" cy="165.28" r="1.1"/><circle cx="549.49" cy="158.24" r="1.1"/><circle cx="557.62" cy="163.37" r="1.1"/><circle cx="551.68" cy="173.55" r="1.1"/><circle cx="549.22" cy="165.54" r="1.1"/><circle cx="557.87" cy="165.17" r="1.1"/><circle cx="561.19" cy="167.48" r="1.1"/><circle cx="565.31" cy="175.9" r="1.1"/><circle cx="557.43" cy="186.13" r="1.1"/><circle cx="549.12" cy="185.59" r="1.1"/></g><circle cx="547.75" cy="170" r="2.7" class="N"/><circle cx="533.12" cy="169.12" r="2.9" class="C"/><circle cx="550.88" cy="158.5" r="2.9" class="C"/><circle cx="559" cy="155.62" r="2.9" class="C"/><circle cx="554.38" cy="161" r="2.9" class="C"/><circle cx="552.12" cy="163.75" r="2.9" class="C"/><circle cx="553.38" cy="168.75" r="2.9" class="C"/><circle cx="559.62" cy="173.12" r="2.9" class="C"/><circle cx="553.75" cy="181.88" r="3.62" class="C"/><path d="M437.12 241.5L439.56 245.88M437.12 241.5L432.41 242.77M437.12 241.5L436.2 236.21M449.38 237.5L454.06 234.4M449.38 237.5L451.82 242.41M448.75 227.75L444.96 230.87M448.75 227.75L446.16 222.17M456.25 220.62L451.6 218.45M456.25 220.62L460.54 215.94M464.75 220L469.28 217.01M464.75 220L466.25 224.6M469.38 207.75L464.29 206.45M469.38 207.75L470.01 202.83M475.38 204.38L472.96 198.74M475.38 204.38L480.82 202.57M478.75 202.75L475.1 207.11M478.75 202.75L475.09 199.55M478.75 202.75L483.36 199.07M473.5 215L478.61 216.35M473.5 215L471.13 219.99M477.88 224.38L480.08 218.69M477.88 224.38L482.02 227.46M477.88 224.38L474.13 228.6" stroke="#6f8c98" stroke-width="0.95" fill="none" opacity="0.95"/><path d="M437.12 241.5L449.38 237.5M449.38 237.5L448.75 227.75M448.75 227.75L456.25 220.62M456.25 220.62L464.75 220M464.75 220L468.12 218.12M468.12 218.12L469.38 207.75M469.38 207.75L475.38 204.38M475.38 204.38L473.5 215M468.12 218.12L477.88 224.38M468.12 218.12L473.5 215" stroke="#d9868c" stroke-width="0.9" fill="none" stroke-linecap="round"/><g fill="#e9f1f1" opacity="0.95"><circle cx="439.56" cy="245.88" r="1.1"/><circle cx="432.41" cy="242.77" r="1.1"/><circle cx="436.2" cy="236.21" r="1.1"/><circle cx="454.06" cy="234.4" r="1.1"/><circle cx="451.82" cy="242.41" r="1.1"/><circle cx="444.96" cy="230.87" r="1.1"/><circle cx="446.16" cy="222.17" r="1.1"/><circle cx="451.6" cy="218.45" r="1.1"/><circle cx="460.54" cy="215.94" r="1.1"/><circle cx="469.28" cy="217.01" r="1.1"/><circle cx="466.25" cy="224.6" r="1.1"/><circle cx="464.29" cy="206.45" r="1.1"/><circle cx="470.01" cy="202.83" r="1.1"/><circle cx="472.96" cy="198.74" r="1.1"/><circle cx="480.82" cy="202.57" r="1.1"/><circle cx="475.1" cy="207.11" r="1.1"/><circle cx="475.09" cy="199.55" r="1.1"/><circle cx="483.36" cy="199.07" r="1.1"/><circle cx="478.61" cy="216.35" r="1.1"/><circle cx="471.13" cy="219.99" r="1.1"/><circle cx="480.08" cy="218.69" r="1.1"/><circle cx="482.02" cy="227.46" r="1.1"/><circle cx="474.13" cy="228.6" r="1.1"/></g><circle cx="468.12" cy="218.12" r="2.7" class="N"/><circle cx="437.12" cy="241.5" r="2.9" class="C"/><circle cx="449.38" cy="237.5" r="2.9" class="C"/><circle cx="448.75" cy="227.75" r="2.9" class="C"/><circle cx="456.25" cy="220.62" r="2.9" class="C"/><circle cx="464.75" cy="220" r="2.9" class="C"/><circle cx="469.38" cy="207.75" r="2.9" class="C"/><circle cx="475.38" cy="204.38" r="2.9" class="C"/><circle cx="478.75" cy="202.75" r="2.9" class="C"/><circle cx="473.5" cy="215" r="2.9" class="C"/><circle cx="477.88" cy="224.38" r="2.9" class="C"/><path d="M544.62 201.88L540.74 196.81M544.62 201.88L549.66 198.72M535.62 208.38L531.76 211.82M535.62 208.38L534.22 203.46M548.75 211.62L553.37 208.59M548.75 211.62L551.52 216.48M549.38 220L548.14 213.97M549.38 220L554.5 219.44M529.12 224.62L533.02 228.08M529.12 224.62L523.88 228.06M529.12 224.62L526.92 220.19M551.25 230.25L551.47 236.67M551.25 230.25L545.45 230.09M562.75 232.88L563.17 227.02M562.75 232.88L568.57 233.98M566.5 240.88L571.43 237.73M566.5 240.88L568.18 246.36M566.5 240.88L562.08 242.92" stroke="#6f8c98" stroke-width="0.95" fill="none" opacity="0.95"/><path d="M544.62 201.88L535.62 208.38M544.62 201.88L548.75 211.62M535.62 208.38L539.38 218.38M548.75 211.62L539.38 218.38M539.38 218.38L529.12 224.62M539.38 218.38L549.38 220M549.38 220L551.25 230.25M551.25 230.25L562.75 232.88M562.75 232.88L566.5 240.88" stroke="#d9868c" stroke-width="0.9" fill="none" stroke-linecap="round"/><g fill="#e9f1f1" opacity="0.95"><circle cx="540.74" cy="196.81" r="1.1"/><circle cx="549.66" cy="198.72" r="1.1"/><circle cx="531.76" cy="211.82" r="1.1"/><circle cx="534.22" cy="203.46" r="1.1"/><circle cx="553.37" cy="208.59" r="1.1"/><circle cx="551.52" cy="216.48" r="1.1"/><circle cx="548.14" cy="213.97" r="1.1"/><circle cx="554.5" cy="219.44" r="1.1"/><circle cx="533.02" cy="228.08" r="1.1"/><circle cx="523.88" cy="228.06" r="1.1"/><circle cx="526.92" cy="220.19" r="1.1"/><circle cx="551.47" cy="236.67" r="1.1"/><circle cx="545.45" cy="230.09" r="1.1"/><circle cx="563.17" cy="227.02" r="1.1"/><circle cx="568.57" cy="233.98" r="1.1"/><circle cx="571.43" cy="237.73" r="1.1"/><circle cx="568.18" cy="246.36" r="1.1"/><circle cx="562.08" cy="242.92" r="1.1"/></g><circle cx="544.62" cy="201.88" r="2.9" class="C"/><circle cx="535.62" cy="208.38" r="2.9" class="C"/><circle cx="548.75" cy="211.62" r="2.9" class="C"/><circle cx="539.38" cy="218.38" r="2.9" class="C"/><circle cx="549.38" cy="220" r="2.9" class="C"/><circle cx="529.12" cy="224.62" r="2.9" class="C"/><circle cx="551.25" cy="230.25" r="2.9" class="C"/><circle cx="562.75" cy="232.88" r="2.9" class="C"/><circle cx="566.5" cy="240.88" r="2.9" class="C"/><path d="M729.5 52.5L722.5 35M729.5 52.5L716.8 40.5M729.5 52.5L745.8 37.5M729.5 52.5L750 40.8M729.5 52.5L704.5 61.8M729.5 52.5L747.5 71.3" stroke="#7f9aa0" stroke-width="0.9" fill="none"/><circle cx="722.5" cy="35" r="3.7" class="Br"/><circle cx="716.8" cy="40.5" r="3.7" class="Br"/><circle cx="745.8" cy="37.5" r="3.7" class="Br"/><circle cx="750" cy="40.8" r="3.7" class="Br"/><circle cx="729.5" cy="52.5" r="5.6" class="Mn"/><circle cx="704.5" cy="61.8" r="4.3" class="Br"/><circle cx="747.5" cy="71.3" r="4.3" class="Br"/><path d="M704.75 105.62L702.84 100.18M704.75 105.62L711.07 103.52M694.62 111.25L689.55 114.46M694.62 111.25L693.98 106.04M704.38 118.12L710.57 117.63M704.38 118.12L705.13 123.86M694.12 124.38L692.16 118.28M709.62 126.62L709.94 121.11M709.62 126.62L715.55 127.65M709.62 126.62L706.23 131.77M686.62 128.12L684.04 122.94M686.62 128.12L691.6 126.35M677.5 138.12L683.81 138.37M677.5 138.12L675.66 143.69M663.75 141.5L658.63 143.72M663.75 141.5L662.44 136.05M663.75 154L669.21 153.89M663.75 154L662.85 160.62M663.75 154L657.97 154.15" stroke="#8495a2" stroke-width="0.7" fill="none" opacity="0.95"/><path d="M704.75 105.62L694.62 111.25M704.75 105.62L704.38 118.12M694.62 111.25L694.62 121.88M694.62 121.88L709.62 126.62M694.62 121.88L704.38 118.12M694.62 121.88L686.62 128.12M686.62 128.12L677.5 138.12M677.5 138.12L663.75 141.5M663.75 141.5L663.75 154" stroke="#d9868c" stroke-width="0.9" fill="none" stroke-linecap="round"/><g fill="#f6f8fa" stroke="#7a8b99" stroke-width="0.5" opacity="0.95"><circle cx="702.84" cy="100.18" r="1.5"/><circle cx="711.07" cy="103.52" r="1.5"/><circle cx="689.55" cy="114.46" r="1.5"/><circle cx="693.98" cy="106.04" r="1.5"/><circle cx="710.57" cy="117.63" r="1.5"/><circle cx="705.13" cy="123.86" r="1.5"/><circle cx="692.16" cy="118.28" r="1.5"/><circle cx="709.94" cy="121.11" r="1.5"/><circle cx="715.55" cy="127.65" r="1.5"/><circle cx="706.23" cy="131.77" r="1.5"/><circle cx="684.04" cy="122.94" r="1.5"/><circle cx="691.6" cy="126.35" r="1.5"/><circle cx="683.81" cy="138.37" r="1.5"/><circle cx="675.66" cy="143.69" r="1.5"/><circle cx="658.63" cy="143.72" r="1.5"/><circle cx="662.44" cy="136.05" r="1.5"/><circle cx="669.21" cy="153.89" r="1.5"/><circle cx="662.85" cy="160.62" r="1.5"/><circle cx="657.97" cy="154.15" r="1.5"/></g><circle cx="694.62" cy="121.88" r="2.7" class="N"/><circle cx="704.75" cy="105.62" r="3.72" class="C"/><circle cx="694.62" cy="111.25" r="3.1" class="C"/><circle cx="704.38" cy="118.12" r="3.1" class="C"/><circle cx="694.12" cy="124.38" r="3.1" class="C"/><circle cx="709.62" cy="126.62" r="3.1" class="C"/><circle cx="686.62" cy="128.12" r="3.1" class="C"/><circle cx="677.5" cy="138.12" r="3.1" class="C"/><circle cx="663.75" cy="141.5" r="3.1" class="C"/><circle cx="663.75" cy="154" r="3.1" class="C"/><path d="M781.5 105.62L779.85 99.99M781.5 105.62L786.91 104.79M771.25 111.25L764.95 113.15M771.25 111.25L770.08 105.99M780.88 118.12L786.55 117.72M780.88 118.12L781.13 124.94M780.88 118.12L776.01 116.33M770.38 124.38L774.21 120.05M756.88 127.25L760.45 132.46M756.88 127.25L751.07 129.78M756.88 127.25L755.76 122.03M780 129L778.31 122.34M780 129L786.2 128.69M788.12 138.75L789.79 143.58M788.12 138.75L781.43 139.91M801.88 141.5L802.51 135.78M801.88 141.5L806.98 143.95M804 151.25L809.57 149.36M804 151.25L806.21 156.99M804 151.25L798.62 151.06" stroke="#8495a2" stroke-width="0.7" fill="none" opacity="0.95"/><path d="M781.5 105.62L771.25 111.25M781.5 105.62L780.88 118.12M771.25 111.25L770.62 121.5M770.62 121.5L756.88 127.25M770.62 121.5L780 129M780 129L788.12 138.75M788.12 138.75L801.88 141.5M801.88 141.5L804 151.25" stroke="#d9868c" stroke-width="0.9" fill="none" stroke-linecap="round"/><g fill="#f6f8fa" stroke="#7a8b99" stroke-width="0.5" opacity="0.95"><circle cx="779.85" cy="99.99" r="1.5"/><circle cx="786.91" cy="104.79" r="1.5"/><circle cx="764.95" cy="113.15" r="1.5"/><circle cx="770.08" cy="105.99" r="1.5"/><circle cx="786.55" cy="117.72" r="1.5"/><circle cx="781.13" cy="124.94" r="1.5"/><circle cx="776.01" cy="116.33" r="1.5"/><circle cx="774.21" cy="120.05" r="1.5"/><circle cx="760.45" cy="132.46" r="1.5"/><circle cx="751.07" cy="129.78" r="1.5"/><circle cx="755.76" cy="122.03" r="1.5"/><circle cx="778.31" cy="122.34" r="1.5"/><circle cx="786.2" cy="128.69" r="1.5"/><circle cx="789.79" cy="143.58" r="1.5"/><circle cx="781.43" cy="139.91" r="1.5"/><circle cx="802.51" cy="135.78" r="1.5"/><circle cx="806.98" cy="143.95" r="1.5"/><circle cx="809.57" cy="149.36" r="1.5"/><circle cx="806.21" cy="156.99" r="1.5"/><circle cx="798.62" cy="151.06" r="1.5"/></g><circle cx="770.62" cy="121.5" r="2.7" class="N"/><circle cx="781.5" cy="105.62" r="3.41" class="C"/><circle cx="771.25" cy="111.25" r="3.1" class="C"/><circle cx="780.88" cy="118.12" r="3.1" class="C"/><circle cx="770.38" cy="124.38" r="3.1" class="C"/><circle cx="756.88" cy="127.25" r="3.1" class="C"/><circle cx="780" cy="129" r="3.1" class="C"/><circle cx="788.12" cy="138.75" r="3.1" class="C"/><circle cx="801.88" cy="141.5" r="3.1" class="C"/><circle cx="804" cy="151.25" r="3.1" class="C"/><path d="M656 208.75L650.9 212.11M656 208.75L654.31 203.06M670 205.62L667.09 200.2M670 205.62L675.35 202.86M665.62 218.75L668.55 224.58M665.62 218.75L660.74 221.57M687.25 211.5L681.34 208.66M687.25 211.5L690.92 207.85M696.88 215.38L702.31 219.52M696.88 215.38L693.04 220.26M703.5 206.88L698.74 208.79M703.5 206.88L702.86 201.71M716.88 202.88L714.09 198.09M716.88 202.88L722.21 200.27M716.88 202.88L718.07 209.38M685 229.38L690.12 225.78M685 229.38L687.96 234.93M685 229.38L679.79 231.43" stroke="#8495a2" stroke-width="0.7" fill="none" opacity="0.95"/><path d="M656 208.75L670 205.62M656 208.75L665.62 218.75M670 205.62L679.38 215M665.62 218.75L679 218.12M679 218.12L687.25 211.5M687.25 211.5L696.88 215.38M696.88 215.38L703.5 206.88M703.5 206.88L716.88 202.88M679 218.12L685 229.38" stroke="#d9868c" stroke-width="0.9" fill="none" stroke-linecap="round"/><g fill="#f6f8fa" stroke="#7a8b99" stroke-width="0.5" opacity="0.95"><circle cx="650.9" cy="212.11" r="1.5"/><circle cx="654.31" cy="203.06" r="1.5"/><circle cx="667.09" cy="200.2" r="1.5"/><circle cx="675.35" cy="202.86" r="1.5"/><circle cx="668.55" cy="224.58" r="1.5"/><circle cx="660.74" cy="221.57" r="1.5"/><circle cx="681.34" cy="208.66" r="1.5"/><circle cx="690.92" cy="207.85" r="1.5"/><circle cx="702.31" cy="219.52" r="1.5"/><circle cx="693.04" cy="220.26" r="1.5"/><circle cx="698.74" cy="208.79" r="1.5"/><circle cx="702.86" cy="201.71" r="1.5"/><circle cx="714.09" cy="198.09" r="1.5"/><circle cx="722.21" cy="200.27" r="1.5"/><circle cx="718.07" cy="209.38" r="1.5"/><circle cx="690.12" cy="225.78" r="1.5"/><circle cx="687.96" cy="234.93" r="1.5"/><circle cx="679.79" cy="231.43" r="1.5"/></g><circle cx="679" cy="218.12" r="2.7" class="N"/><circle cx="656" cy="208.75" r="3.6" class="C"/><circle cx="670" cy="205.62" r="3" class="C"/><circle cx="665.62" cy="218.75" r="3" class="C"/><circle cx="679.38" cy="215" r="3" class="C"/><circle cx="687.25" cy="211.5" r="3" class="C"/><circle cx="696.88" cy="215.38" r="3" class="C"/><circle cx="703.5" cy="206.88" r="3" class="C"/><circle cx="716.88" cy="202.88" r="3" class="C"/><circle cx="685" cy="229.38" r="3" class="C"/><path d="M764.62 210L758.77 210.38M764.62 210L765.28 205.04M786.25 219L789.46 214.67M786.25 219L790.25 223.64M779.62 227.12L785.39 226.84M779.62 227.12L779.43 232.99M765.38 228.38L767.65 233.38M765.38 228.38L759.36 230.18M758.12 218.12L754.08 222.74M758.12 218.12L754.24 213.66M781.25 204.38L775.99 202.99M781.25 204.38L783.81 200.33M781.25 204.38L787 206.94M785 202.12L785.62 207M785 202.12L778.74 201.05M785 202.12L784.96 196.65M796.62 202.12L795.94 207.37M796.62 202.12L792.05 200.03M795.88 206.5L791.77 209.44M795.88 206.5L794.66 201.21M795.88 206.5L801.48 205.16M810 201.25L808.91 195.95M810 201.25L815.82 199.89M810 201.25L808.56 207.49" stroke="#7890a5" stroke-width="0.95" fill="none" opacity="0.95"/><path d="M764.62 210L778.75 209.62M778.75 209.62L786.25 219M786.25 219L779.62 227.12M779.62 227.12L765.38 228.38M765.38 228.38L758.12 218.12M758.12 218.12L764.62 210M778.75 209.62L781.25 204.38M785 202.12L796.62 202.12M796.62 202.12L810 201.25" stroke="#d9868c" stroke-width="0.9" fill="none" stroke-linecap="round"/><g fill="#e9f1f1" opacity="0.95"><circle cx="758.77" cy="210.38" r="1.1"/><circle cx="765.28" cy="205.04" r="1.1"/><circle cx="789.46" cy="214.67" r="1.1"/><circle cx="790.25" cy="223.64" r="1.1"/><circle cx="785.39" cy="226.84" r="1.1"/><circle cx="779.43" cy="232.99" r="1.1"/><circle cx="767.65" cy="233.38" r="1.1"/><circle cx="759.36" cy="230.18" r="1.1"/><circle cx="754.08" cy="222.74" r="1.1"/><circle cx="754.24" cy="213.66" r="1.1"/><circle cx="775.99" cy="202.99" r="1.1"/><circle cx="783.81" cy="200.33" r="1.1"/><circle cx="787" cy="206.94" r="1.1"/><circle cx="785.62" cy="207" r="1.1"/><circle cx="778.74" cy="201.05" r="1.1"/><circle cx="784.96" cy="196.65" r="1.1"/><circle cx="795.94" cy="207.37" r="1.1"/><circle cx="792.05" cy="200.03" r="1.1"/><circle cx="791.77" cy="209.44" r="1.1"/><circle cx="794.66" cy="201.21" r="1.1"/><circle cx="801.48" cy="205.16" r="1.1"/><circle cx="808.91" cy="195.95" r="1.1"/><circle cx="815.82" cy="199.89" r="1.1"/><circle cx="808.56" cy="207.49" r="1.1"/></g><circle cx="778.75" cy="209.62" r="2.8" class="N"/><circle cx="764.62" cy="210" r="2.9" class="C"/><circle cx="786.25" cy="219" r="2.9" class="C"/><circle cx="779.62" cy="227.12" r="2.9" class="C"/><circle cx="765.38" cy="228.38" r="2.9" class="C"/><circle cx="758.12" cy="218.12" r="2.9" class="C"/><circle cx="781.25" cy="204.38" r="2.9" class="C"/><circle cx="785" cy="202.12" r="2.9" class="C"/><circle cx="796.62" cy="202.12" r="2.9" class="C"/><circle cx="795.88" cy="206.5" r="2.9" class="C"/><circle cx="810" cy="201.25" r="2.9" class="C"/></g>
<g id="panel_c"><clipPath id="cclip"><rect x="864" y="20" width="153.2" height="235"/></clipPath>
<g clip-path="url(#cclip)">
<rect x="893.1" y="223.67" width="4.4" height="31.33" fill="#a9c4f1"/>
<rect x="910" y="239.33" width="4.4" height="15.67" fill="#a9c4f1"/>
<rect x="919.3" y="239.33" width="4.4" height="15.67" fill="#a9c4f1"/>
<rect x="884" y="244.56" width="5" height="10.44" fill="url(#hatch)"/>
<rect x="901.5" y="228.89" width="5" height="26.11" fill="url(#hatch)"/>
<rect x="918" y="236.72" width="5" height="18.28" fill="url(#hatch)"/>
<rect x="914.2" y="153.17" width="4.4" height="101.83" fill="#fbcc62"/>
<rect x="931.2" y="64.4" width="4.4" height="190.6" fill="#fbcc62"/>
<rect x="948.4" y="100.95" width="4.4" height="154.05" fill="#fbcc62"/>
<rect x="965.5" y="221.06" width="4.4" height="33.94" fill="#fbcc62"/>
<rect x="982.6" y="171.45" width="4.4" height="83.55" fill="#fbcc62"/>
<rect x="999.4" y="215.83" width="4.4" height="39.17" fill="#fbcc62"/>
<rect x="906.4" y="213.22" width="4.4" height="41.78" fill="#7da7ee"/>
<rect x="923.1" y="93.12" width="4.4" height="161.88" fill="#7da7ee"/>
<rect x="939.6" y="67.01" width="4.4" height="187.99" fill="#7da7ee"/>
<rect x="956.8" y="187.11" width="4.4" height="67.89" fill="#7da7ee"/>
<rect x="973.6" y="239.33" width="4.4" height="15.67" fill="#7da7ee"/>
<path d="M864 254.91 L865.97 254.87 L867.94 254.83 L869.91 254.76 L871.88 254.68 L873.85 254.57 L875.82 254.42 L877.79 254.23 L879.75 253.98 L881.72 253.67 L883.69 253.27 L885.66 252.76 L887.63 252.13 L889.6 251.35 L891.57 250.38 L893.54 249.21 L895.51 247.78 L897.48 246.07 L899.45 244.03 L901.42 241.63 L903.39 238.81 L905.36 235.53 L907.33 231.76 L909.3 227.45 L911.26 222.59 L913.23 217.13 L915.2 211.07 L917.17 204.4 L919.14 197.14 L921.11 189.3 L923.08 180.94 L925.05 172.11 L927.02 162.88 L928.99 153.35 L930.96 143.64 L932.93 133.87 L934.9 124.18 L936.87 114.73 L938.84 105.66 L940.81 97.14 L942.77 89.32 L944.74 82.35 L946.71 76.38 L948.68 71.51 L950.65 67.85 L952.62 65.48 L954.59 64.44 L956.56 64.77 L958.53 66.45 L960.5 69.44 L962.47 73.69 L964.44 79.1 L966.41 85.57 L968.38 92.96 L970.35 101.14 L972.32 109.94 L974.28 119.21 L976.25 128.8 L978.22 138.54 L980.19 148.3 L982.16 157.94 L984.13 167.33 L986.1 176.38 L988.07 185 L990.04 193.12 L992.01 200.69 L993.98 207.67 L995.95 214.04 L997.92 219.81 L999.89 224.99 L1001.86 229.58 L1003.83 233.63 L1005.8 237.16 L1007.76 240.21 L1009.73 242.83 L1011.7 245.05 L1013.67 246.93 L1015.64 248.5 L1017.61 249.8 L1019.58 250.87 L1021.55 251.74" fill="none" stroke="#e8a27a" stroke-width="0.8"/>
<path d="M864 255 L865.97 255 L867.94 255 L869.91 254.99 L871.88 254.99 L873.85 254.98 L875.82 254.96 L877.79 254.93 L879.75 254.89 L881.72 254.81 L883.69 254.69 L885.66 254.51 L887.63 254.22 L889.6 253.8 L891.57 253.17 L893.54 252.28 L895.51 251.01 L897.48 249.26 L899.45 246.88 L901.42 243.74 L903.39 239.65 L905.36 234.45 L907.33 227.98 L909.3 220.11 L911.26 210.75 L913.23 199.89 L915.2 187.59 L917.17 174.03 L919.14 159.47 L921.11 144.31 L923.08 129.03 L925.05 114.22 L927.02 100.47 L928.99 88.42 L930.96 78.64 L932.93 71.63 L934.9 67.75 L936.87 67.2 L938.84 70.03 L940.81 76.07 L942.77 85 L944.74 96.38 L946.71 109.65 L948.68 124.19 L950.65 139.38 L952.62 154.63 L954.59 169.43 L956.56 183.36 L958.53 196.09 L960.5 207.42 L962.47 217.26 L964.44 225.6 L966.41 232.51 L968.38 238.1 L970.35 242.53 L972.32 245.96 L974.28 248.57 L976.25 250.5 L978.22 251.91 L980.19 252.92 L982.16 253.62 L984.13 254.1 L986.1 254.43 L988.07 254.64 L990.04 254.78 L992.01 254.87 L993.98 254.92 L995.95 254.95 L997.92 254.97 L999.89 254.99 L1001.86 254.99 L1003.83 255 L1005.8 255 L1007.76 255 L1009.73 255 L1011.7 255 L1013.67 255 L1015.64 255 L1017.61 255 L1019.58 255 L1021.55 255" fill="none" stroke="#2f8f6a" stroke-width="0.9"/>
<path d="M864 255 L865.97 255 L867.94 254.99 L869.91 254.99 L871.88 254.98 L873.85 254.97 L875.82 254.94 L877.79 254.9 L879.75 254.84 L881.72 254.74 L883.69 254.58 L885.66 254.34 L887.63 253.98 L889.6 253.45 L891.57 252.69 L893.54 251.61 L895.51 250.11 L897.48 248.08 L899.45 245.38 L901.42 241.84 L903.39 237.32 L905.36 231.65 L907.33 224.7 L909.3 216.35 L911.26 206.55 L913.23 195.32 L915.2 182.76 L917.17 169.05 L919.14 154.51 L921.11 139.54 L923.08 124.62 L925.05 110.31 L927.02 97.2 L928.99 85.87 L930.96 76.85 L932.93 70.59 L934.9 67.4 L936.87 67.44 L938.84 70.71 L940.81 77.05 L942.77 86.14 L944.74 97.52 L946.71 110.67 L948.68 125 L950.65 139.93 L952.62 154.9 L954.59 169.42 L956.56 183.1 L958.53 195.63 L960.5 206.83 L962.47 216.59 L964.44 224.89 L966.41 231.81 L968.38 237.45 L970.35 241.94 L972.32 245.46 L974.28 248.14 L976.25 250.16 L978.22 251.64 L980.19 252.71 L982.16 253.46 L984.13 253.99 L986.1 254.35 L988.07 254.58 L990.04 254.74 L992.01 254.84 L993.98 254.9 L995.95 254.94 L997.92 254.97 L999.89 254.98 L1001.86 254.99 L1003.83 254.99 L1005.8 255 L1007.76 255 L1009.73 255 L1011.7 255 L1013.67 255 L1015.64 255 L1017.61 255 L1019.58 255 L1021.55 255" fill="none" stroke="#2f6fd0" stroke-width="0.9"/>
<path d="M864 254.78 L864.86 254.71 L865.71 254.61 L866.57 254.48 L867.42 254.32 L868.28 254.12 L869.14 253.87 L869.99 253.56 L870.85 253.18 L871.71 252.72 L872.56 252.17 L873.42 251.52 L874.27 250.76 L875.13 249.88 L875.99 248.88 L876.84 247.76 L877.7 246.5 L878.56 245.12 L879.41 243.62 L880.27 242.01 L881.12 240.31 L881.98 238.54 L882.84 236.73 L883.69 234.9 L884.55 233.1 L885.41 231.35 L886.26 229.7 L887.12 228.18 L887.98 226.83 L888.83 225.69 L889.69 224.78 L890.54 224.13 L891.4 223.76 L892.26 223.67 L893.11 223.88 L893.97 224.36 L894.83 225.12 L895.68 226.12 L896.54 227.35 L897.39 228.77 L898.25 230.34 L899.11 232.04 L899.96 233.81 L900.82 235.63 L901.67 237.46 L902.53 239.25 L903.39 241 L904.24 242.66 L905.1 244.23 L905.96 245.69 L906.81 247.02 L907.67 248.22 L908.52 249.3 L909.38 250.25 L910.24 251.08 L911.09 251.79 L911.95 252.4 L912.81 252.91 L913.66 253.34 L914.52 253.69 L915.38 253.98 L916.23 254.21 L917.09 254.39 L917.94 254.54 L918.8 254.65 L919.66 254.74 L920.51 254.81 L921.37 254.86 L922.23 254.9 L923.08 254.93 L923.94 254.95 L924.79 254.96 L925.65 254.97 L926.51 254.98 L927.36 254.99 L928.22 254.99 L929.08 254.99 L929.93 255 L930.79 255 L931.64 255 L932.5 255" fill="none" stroke="#f3c58a" stroke-width="0.8" stroke-dasharray="2.2 1.4"/>
<path d="M870.85 254.99 L871.88 254.99 L872.9 254.99 L873.93 254.98 L874.96 254.97 L875.99 254.95 L877.01 254.94 L878.04 254.91 L879.07 254.87 L880.1 254.83 L881.12 254.76 L882.15 254.68 L883.18 254.57 L884.21 254.43 L885.24 254.25 L886.26 254.03 L887.29 253.75 L888.32 253.41 L889.35 253 L890.37 252.5 L891.4 251.91 L892.43 251.22 L893.46 250.43 L894.48 249.52 L895.51 248.49 L896.54 247.35 L897.57 246.09 L898.59 244.74 L899.62 243.29 L900.65 241.78 L901.67 240.22 L902.7 238.64 L903.73 237.06 L904.76 235.54 L905.78 234.09 L906.81 232.76 L907.84 231.58 L908.87 230.59 L909.89 229.8 L910.92 229.25 L911.95 228.95 L912.98 228.9 L914 229.12 L915.03 229.59 L916.06 230.3 L917.09 231.23 L918.12 232.35 L919.14 233.63 L920.17 235.05 L921.2 236.55 L922.23 238.11 L923.25 239.69 L924.28 241.26 L925.31 242.8 L926.34 244.27 L927.36 245.65 L928.39 246.94 L929.42 248.12 L930.45 249.19 L931.47 250.14 L932.5 250.97 L933.53 251.7 L934.55 252.32 L935.58 252.84 L936.61 253.28 L937.64 253.65 L938.66 253.95 L939.69 254.19 L940.72 254.38 L941.75 254.53 L942.77 254.65 L943.8 254.74 L944.83 254.81 L945.86 254.86 L946.88 254.9 L947.91 254.93 L948.94 254.95 L949.97 254.96 L951 254.98 L952.02 254.98 L953.05 254.99" fill="none" stroke="#4f8a3a" stroke-width="0.8" stroke-dasharray="2.2 1.4"/>
</g>
<rect x="864" y="20" width="153.2" height="235" fill="none" stroke="#000" stroke-width="0.9"/>
<line x1="864" y1="255" x2="866.2" y2="255" stroke="#000" stroke-width="0.8"/>
<text x="860.8" y="258.1" font-size="8.6" font-weight="700" text-anchor="end" textLength="5.6" lengthAdjust="spacingAndGlyphs">0</text>
<line x1="864" y1="228.89" x2="866.2" y2="228.89" stroke="#000" stroke-width="0.8"/>
<text x="860.8" y="231.99" font-size="8.6" font-weight="700" text-anchor="end" textLength="11.2" lengthAdjust="spacingAndGlyphs">10</text>
<line x1="864" y1="202.78" x2="866.2" y2="202.78" stroke="#000" stroke-width="0.8"/>
<text x="860.8" y="205.88" font-size="8.6" font-weight="700" text-anchor="end" textLength="11.2" lengthAdjust="spacingAndGlyphs">20</text>
<line x1="864" y1="176.67" x2="866.2" y2="176.67" stroke="#000" stroke-width="0.8"/>
<text x="860.8" y="179.77" font-size="8.6" font-weight="700" text-anchor="end" textLength="11.2" lengthAdjust="spacingAndGlyphs">30</text>
<line x1="864" y1="150.56" x2="866.2" y2="150.56" stroke="#000" stroke-width="0.8"/>
<text x="860.8" y="153.66" font-size="8.6" font-weight="700" text-anchor="end" textLength="11.2" lengthAdjust="spacingAndGlyphs">40</text>
<line x1="864" y1="124.45" x2="866.2" y2="124.45" stroke="#000" stroke-width="0.8"/>
<text x="860.8" y="127.55" font-size="8.6" font-weight="700" text-anchor="end" textLength="11.2" lengthAdjust="spacingAndGlyphs">50</text>
<line x1="864" y1="98.34" x2="866.2" y2="98.34" stroke="#000" stroke-width="0.8"/>
<text x="860.8" y="101.44" font-size="8.6" font-weight="700" text-anchor="end" textLength="11.2" lengthAdjust="spacingAndGlyphs">60</text>
<line x1="864" y1="72.23" x2="866.2" y2="72.23" stroke="#000" stroke-width="0.8"/>
<text x="860.8" y="75.33" font-size="8.6" font-weight="700" text-anchor="end" textLength="11.2" lengthAdjust="spacingAndGlyphs">70</text>
<line x1="864" y1="46.12" x2="866.2" y2="46.12" stroke="#000" stroke-width="0.8"/>
<text x="860.8" y="49.22" font-size="8.6" font-weight="700" text-anchor="end" textLength="11.2" lengthAdjust="spacingAndGlyphs">80</text>
<line x1="864" y1="20.01" x2="866.2" y2="20.01" stroke="#000" stroke-width="0.8"/>
<text x="860.8" y="23.11" font-size="8.6" font-weight="700" text-anchor="end" textLength="11.2" lengthAdjust="spacingAndGlyphs">90</text>
<line x1="864" y1="241.94" x2="865.2" y2="241.94" stroke="#000" stroke-width="0.6"/>
<line x1="864" y1="215.83" x2="865.2" y2="215.83" stroke="#000" stroke-width="0.6"/>
<line x1="864" y1="189.72" x2="865.2" y2="189.72" stroke="#000" stroke-width="0.6"/>
<line x1="864" y1="163.62" x2="865.2" y2="163.62" stroke="#000" stroke-width="0.6"/>
<line x1="864" y1="137.5" x2="865.2" y2="137.5" stroke="#000" stroke-width="0.6"/>
<line x1="864" y1="111.39" x2="865.2" y2="111.39" stroke="#000" stroke-width="0.6"/>
<line x1="864" y1="85.28" x2="865.2" y2="85.28" stroke="#000" stroke-width="0.6"/>
<line x1="864" y1="59.17" x2="865.2" y2="59.17" stroke="#000" stroke-width="0.6"/>
<line x1="864" y1="33.06" x2="865.2" y2="33.06" stroke="#000" stroke-width="0.6"/>
<line x1="864" y1="255" x2="864" y2="252.8" stroke="#000" stroke-width="0.8"/>
<text x="862.7" y="264.6" font-size="8.6" font-weight="700" text-anchor="middle" textLength="18.4" lengthAdjust="spacingAndGlyphs">0.00</text>
<line x1="891.4" y1="255" x2="891.4" y2="252.8" stroke="#000" stroke-width="0.8"/>
<text x="891.4" y="264.6" font-size="8.6" font-weight="700" text-anchor="middle" textLength="18.4" lengthAdjust="spacingAndGlyphs">0.08</text>
<line x1="918.8" y1="255" x2="918.8" y2="252.8" stroke="#000" stroke-width="0.8"/>
<text x="918.8" y="264.6" font-size="8.6" font-weight="700" text-anchor="middle" textLength="18.4" lengthAdjust="spacingAndGlyphs">0.16</text>
<line x1="946.2" y1="255" x2="946.2" y2="252.8" stroke="#000" stroke-width="0.8"/>
<text x="946.2" y="264.6" font-size="8.6" font-weight="700" text-anchor="middle" textLength="18.4" lengthAdjust="spacingAndGlyphs">0.24</text>
<line x1="973.6" y1="255" x2="973.6" y2="252.8" stroke="#000" stroke-width="0.8"/>
<text x="973.6" y="264.6" font-size="8.6" font-weight="700" text-anchor="middle" textLength="18.4" lengthAdjust="spacingAndGlyphs">0.32</text>
<line x1="1001" y1="255" x2="1001" y2="252.8" stroke="#000" stroke-width="0.8"/>
<text x="1001" y="264.6" font-size="8.6" font-weight="700" text-anchor="middle" textLength="18.4" lengthAdjust="spacingAndGlyphs">0.40</text>
<line x1="877.7" y1="255" x2="877.7" y2="253.8" stroke="#000" stroke-width="0.6"/>
<line x1="905.1" y1="255" x2="905.1" y2="253.8" stroke="#000" stroke-width="0.6"/>
<line x1="932.5" y1="255" x2="932.5" y2="253.8" stroke="#000" stroke-width="0.6"/>
<line x1="959.9" y1="255" x2="959.9" y2="253.8" stroke="#000" stroke-width="0.6"/>
<line x1="987.3" y1="255" x2="987.3" y2="253.8" stroke="#000" stroke-width="0.6"/>
<line x1="1014.7" y1="255" x2="1014.7" y2="253.8" stroke="#000" stroke-width="0.6"/>
<text x="841.2" y="128" font-size="13" font-weight="700" text-anchor="middle" textLength="39.5" lengthAdjust="spacingAndGlyphs" transform="rotate(-90 841.2 128)">Count</text>
<text x="932.6" y="276.2" font-size="11.2" font-weight="700" font-style="italic">U<tspan dy="3.2" font-size="7.4">equ</tspan></text>
<text x="866.3" y="30" font-size="7.2" font-weight="700" textLength="58.5" lengthAdjust="spacingAndGlyphs">Bmpip<tspan dy="1.5" font-size="4.6">2</tspan><tspan dy="-1.5">MnBr</tspan><tspan dy="1.5" font-size="4.6">4</tspan></text>
<rect x="866.5" y="33.6" width="17.5" height="6" fill="#fbcc62"/>
<text x="889.3" y="39.6" font-size="7.8" font-weight="700" textLength="34.5" lengthAdjust="spacingAndGlyphs">Organic</text>
<rect x="933.2" y="33.6" width="16" height="6" fill="url(#hatch)"/>
<text x="955.2" y="39.6" font-size="7.8" font-weight="700" textLength="40.5" lengthAdjust="spacingAndGlyphs">Inorganic</text>
<text x="866.3" y="49.4" font-size="7.2" font-weight="700" textLength="58.5" lengthAdjust="spacingAndGlyphs">[PP14]<tspan dy="1.5" font-size="4.6">2</tspan><tspan dy="-1.5">MnBr</tspan><tspan dy="1.5" font-size="4.6">4</tspan></text>
<rect x="866.5" y="53.2" width="17.5" height="6" fill="#7da7ee"/>
<text x="889.3" y="59.2" font-size="7.8" font-weight="700" textLength="34.5" lengthAdjust="spacingAndGlyphs">Organic</text>
<rect x="933.2" y="53.2" width="16" height="6" fill="#a9c4f1"/>
<text x="955.2" y="59.2" font-size="7.8" font-weight="700" textLength="40.5" lengthAdjust="spacingAndGlyphs">Inorganic</text></g>
<g id="panel_d"><g opacity="0.92"><path d="M31.09 291.41L26.89 293.13M31.09 291.41L30.69 287.15M39.69 289.84L37.48 285.72M39.69 289.84L43.95 289.17M43.28 298.44L46.65 296.35M43.28 298.44L45.62 301.84M35.47 303.59L37.77 306.55M35.47 303.59L31.93 305.35M28.75 301.88L29.65 305.47M28.75 301.88L24.19 301.18M26.09 295.31L21.97 296.98M26.09 295.31L23.96 291.83M43.59 289.84L43.59 293.65M43.59 289.84L39.63 288.67M43.59 289.84L44.25 285.18M49.53 290.62L54.38 290.52M49.53 290.62L48.57 294.88M52.19 286.72L48.37 288.66M52.19 286.72L50.76 283.3M61.56 285.94L61.23 281.99M61.56 285.94L65.49 286M61.56 285.94L60.56 290.64" stroke="#b3959f" stroke-width="0.75" fill="none" opacity="1"/><path d="M31.09 291.41L39.69 289.84M39.69 289.84L43.28 298.44M43.28 298.44L35.47 303.59M35.47 303.59L28.75 301.88M28.75 301.88L26.09 295.31M26.09 295.31L31.09 291.41M43.59 289.84L49.53 290.62M49.53 290.62L52.19 286.72M52.19 286.72L61.56 285.94" stroke="#c27f8a" stroke-width="0.85" fill="none" stroke-linecap="round"/><g fill="#dccdd2" opacity="1"><circle cx="26.89" cy="293.13" r="0.85"/><circle cx="30.69" cy="287.15" r="0.85"/><circle cx="37.48" cy="285.72" r="0.85"/><circle cx="43.95" cy="289.17" r="0.85"/><circle cx="46.65" cy="296.35" r="0.85"/><circle cx="45.62" cy="301.84" r="0.85"/><circle cx="37.77" cy="306.55" r="0.85"/><circle cx="31.93" cy="305.35" r="0.85"/><circle cx="29.65" cy="305.47" r="0.85"/><circle cx="24.19" cy="301.18" r="0.85"/><circle cx="21.97" cy="296.98" r="0.85"/><circle cx="23.96" cy="291.83" r="0.85"/><circle cx="43.59" cy="293.65" r="0.85"/><circle cx="39.63" cy="288.67" r="0.85"/><circle cx="44.25" cy="285.18" r="0.85"/><circle cx="54.38" cy="290.52" r="0.85"/><circle cx="48.57" cy="294.88" r="0.85"/><circle cx="48.37" cy="288.66" r="0.85"/><circle cx="50.76" cy="283.3" r="0.85"/><circle cx="61.23" cy="281.99" r="0.85"/><circle cx="65.49" cy="286" r="0.85"/><circle cx="60.56" cy="290.64" r="0.85"/></g><circle cx="31.09" cy="291.41" r="1.55" fill="#cf6472" stroke="#a84a58" stroke-width="0.35"/><circle cx="39.69" cy="289.84" r="1.55" fill="#cf6472" stroke="#a84a58" stroke-width="0.35"/><circle cx="43.28" cy="298.44" r="1.55" fill="#cf6472" stroke="#a84a58" stroke-width="0.35"/><circle cx="35.47" cy="303.59" r="1.55" fill="#cf6472" stroke="#a84a58" stroke-width="0.35"/><circle cx="28.75" cy="301.88" r="1.55" fill="#cf6472" stroke="#a84a58" stroke-width="0.35"/><circle cx="26.09" cy="295.31" r="1.55" fill="#cf6472" stroke="#a84a58" stroke-width="0.35"/><circle cx="43.59" cy="289.84" r="1.55" fill="#cf6472" stroke="#a84a58" stroke-width="0.35"/><circle cx="49.53" cy="290.62" r="1.55" fill="#cf6472" stroke="#a84a58" stroke-width="0.35"/><circle cx="52.19" cy="286.72" r="1.55" fill="#cf6472" stroke="#a84a58" stroke-width="0.35"/><circle cx="61.56" cy="285.94" r="1.55" fill="#cf6472" stroke="#a84a58" stroke-width="0.35"/><path d="M115 290.62L111.23 291.32M115 290.62L113.16 286.04M125.62 289.84L124.96 286.09M125.62 289.84L129.7 290.32M126.88 298.44L130.76 297.72M126.88 298.44L126.99 302.5M120.16 302.34L124.27 304.92M120.16 302.34L116.97 306M112.34 300.78L112.03 304.49M112.34 300.78L108.09 299.58M110 294.53L106.8 296.76M110 294.53L108.74 290.31M126.41 289.84L125.83 294.46M126.41 289.84L122.17 288.71M126.41 289.84L127.71 285.6M134.22 290.62L139.05 289.9M134.22 290.62L134.22 295.29M136.88 286.25L132.42 286.81M136.88 286.25L135.57 281.72M145.94 285.94L145.53 282.07M145.94 285.94L150.2 285.11M145.94 285.94L146.27 290.77" stroke="#b3959f" stroke-width="0.75" fill="none" opacity="1"/><path d="M115 290.62L125.62 289.84M125.62 289.84L126.88 298.44M126.88 298.44L120.16 302.34M120.16 302.34L112.34 300.78M112.34 300.78L110 294.53M110 294.53L115 290.62M126.41 289.84L134.22 290.62M134.22 290.62L136.88 286.25M136.88 286.25L145.94 285.94" stroke="#c27f8a" stroke-width="0.85" fill="none" stroke-linecap="round"/><g fill="#dccdd2" opacity="1"><circle cx="111.23" cy="291.32" r="0.85"/><circle cx="113.16" cy="286.04" r="0.85"/><circle cx="124.96" cy="286.09" r="0.85"/><circle cx="129.7" cy="290.32" r="0.85"/><circle cx="130.76" cy="297.72" r="0.85"/><circle cx="126.99" cy="302.5" r="0.85"/><circle cx="124.27" cy="304.92" r="0.85"/><circle cx="116.97" cy="306" r="0.85"/><circle cx="112.03" cy="304.49" r="0.85"/><circle cx="108.09" cy="299.58" r="0.85"/><circle cx="106.8" cy="296.76" r="0.85"/><circle cx="108.74" cy="290.31" r="0.85"/><circle cx="125.83" cy="294.46" r="0.85"/><circle cx="122.17" cy="288.71" r="0.85"/><circle cx="127.71" cy="285.6" r="0.85"/><circle cx="139.05" cy="289.9" r="0.85"/><circle cx="134.22" cy="295.29" r="0.85"/><circle cx="132.42" cy="286.81" r="0.85"/><circle cx="135.57" cy="281.72" r="0.85"/><circle cx="145.53" cy="282.07" r="0.85"/><circle cx="150.2" cy="285.11" r="0.85"/><circle cx="146.27" cy="290.77" r="0.85"/></g><circle cx="115" cy="290.62" r="1.55" fill="#cf6472" stroke="#a84a58" stroke-width="0.35"/><circle cx="125.62" cy="289.84" r="1.55" fill="#cf6472" stroke="#a84a58" stroke-width="0.35"/><circle cx="126.88" cy="298.44" r="1.55" fill="#cf6472" stroke="#a84a58" stroke-width="0.35"/><circle cx="120.16" cy="302.34" r="1.55" fill="#cf6472" stroke="#a84a58" stroke-width="0.35"/><circle cx="112.34" cy="300.78" r="1.55" fill="#cf6472" stroke="#a84a58" stroke-width="0.35"/><circle cx="110" cy="294.53" r="1.55" fill="#cf6472" stroke="#a84a58" stroke-width="0.35"/><circle cx="126.41" cy="289.84" r="1.55" fill="#cf6472" stroke="#a84a58" stroke-width="0.35"/><circle cx="134.22" cy="290.62" r="1.55" fill="#cf6472" stroke="#a84a58" stroke-width="0.35"/><circle cx="136.88" cy="286.25" r="1.55" fill="#cf6472" stroke="#a84a58" stroke-width="0.35"/><circle cx="145.94" cy="285.94" r="1.55" fill="#cf6472" stroke="#a84a58" stroke-width="0.35"/><path d="M38.12 317.97L33.8 315.7M38.12 317.97L40.25 314.87M38.12 317.97L41.53 320.43M27.19 324.22L26.81 328.02M27.19 324.22L22.98 323.75M27.19 324.22L28.24 320.11M40.47 325.31L39.11 321.8M40.47 325.31L44.67 325.31M40.47 325.31L40.2 329.91M38.12 329.69L38.74 326.01M38.12 329.69L42.12 331.58M33.44 334.38L29.67 336.76M37.81 335.94L41.6 337.57M37.81 335.94L35.97 339.64M32.66 338.28L37.14 338.7M32.66 338.28L32.16 342.01M32.66 338.28L28.3 336.85" stroke="#b3959f" stroke-width="0.75" fill="none" opacity="1"/><path d="M38.12 317.97L34.22 325.78M27.19 324.22L34.22 325.78M34.22 325.78L40.47 325.31M34.22 325.78L38.12 329.69M38.12 329.69L37.81 335.94M33.44 334.38L37.81 335.94M33.44 334.38L32.66 338.28M34.22 325.78L33.44 334.38" stroke="#c27f8a" stroke-width="0.85" fill="none" stroke-linecap="round"/><g fill="#dccdd2" opacity="1"><circle cx="33.8" cy="315.7" r="0.85"/><circle cx="40.25" cy="314.87" r="0.85"/><circle cx="41.53" cy="320.43" r="0.85"/><circle cx="26.81" cy="328.02" r="0.85"/><circle cx="22.98" cy="323.75" r="0.85"/><circle cx="28.24" cy="320.11" r="0.85"/><circle cx="39.11" cy="321.8" r="0.85"/><circle cx="44.67" cy="325.31" r="0.85"/><circle cx="40.2" cy="329.91" r="0.85"/><circle cx="38.74" cy="326.01" r="0.85"/><circle cx="42.12" cy="331.58" r="0.85"/><circle cx="29.67" cy="336.76" r="0.85"/><circle cx="41.6" cy="337.57" r="0.85"/><circle cx="35.97" cy="339.64" r="0.85"/><circle cx="37.14" cy="338.7" r="0.85"/><circle cx="32.16" cy="342.01" r="0.85"/><circle cx="28.3" cy="336.85" r="0.85"/></g><circle cx="34.22" cy="325.78" r="1.55" fill="#a9bf6a" stroke="#7c9440" stroke-width="0.35"/><circle cx="38.12" cy="317.97" r="1.55" fill="#cf6472" stroke="#a84a58" stroke-width="0.35"/><circle cx="27.19" cy="324.22" r="1.55" fill="#cf6472" stroke="#a84a58" stroke-width="0.35"/><circle cx="40.47" cy="325.31" r="1.55" fill="#cf6472" stroke="#a84a58" stroke-width="0.35"/><circle cx="38.12" cy="329.69" r="1.55" fill="#cf6472" stroke="#a84a58" stroke-width="0.35"/><circle cx="33.44" cy="334.38" r="1.55" fill="#cf6472" stroke="#a84a58" stroke-width="0.35"/><circle cx="37.81" cy="335.94" r="1.55" fill="#cf6472" stroke="#a84a58" stroke-width="0.35"/><circle cx="32.66" cy="338.28" r="1.55" fill="#cf6472" stroke="#a84a58" stroke-width="0.35"/><path d="M142.81 318.75L138.46 316.87M142.81 318.75L144.52 314.11M142.81 318.75L146.81 320.86M131.09 325L131.44 329.62M131.09 325L126.54 324.66M131.09 325L132.92 320.73M145.16 325.78L143.86 321.19M145.16 325.78L148.96 325.96M145.16 325.78L145.1 330.67M142.03 329.69L141.42 325.5M142.03 329.69L146.85 328.87M138.12 335.16L134.91 338.49M142.03 337.19L145.5 338.87M142.03 337.19L140.45 340.92M136.88 339.06L140.92 339.86M136.88 339.06L134.78 343.43M136.88 339.06L132.4 337.3" stroke="#b3959f" stroke-width="0.75" fill="none" opacity="1"/><path d="M142.81 318.75L138.91 326.56M131.09 325L138.91 326.56M138.91 326.56L145.16 325.78M138.91 326.56L142.03 329.69M142.03 329.69L142.03 337.19M138.12 335.16L142.03 337.19M138.12 335.16L136.88 339.06M138.91 326.56L138.12 335.16" stroke="#c27f8a" stroke-width="0.85" fill="none" stroke-linecap="round"/><g fill="#dccdd2" opacity="1"><circle cx="138.46" cy="316.87" r="0.85"/><circle cx="144.52" cy="314.11" r="0.85"/><circle cx="146.81" cy="320.86" r="0.85"/><circle cx="131.44" cy="329.62" r="0.85"/><circle cx="126.54" cy="324.66" r="0.85"/><circle cx="132.92" cy="320.73" r="0.85"/><circle cx="143.86" cy="321.19" r="0.85"/><circle cx="148.96" cy="325.96" r="0.85"/><circle cx="145.1" cy="330.67" r="0.85"/><circle cx="141.42" cy="325.5" r="0.85"/><circle cx="146.85" cy="328.87" r="0.85"/><circle cx="134.91" cy="338.49" r="0.85"/><circle cx="145.5" cy="338.87" r="0.85"/><circle cx="140.45" cy="340.92" r="0.85"/><circle cx="140.92" cy="339.86" r="0.85"/><circle cx="134.78" cy="343.43" r="0.85"/><circle cx="132.4" cy="337.3" r="0.85"/></g><circle cx="138.91" cy="326.56" r="1.55" fill="#a9bf6a" stroke="#7c9440" stroke-width="0.35"/><circle cx="142.81" cy="318.75" r="1.55" fill="#cf6472" stroke="#a84a58" stroke-width="0.35"/><circle cx="131.09" cy="325" r="1.55" fill="#cf6472" stroke="#a84a58" stroke-width="0.35"/><circle cx="145.16" cy="325.78" r="1.55" fill="#cf6472" stroke="#a84a58" stroke-width="0.35"/><circle cx="142.03" cy="329.69" r="1.55" fill="#cf6472" stroke="#a84a58" stroke-width="0.35"/><circle cx="138.12" cy="335.16" r="1.55" fill="#cf6472" stroke="#a84a58" stroke-width="0.35"/><circle cx="142.03" cy="337.19" r="1.55" fill="#cf6472" stroke="#a84a58" stroke-width="0.35"/><circle cx="136.88" cy="339.06" r="1.55" fill="#cf6472" stroke="#a84a58" stroke-width="0.35"/></g><path d="M63.12 288.28L75.62 298.44M46.72 329.69L63.12 325.78" stroke="#dcb0b0" stroke-width="1.3" stroke-dasharray="1.5 1.2" fill="none" opacity="0.85"/><path d="M85 299.22L106.88 294.53M105.31 327.34L128.75 325.31" stroke="#b8c4d0" stroke-width="1.3" stroke-dasharray="1.5 1.2" fill="none" opacity="0.85"/><line x1="82.2" y1="321.4" x2="80.7" y2="311.35" stroke="#3f9f93" stroke-width="1.7"/><line x1="80.7" y1="311.35" x2="79.2" y2="301.3" stroke="#e07a2a" stroke-width="1.7"/><line x1="82.2" y1="321.4" x2="74.4" y2="323.35" stroke="#3f9f93" stroke-width="1.7"/><line x1="74.4" y1="323.35" x2="66.6" y2="325.3" stroke="#e07a2a" stroke-width="1.7"/><line x1="82.2" y1="321.4" x2="91.8" y2="324.75" stroke="#3f9f93" stroke-width="1.7"/><line x1="91.8" y1="324.75" x2="101.4" y2="328.1" stroke="#e07a2a" stroke-width="1.7"/><line x1="82.2" y1="321.4" x2="81.1" y2="325.3" stroke="#3f9f93" stroke-width="1.7"/><line x1="81.1" y1="325.3" x2="80" y2="329.2" stroke="#e07a2a" stroke-width="1.7"/><circle cx="79.2" cy="301.3" r="3.7" class="Br"/><circle cx="82.2" cy="321.4" r="5.3" class="Mn"/><circle cx="66.6" cy="325.3" r="3.7" class="Br"/><circle cx="101.4" cy="328.1" r="3.7" class="Br"/><circle cx="80" cy="329.2" r="3.7" class="Br"/><g opacity="0.92"><path d="M27.5 393.12L25.06 397.32M27.5 393.12L24.82 390.25M30.31 395.47L31.22 399.85M30.31 395.47L25.75 397.21M35 389.22L31.63 386.97M35 389.22L38.09 386.07M50.31 386.88L47.59 383.24M50.31 386.88L54.48 385.74M56.88 384.53L60.9 382.61M56.88 384.53L58.04 388.24M58.44 380.62L54.26 379.77M58.44 380.62L59.61 375.86M58.44 380.62L61.65 382.63M35.78 393.12L31.68 394M35.78 393.12L34.94 389.35M49.84 390L48.37 386.56M49.84 390L54.04 388.98M49.84 390L51.08 394.62" stroke="#b3959f" stroke-width="0.75" fill="none" opacity="1"/><path d="M27.5 393.12L35 389.22M30.31 395.47L35.78 393.12M35 389.22L42.81 391.88M35.78 393.12L42.81 391.88M42.81 391.88L50.31 386.88M50.31 386.88L56.88 384.53M56.88 384.53L58.44 380.62M42.81 391.88L49.84 390M27.5 393.12L30.31 395.47" stroke="#c27f8a" stroke-width="0.85" fill="none" stroke-linecap="round"/><g fill="#dccdd2" opacity="1"><circle cx="25.06" cy="397.32" r="0.85"/><circle cx="24.82" cy="390.25" r="0.85"/><circle cx="31.22" cy="399.85" r="0.85"/><circle cx="25.75" cy="397.21" r="0.85"/><circle cx="31.63" cy="386.97" r="0.85"/><circle cx="38.09" cy="386.07" r="0.85"/><circle cx="47.59" cy="383.24" r="0.85"/><circle cx="54.48" cy="385.74" r="0.85"/><circle cx="60.9" cy="382.61" r="0.85"/><circle cx="58.04" cy="388.24" r="0.85"/><circle cx="54.26" cy="379.77" r="0.85"/><circle cx="59.61" cy="375.86" r="0.85"/><circle cx="61.65" cy="382.63" r="0.85"/><circle cx="31.68" cy="394" r="0.85"/><circle cx="34.94" cy="389.35" r="0.85"/><circle cx="48.37" cy="386.56" r="0.85"/><circle cx="54.04" cy="388.98" r="0.85"/><circle cx="51.08" cy="394.62" r="0.85"/></g><circle cx="42.81" cy="391.88" r="1.55" fill="#a9bf6a" stroke="#7c9440" stroke-width="0.35"/><circle cx="27.5" cy="393.12" r="1.55" fill="#cf6472" stroke="#a84a58" stroke-width="0.35"/><circle cx="30.31" cy="395.47" r="1.55" fill="#cf6472" stroke="#a84a58" stroke-width="0.35"/><circle cx="35" cy="389.22" r="1.55" fill="#cf6472" stroke="#a84a58" stroke-width="0.35"/><circle cx="50.31" cy="386.88" r="1.55" fill="#cf6472" stroke="#a84a58" stroke-width="0.35"/><circle cx="56.88" cy="384.53" r="1.55" fill="#cf6472" stroke="#a84a58" stroke-width="0.35"/><circle cx="58.44" cy="380.62" r="1.55" fill="#cf6472" stroke="#a84a58" stroke-width="0.35"/><circle cx="35.78" cy="393.12" r="1.55" fill="#cf6472" stroke="#a84a58" stroke-width="0.35"/><circle cx="49.84" cy="390" r="1.55" fill="#cf6472" stroke="#a84a58" stroke-width="0.35"/><path d="M106.88 382.97L103.02 382.25M106.88 382.97L107.42 378.57M114.38 383.75L117.7 380.49M116.25 389.22L119.38 387.23M116.25 389.22L118.19 393.06M110 393.12L113.51 396.52M110 393.12L106.44 395.31M103.75 391.56L103.07 396.18M103.75 391.56L100.25 390.4M102.19 386.09L98.47 387.4M102.19 386.09L100.1 382.19M117.81 380.62L113.59 378.15M117.81 380.62L120.05 376.46M122.5 381.41L127.17 382.91M122.5 381.41L120.29 385.16M126.41 379.06L123.78 381.68M126.41 379.06L123.57 375.66M134.22 377.5L132.8 373.01M134.22 377.5L138.41 377.19M134.22 377.5L134.01 381.41" stroke="#b3959f" stroke-width="0.75" fill="none" opacity="1"/><path d="M106.88 382.97L114.38 383.75M114.38 383.75L116.25 389.22M116.25 389.22L110 393.12M110 393.12L103.75 391.56M103.75 391.56L102.19 386.09M102.19 386.09L106.88 382.97M114.38 383.75L117.81 380.62M117.81 380.62L122.5 381.41M122.5 381.41L126.41 379.06M126.41 379.06L134.22 377.5" stroke="#c27f8a" stroke-width="0.85" fill="none" stroke-linecap="round"/><g fill="#dccdd2" opacity="1"><circle cx="103.02" cy="382.25" r="0.85"/><circle cx="107.42" cy="378.57" r="0.85"/><circle cx="117.7" cy="380.49" r="0.85"/><circle cx="119.38" cy="387.23" r="0.85"/><circle cx="118.19" cy="393.06" r="0.85"/><circle cx="113.51" cy="396.52" r="0.85"/><circle cx="106.44" cy="395.31" r="0.85"/><circle cx="103.07" cy="396.18" r="0.85"/><circle cx="100.25" cy="390.4" r="0.85"/><circle cx="98.47" cy="387.4" r="0.85"/><circle cx="100.1" cy="382.19" r="0.85"/><circle cx="113.59" cy="378.15" r="0.85"/><circle cx="120.05" cy="376.46" r="0.85"/><circle cx="127.17" cy="382.91" r="0.85"/><circle cx="120.29" cy="385.16" r="0.85"/><circle cx="123.78" cy="381.68" r="0.85"/><circle cx="123.57" cy="375.66" r="0.85"/><circle cx="132.8" cy="373.01" r="0.85"/><circle cx="138.41" cy="377.19" r="0.85"/><circle cx="134.01" cy="381.41" r="0.85"/></g><circle cx="106.88" cy="382.97" r="1.55" fill="#cf6472" stroke="#a84a58" stroke-width="0.35"/><circle cx="114.38" cy="383.75" r="1.55" fill="#cf6472" stroke="#a84a58" stroke-width="0.35"/><circle cx="116.25" cy="389.22" r="1.55" fill="#cf6472" stroke="#a84a58" stroke-width="0.35"/><circle cx="110" cy="393.12" r="1.55" fill="#cf6472" stroke="#a84a58" stroke-width="0.35"/><circle cx="103.75" cy="391.56" r="1.55" fill="#cf6472" stroke="#a84a58" stroke-width="0.35"/><circle cx="102.19" cy="386.09" r="1.55" fill="#cf6472" stroke="#a84a58" stroke-width="0.35"/><circle cx="117.81" cy="380.62" r="1.55" fill="#cf6472" stroke="#a84a58" stroke-width="0.35"/><circle cx="122.5" cy="381.41" r="1.55" fill="#cf6472" stroke="#a84a58" stroke-width="0.35"/><circle cx="126.41" cy="379.06" r="1.55" fill="#cf6472" stroke="#a84a58" stroke-width="0.35"/><circle cx="134.22" cy="377.5" r="1.55" fill="#cf6472" stroke="#a84a58" stroke-width="0.35"/><path d="M33.44 407.19L29.05 408.42M33.44 407.19L33.29 403.28M33.44 407.19L38.04 406.16M24.84 413.44L23.23 417.25M24.84 413.44L21.86 410.94M24.84 413.44L28.1 410.64M35 415L39.66 413.69M35 415L34.88 418.75M32.66 419.69L32.91 415.04M32.66 419.69L37.11 420.35M28.75 423.59L25.12 424.14M33.44 425.16L37.81 426.16M33.44 425.16L32.98 429.58M27.97 427.5L32.46 427.55M27.97 427.5L26.82 431.68M27.97 427.5L23.88 426.73" stroke="#b3959f" stroke-width="0.75" fill="none" opacity="1"/><path d="M33.44 407.19L35 415M24.84 413.44L29.53 416.56M35 415L29.53 416.56M29.53 416.56L32.66 419.69M32.66 419.69L33.44 425.16M28.75 423.59L33.44 425.16M28.75 423.59L27.97 427.5M29.53 416.56L28.75 423.59" stroke="#c27f8a" stroke-width="0.85" fill="none" stroke-linecap="round"/><g fill="#dccdd2" opacity="1"><circle cx="29.05" cy="408.42" r="0.85"/><circle cx="33.29" cy="403.28" r="0.85"/><circle cx="38.04" cy="406.16" r="0.85"/><circle cx="23.23" cy="417.25" r="0.85"/><circle cx="21.86" cy="410.94" r="0.85"/><circle cx="28.1" cy="410.64" r="0.85"/><circle cx="39.66" cy="413.69" r="0.85"/><circle cx="34.88" cy="418.75" r="0.85"/><circle cx="32.91" cy="415.04" r="0.85"/><circle cx="37.11" cy="420.35" r="0.85"/><circle cx="25.12" cy="424.14" r="0.85"/><circle cx="37.81" cy="426.16" r="0.85"/><circle cx="32.98" cy="429.58" r="0.85"/><circle cx="32.46" cy="427.55" r="0.85"/><circle cx="26.82" cy="431.68" r="0.85"/><circle cx="23.88" cy="426.73" r="0.85"/></g><circle cx="29.53" cy="416.56" r="1.55" fill="#a9bf6a" stroke="#7c9440" stroke-width="0.35"/><circle cx="33.44" cy="407.19" r="1.55" fill="#cf6472" stroke="#a84a58" stroke-width="0.35"/><circle cx="24.84" cy="413.44" r="1.55" fill="#cf6472" stroke="#a84a58" stroke-width="0.35"/><circle cx="35" cy="415" r="1.55" fill="#cf6472" stroke="#a84a58" stroke-width="0.35"/><circle cx="32.66" cy="419.69" r="1.55" fill="#cf6472" stroke="#a84a58" stroke-width="0.35"/><circle cx="28.75" cy="423.59" r="1.55" fill="#cf6472" stroke="#a84a58" stroke-width="0.35"/><circle cx="33.44" cy="425.16" r="1.55" fill="#cf6472" stroke="#a84a58" stroke-width="0.35"/><circle cx="27.97" cy="427.5" r="1.55" fill="#cf6472" stroke="#a84a58" stroke-width="0.35"/><path d="M127.19 411.88L123.37 412.05M127.19 411.88L128.16 408.11M127.19 411.88L131.34 412.8M130.31 412.66L126.43 413.27M130.31 412.66L130.13 407.92M130.31 412.66L134.21 412.66M117.03 419.69L118.52 423.36M117.03 419.69L112.24 420.82M117.03 419.69L116.9 414.76M130.31 417.34L134.77 415.5M130.31 417.34L130.9 421.85M129.53 421.25L131.56 417.8M129.53 421.25L133.48 423.47M127.19 425.16L130.71 426.18M127.19 425.16L124.53 428.76M127.19 425.16L123.58 422.76" stroke="#b3959f" stroke-width="0.75" fill="none" opacity="1"/><path d="M127.19 411.88L125.62 418.91M130.31 412.66L130.31 417.34M117.03 419.69L125.62 418.91M125.62 418.91L130.31 417.34M125.62 418.91L129.53 421.25M129.53 421.25L127.19 425.16" stroke="#c27f8a" stroke-width="0.85" fill="none" stroke-linecap="round"/><g fill="#dccdd2" opacity="1"><circle cx="123.37" cy="412.05" r="0.85"/><circle cx="128.16" cy="408.11" r="0.85"/><circle cx="131.34" cy="412.8" r="0.85"/><circle cx="126.43" cy="413.27" r="0.85"/><circle cx="130.13" cy="407.92" r="0.85"/><circle cx="134.21" cy="412.66" r="0.85"/><circle cx="118.52" cy="423.36" r="0.85"/><circle cx="112.24" cy="420.82" r="0.85"/><circle cx="116.9" cy="414.76" r="0.85"/><circle cx="134.77" cy="415.5" r="0.85"/><circle cx="130.9" cy="421.85" r="0.85"/><circle cx="131.56" cy="417.8" r="0.85"/><circle cx="133.48" cy="423.47" r="0.85"/><circle cx="130.71" cy="426.18" r="0.85"/><circle cx="124.53" cy="428.76" r="0.85"/><circle cx="123.58" cy="422.76" r="0.85"/></g><circle cx="125.62" cy="418.91" r="1.55" fill="#a9bf6a" stroke="#7c9440" stroke-width="0.35"/><circle cx="127.19" cy="411.88" r="1.55" fill="#cf6472" stroke="#a84a58" stroke-width="0.35"/><circle cx="130.31" cy="412.66" r="1.55" fill="#cf6472" stroke="#a84a58" stroke-width="0.35"/><circle cx="117.03" cy="419.69" r="1.55" fill="#cf6472" stroke="#a84a58" stroke-width="0.35"/><circle cx="130.31" cy="417.34" r="1.55" fill="#cf6472" stroke="#a84a58" stroke-width="0.35"/><circle cx="129.53" cy="421.25" r="1.55" fill="#cf6472" stroke="#a84a58" stroke-width="0.35"/><circle cx="127.19" cy="425.16" r="1.55" fill="#cf6472" stroke="#a84a58" stroke-width="0.35"/></g><path d="M61.56 382.97L71.72 388.44M52.19 390L70.94 390.78M32.66 401.72L55.31 411.88M45.94 414.69L55.31 413.44M36.56 425.16L56.88 415" stroke="#dcb8b8" stroke-width="1.3" stroke-dasharray="1.5 1.2" fill="none" opacity="0.85"/><path d="M79.53 388.44L100.62 385.31M103.75 398.59L98.28 410.31M102.19 414.69L116.25 416.56" stroke="#b8c8d4" stroke-width="1.3" stroke-dasharray="1.5 1.2" fill="none" opacity="0.85"/><line x1="75.6" y1="409.1" x2="75.45" y2="399.8" stroke="#3f9f93" stroke-width="1.7"/><line x1="75.45" y1="399.8" x2="75.3" y2="390.5" stroke="#e07a2a" stroke-width="1.7"/><line x1="75.6" y1="409.1" x2="67.4" y2="411.05" stroke="#3f9f93" stroke-width="1.7"/><line x1="67.4" y1="411.05" x2="59.2" y2="413" stroke="#e07a2a" stroke-width="1.7"/><line x1="75.6" y1="409.1" x2="85.75" y2="411.45" stroke="#3f9f93" stroke-width="1.7"/><line x1="85.75" y1="411.45" x2="95.9" y2="413.8" stroke="#e07a2a" stroke-width="1.7"/><line x1="75.6" y1="409.1" x2="74.7" y2="413.2" stroke="#3f9f93" stroke-width="1.7"/><line x1="74.7" y1="413.2" x2="73.8" y2="417.3" stroke="#e07a2a" stroke-width="1.7"/><circle cx="75.3" cy="390.5" r="3.7" class="Br"/><circle cx="75.6" cy="409.1" r="5.3" class="Mn"/><circle cx="59.2" cy="413" r="3.7" class="Br"/><circle cx="95.9" cy="413.8" r="3.7" class="Br"/><circle cx="73.8" cy="417.3" r="3.7" class="Br"/><text x="49.8" y="347.7" font-size="11.4" textLength="65.4" lengthAdjust="spacingAndGlyphs" fill="#151515">Δd~0.27 Å</text><text x="19.7" y="360.6" font-size="9" fill="#151515" textLength="138" lengthAdjust="spacingAndGlyphs">Br-site disorder [MnBr<tspan dy="1.8" font-size="5.6">4</tspan><tspan dy="-1.8">]</tspan><tspan dy="-3.4" font-size="5.6">2-</tspan></text><text x="43.6" y="438.2" font-size="11.4" textLength="65.2" lengthAdjust="spacingAndGlyphs" fill="#151515">Δd~0.04 Å</text><text x="30.3" y="450.2" font-size="9" fill="#151515" textLength="90" lengthAdjust="spacingAndGlyphs">Steady [MnBr<tspan dy="1.8" font-size="5.6">4</tspan><tspan dy="-1.8">]</tspan><tspan dy="-3.4" font-size="5.6">2-</tspan></text><text x="30.3" y="461.4" font-size="9" fill="#151515" textLength="87.6" lengthAdjust="spacingAndGlyphs">in Bmpip<tspan dy="1.8" font-size="5.6">2</tspan><tspan dy="-1.8">MnBr</tspan><tspan dy="1.8" font-size="5.6">4</tspan></text></g>
<g id="panel_e"><rect x="186.5" y="305.2" width="271.5" height="110.5" fill="none" stroke="#3a3a3a" stroke-width="0.9"/><path d="M302.9 303.95L308.79 306.48M294.4 313.35L300.98 313.85M294.4 313.35L291.93 319.04M279.1 308.65L278.24 314.9M279.1 308.65L273.57 305.75M290.1 287.25L283.98 285.66M290.1 287.25L293.18 281.59M305.8 292.55L308.21 287.56M305.8 292.55L311.06 296.45M266.7 292.25L266.29 298.17M266.7 292.25L260.39 290.52M266.7 292.25L269.89 286.81M206.1 359.2L200.49 361.07M214.6 368.6L217.19 373.62M214.6 368.6L208.23 369.09M229.9 363.9L234.69 361.01M229.9 363.9L231.35 369.51M218.9 342.5L215.26 337.06M218.9 342.5L224.35 342.3M203.2 347.8L197.9 350.87M203.2 347.8L201.29 342.39M242.3 347.5L238.93 342.6M242.3 347.5L248.27 345.85M242.3 347.5L242.97 353.79M302.9 414.45L308.79 416.98M294.4 423.85L300.98 424.35M294.4 423.85L291.93 429.54M279.1 419.15L278.24 425.4M279.1 419.15L273.57 416.25M290.1 397.75L283.98 396.16M290.1 397.75L293.18 392.09M305.8 403.05L308.21 398.06M305.8 403.05L311.06 406.95M266.7 402.75L266.29 408.67M266.7 402.75L260.39 401.02M266.7 402.75L269.89 397.31M438.65 303.95L444.54 306.48M430.15 313.35L436.73 313.85M430.15 313.35L427.68 319.04M414.85 308.65L413.99 314.9M414.85 308.65L409.32 305.75M425.85 287.25L419.73 285.66M425.85 287.25L428.93 281.59M441.55 292.55L443.96 287.56M441.55 292.55L446.81 296.45M402.45 292.25L402.04 298.17M402.45 292.25L396.14 290.52M402.45 292.25L405.64 286.81M341.85 359.2L336.24 361.07M350.35 368.6L352.94 373.62M350.35 368.6L343.98 369.09M365.65 363.9L370.44 361.01M365.65 363.9L367.1 369.51M354.65 342.5L351.01 337.06M354.65 342.5L360.1 342.3M338.95 347.8L333.65 350.87M338.95 347.8L337.04 342.39M378.05 347.5L374.68 342.6M378.05 347.5L384.02 345.85M378.05 347.5L378.72 353.79M438.65 414.45L444.54 416.98M430.15 423.85L436.73 424.35M430.15 423.85L427.68 429.54M414.85 419.15L413.99 425.4M414.85 419.15L409.32 416.25M425.85 397.75L419.73 396.16M425.85 397.75L428.93 392.09M441.55 403.05L443.96 398.06M441.55 403.05L446.81 406.95M402.45 402.75L402.04 408.67M402.45 402.75L396.14 401.02M402.45 402.75L405.64 397.31" stroke="#8a9aa8" stroke-width="0.7" fill="none"/><path d="M302.9 303.95L294.4 313.35M294.4 313.35L279.1 308.65M279.1 308.65L281.5 297.25M281.5 297.25L290.1 287.25M290.1 287.25L305.8 292.55M305.8 292.55L302.9 303.95M281.5 297.25L266.7 292.25M206.1 359.2L214.6 368.6M214.6 368.6L229.9 363.9M229.9 363.9L227.5 352.5M227.5 352.5L218.9 342.5M218.9 342.5L203.2 347.8M203.2 347.8L206.1 359.2M227.5 352.5L242.3 347.5M302.9 414.45L294.4 423.85M294.4 423.85L279.1 419.15M279.1 419.15L281.5 407.75M281.5 407.75L290.1 397.75M290.1 397.75L305.8 403.05M305.8 403.05L302.9 414.45M281.5 407.75L266.7 402.75M438.65 303.95L430.15 313.35M430.15 313.35L414.85 308.65M414.85 308.65L417.25 297.25M417.25 297.25L425.85 287.25M425.85 287.25L441.55 292.55M441.55 292.55L438.65 303.95M417.25 297.25L402.45 292.25M341.85 359.2L350.35 368.6M350.35 368.6L365.65 363.9M365.65 363.9L363.25 352.5M363.25 352.5L354.65 342.5M354.65 342.5L338.95 347.8M338.95 347.8L341.85 359.2M363.25 352.5L378.05 347.5M438.65 414.45L430.15 423.85M430.15 423.85L414.85 419.15M414.85 419.15L417.25 407.75M417.25 407.75L425.85 397.75M425.85 397.75L441.55 403.05M441.55 403.05L438.65 414.45M417.25 407.75L402.45 402.75" stroke="#c4747e" stroke-width="0.9" fill="none"/><g fill="#f4f7fa" stroke="#8c9dae" stroke-width="0.55"><circle cx="308.79" cy="306.48" r="1.75"/><circle cx="300.98" cy="313.85" r="1.75"/><circle cx="291.93" cy="319.04" r="1.75"/><circle cx="278.24" cy="314.9" r="1.75"/><circle cx="273.57" cy="305.75" r="1.75"/><circle cx="283.98" cy="285.66" r="1.75"/><circle cx="293.18" cy="281.59" r="1.75"/><circle cx="308.21" cy="287.56" r="1.75"/><circle cx="311.06" cy="296.45" r="1.75"/><circle cx="266.29" cy="298.17" r="1.75"/><circle cx="260.39" cy="290.52" r="1.75"/><circle cx="269.89" cy="286.81" r="1.75"/><circle cx="200.49" cy="361.07" r="1.75"/><circle cx="217.19" cy="373.62" r="1.75"/><circle cx="208.23" cy="369.09" r="1.75"/><circle cx="234.69" cy="361.01" r="1.75"/><circle cx="231.35" cy="369.51" r="1.75"/><circle cx="215.26" cy="337.06" r="1.75"/><circle cx="224.35" cy="342.3" r="1.75"/><circle cx="197.9" cy="350.87" r="1.75"/><circle cx="201.29" cy="342.39" r="1.75"/><circle cx="238.93" cy="342.6" r="1.75"/><circle cx="248.27" cy="345.85" r="1.75"/><circle cx="242.97" cy="353.79" r="1.75"/><circle cx="308.79" cy="416.98" r="1.75"/><circle cx="300.98" cy="424.35" r="1.75"/><circle cx="291.93" cy="429.54" r="1.75"/><circle cx="278.24" cy="425.4" r="1.75"/><circle cx="273.57" cy="416.25" r="1.75"/><circle cx="283.98" cy="396.16" r="1.75"/><circle cx="293.18" cy="392.09" r="1.75"/><circle cx="308.21" cy="398.06" r="1.75"/><circle cx="311.06" cy="406.95" r="1.75"/><circle cx="266.29" cy="408.67" r="1.75"/><circle cx="260.39" cy="401.02" r="1.75"/><circle cx="269.89" cy="397.31" r="1.75"/><circle cx="444.54" cy="306.48" r="1.75"/><circle cx="436.73" cy="313.85" r="1.75"/><circle cx="427.68" cy="319.04" r="1.75"/><circle cx="413.99" cy="314.9" r="1.75"/><circle cx="409.32" cy="305.75" r="1.75"/><circle cx="419.73" cy="285.66" r="1.75"/><circle cx="428.93" cy="281.59" r="1.75"/><circle cx="443.96" cy="287.56" r="1.75"/><circle cx="446.81" cy="296.45" r="1.75"/><circle cx="402.04" cy="298.17" r="1.75"/><circle cx="396.14" cy="290.52" r="1.75"/><circle cx="405.64" cy="286.81" r="1.75"/><circle cx="336.24" cy="361.07" r="1.75"/><circle cx="352.94" cy="373.62" r="1.75"/><circle cx="343.98" cy="369.09" r="1.75"/><circle cx="370.44" cy="361.01" r="1.75"/><circle cx="367.1" cy="369.51" r="1.75"/><circle cx="351.01" cy="337.06" r="1.75"/><circle cx="360.1" cy="342.3" r="1.75"/><circle cx="333.65" cy="350.87" r="1.75"/><circle cx="337.04" cy="342.39" r="1.75"/><circle cx="374.68" cy="342.6" r="1.75"/><circle cx="384.02" cy="345.85" r="1.75"/><circle cx="378.72" cy="353.79" r="1.75"/><circle cx="444.54" cy="416.98" r="1.75"/><circle cx="436.73" cy="424.35" r="1.75"/><circle cx="427.68" cy="429.54" r="1.75"/><circle cx="413.99" cy="425.4" r="1.75"/><circle cx="409.32" cy="416.25" r="1.75"/><circle cx="419.73" cy="396.16" r="1.75"/><circle cx="428.93" cy="392.09" r="1.75"/><circle cx="443.96" cy="398.06" r="1.75"/><circle cx="446.81" cy="406.95" r="1.75"/><circle cx="402.04" cy="408.67" r="1.75"/><circle cx="396.14" cy="401.02" r="1.75"/><circle cx="405.64" cy="397.31" r="1.75"/></g><circle cx="302.9" cy="303.95" r="3" class="N"/><circle cx="294.4" cy="313.35" r="3.1" class="C"/><circle cx="279.1" cy="308.65" r="3.1" class="C"/><circle cx="281.5" cy="297.25" r="3" class="N"/><circle cx="290.1" cy="287.25" r="3.1" class="C"/><circle cx="305.8" cy="292.55" r="3.1" class="C"/><circle cx="266.7" cy="292.25" r="3.1" class="C"/><circle cx="206.1" cy="359.2" r="3" class="N"/><circle cx="214.6" cy="368.6" r="3.1" class="C"/><circle cx="229.9" cy="363.9" r="3.1" class="C"/><circle cx="227.5" cy="352.5" r="3" class="N"/><circle cx="218.9" cy="342.5" r="3.1" class="C"/><circle cx="203.2" cy="347.8" r="3.1" class="C"/><circle cx="242.3" cy="347.5" r="3.1" class="C"/><circle cx="302.9" cy="414.45" r="3" class="N"/><circle cx="294.4" cy="423.85" r="3.1" class="C"/><circle cx="279.1" cy="419.15" r="3.1" class="C"/><circle cx="281.5" cy="407.75" r="3" class="N"/><circle cx="290.1" cy="397.75" r="3.1" class="C"/><circle cx="305.8" cy="403.05" r="3.1" class="C"/><circle cx="266.7" cy="402.75" r="3.1" class="C"/><circle cx="438.65" cy="303.95" r="3" class="N"/><circle cx="430.15" cy="313.35" r="3.1" class="C"/><circle cx="414.85" cy="308.65" r="3.1" class="C"/><circle cx="417.25" cy="297.25" r="3" class="N"/><circle cx="425.85" cy="287.25" r="3.1" class="C"/><circle cx="441.55" cy="292.55" r="3.1" class="C"/><circle cx="402.45" cy="292.25" r="3.1" class="C"/><circle cx="341.85" cy="359.2" r="3" class="N"/><circle cx="350.35" cy="368.6" r="3.1" class="C"/><circle cx="365.65" cy="363.9" r="3.1" class="C"/><circle cx="363.25" cy="352.5" r="3" class="N"/><circle cx="354.65" cy="342.5" r="3.1" class="C"/><circle cx="338.95" cy="347.8" r="3.1" class="C"/><circle cx="378.05" cy="347.5" r="3.1" class="C"/><circle cx="438.65" cy="414.45" r="3" class="N"/><circle cx="430.15" cy="423.85" r="3.1" class="C"/><circle cx="414.85" cy="419.15" r="3.1" class="C"/><circle cx="417.25" cy="407.75" r="3" class="N"/><circle cx="425.85" cy="397.75" r="3.1" class="C"/><circle cx="441.55" cy="403.05" r="3.1" class="C"/><circle cx="402.45" cy="402.75" r="3.1" class="C"/><polygon points="276.5,297.85 305.7,296.15 311.9,323.25 272.4,323.55" class="T3"/><path d="M291.2 311.85L276.5 297.85M291.2 311.85L305.7 296.15M291.2 311.85L311.9 323.25M291.2 311.85L272.4 323.55" stroke="#6f9a96" stroke-width="0.7" fill="none" opacity="0.8"/><polygon points="272.4,341.45 311.9,341.75 305.7,368.85 276.5,367.15" class="T3"/><path d="M291.2 353.15L272.4 341.45M291.2 353.15L311.9 341.75M291.2 353.15L305.7 368.85M291.2 353.15L276.5 367.15" stroke="#6f9a96" stroke-width="0.7" fill="none" opacity="0.8"/><polygon points="203.3,351.4 232.5,353.1 236.6,378.8 197.1,378.5" class="T3"/><path d="M217.8 367.1L203.3 351.4M217.8 367.1L232.5 353.1M217.8 367.1L236.6 378.8M217.8 367.1L197.1 378.5" stroke="#6f9a96" stroke-width="0.7" fill="none" opacity="0.8"/><polygon points="197.1,397 236.6,396.7 232.5,422.4 203.3,424.1" class="T3"/><path d="M217.8 408.4L197.1 397M217.8 408.4L236.6 396.7M217.8 408.4L232.5 422.4M217.8 408.4L203.3 424.1" stroke="#6f9a96" stroke-width="0.7" fill="none" opacity="0.8"/><polygon points="412.25,297.85 441.45,296.15 447.65,323.25 408.15,323.55" class="T3"/><path d="M426.95 311.85L412.25 297.85M426.95 311.85L441.45 296.15M426.95 311.85L447.65 323.25M426.95 311.85L408.15 323.55" stroke="#6f9a96" stroke-width="0.7" fill="none" opacity="0.8"/><polygon points="408.15,341.45 447.65,341.75 441.45,368.85 412.25,367.15" class="T3"/><path d="M426.95 353.15L408.15 341.45M426.95 353.15L447.65 341.75M426.95 353.15L441.45 368.85M426.95 353.15L412.25 367.15" stroke="#6f9a96" stroke-width="0.7" fill="none" opacity="0.8"/><polygon points="339.05,351.4 368.25,353.1 372.35,378.8 332.85,378.5" class="T3"/><path d="M353.55 367.1L339.05 351.4M353.55 367.1L368.25 353.1M353.55 367.1L372.35 378.8M353.55 367.1L332.85 378.5" stroke="#6f9a96" stroke-width="0.7" fill="none" opacity="0.8"/><polygon points="332.85,397 372.35,396.7 368.25,422.4 339.05,424.1" class="T3"/><path d="M353.55 408.4L332.85 397M353.55 408.4L372.35 396.7M353.55 408.4L368.25 422.4M353.55 408.4L339.05 424.1" stroke="#6f9a96" stroke-width="0.7" fill="none" opacity="0.8"/><circle cx="291.2" cy="311.85" r="6" class="Mn"/><circle cx="291.2" cy="353.15" r="6" class="Mn"/><circle cx="217.8" cy="367.1" r="6" class="Mn"/><circle cx="217.8" cy="408.4" r="6" class="Mn"/><circle cx="426.95" cy="311.85" r="6" class="Mn"/><circle cx="426.95" cy="353.15" r="6" class="Mn"/><circle cx="353.55" cy="367.1" r="6" class="Mn"/><circle cx="353.55" cy="408.4" r="6" class="Mn"/><path d="M206.1 306.2L200.26 304.62M214.6 296.8L208.53 295.99M214.6 296.8L217.41 292.1M229.9 301.5L230.62 295.14M229.9 301.5L234.84 304.3M218.9 322.9L224.53 324.86M218.9 322.9L215.45 327.77M203.2 317.6L201.31 322.85M203.2 317.6L198.17 313.58M242.3 317.9L242.32 311.61M242.3 317.9L247.39 319.92M242.3 317.9L238.21 322.44M302.9 361.45L308.91 359.35M294.4 352.05L292.36 346.68M294.4 352.05L300.62 351.48M279.1 356.75L274.35 359.59M279.1 356.75L276.81 351.35M290.1 378.15L292.54 383.31M290.1 378.15L284.42 379.22M305.8 372.85L311.44 369.55M305.8 372.85L307.96 379.08M266.7 373.15L271.21 377.65M266.7 373.15L261.25 374.33M266.7 373.15L267.09 367.09M206.1 416.7L200.26 415.12M214.6 407.3L208.53 406.49M214.6 407.3L217.41 402.6M229.9 412L230.62 405.64M229.9 412L234.84 414.8M218.9 433.4L224.53 435.36M218.9 433.4L215.45 438.27M203.2 428.1L201.31 433.35M203.2 428.1L198.17 424.08M242.3 428.4L242.32 422.11M242.3 428.4L247.39 430.42M242.3 428.4L238.21 432.94M341.85 306.2L336.01 304.62M350.35 296.8L344.28 295.99M350.35 296.8L353.16 292.1M365.65 301.5L366.37 295.14M365.65 301.5L370.59 304.3M354.65 322.9L360.28 324.86M354.65 322.9L351.2 327.77M338.95 317.6L337.06 322.85M338.95 317.6L333.92 313.58M378.05 317.9L378.07 311.61M378.05 317.9L383.14 319.92M378.05 317.9L373.96 322.44M438.65 361.45L444.66 359.35M430.15 352.05L428.11 346.68M430.15 352.05L436.37 351.48M414.85 356.75L410.1 359.59M414.85 356.75L412.56 351.35M425.85 378.15L428.29 383.31M425.85 378.15L420.17 379.22M441.55 372.85L447.19 369.55M441.55 372.85L443.71 379.08M402.45 373.15L406.96 377.65M402.45 373.15L397 374.33M402.45 373.15L402.84 367.09M341.85 416.7L336.01 415.12M350.35 407.3L344.28 406.49M350.35 407.3L353.16 402.6M365.65 412L366.37 405.64M365.65 412L370.59 414.8M354.65 433.4L360.28 435.36M354.65 433.4L351.2 438.27M338.95 428.1L337.06 433.35M338.95 428.1L333.92 424.08M378.05 428.4L378.07 422.11M378.05 428.4L383.14 430.42M378.05 428.4L373.96 432.94" stroke="#8a9aa8" stroke-width="0.7" fill="none"/><path d="M206.1 306.2L214.6 296.8M214.6 296.8L229.9 301.5M229.9 301.5L227.5 312.9M227.5 312.9L218.9 322.9M218.9 322.9L203.2 317.6M203.2 317.6L206.1 306.2M227.5 312.9L242.3 317.9M302.9 361.45L294.4 352.05M294.4 352.05L279.1 356.75M279.1 356.75L281.5 368.15M281.5 368.15L290.1 378.15M290.1 378.15L305.8 372.85M305.8 372.85L302.9 361.45M281.5 368.15L266.7 373.15M206.1 416.7L214.6 407.3M214.6 407.3L229.9 412M229.9 412L227.5 423.4M227.5 423.4L218.9 433.4M218.9 433.4L203.2 428.1M203.2 428.1L206.1 416.7M227.5 423.4L242.3 428.4M341.85 306.2L350.35 296.8M350.35 296.8L365.65 301.5M365.65 301.5L363.25 312.9M363.25 312.9L354.65 322.9M354.65 322.9L338.95 317.6M338.95 317.6L341.85 306.2M363.25 312.9L378.05 317.9M438.65 361.45L430.15 352.05M430.15 352.05L414.85 356.75M414.85 356.75L417.25 368.15M417.25 368.15L425.85 378.15M425.85 378.15L441.55 372.85M441.55 372.85L438.65 361.45M417.25 368.15L402.45 373.15M341.85 416.7L350.35 407.3M350.35 407.3L365.65 412M365.65 412L363.25 423.4M363.25 423.4L354.65 433.4M354.65 433.4L338.95 428.1M338.95 428.1L341.85 416.7M363.25 423.4L378.05 428.4" stroke="#c4747e" stroke-width="0.9" fill="none"/><g fill="#f4f7fa" stroke="#8c9dae" stroke-width="0.55"><circle cx="200.26" cy="304.62" r="1.75"/><circle cx="208.53" cy="295.99" r="1.75"/><circle cx="217.41" cy="292.1" r="1.75"/><circle cx="230.62" cy="295.14" r="1.75"/><circle cx="234.84" cy="304.3" r="1.75"/><circle cx="224.53" cy="324.86" r="1.75"/><circle cx="215.45" cy="327.77" r="1.75"/><circle cx="201.31" cy="322.85" r="1.75"/><circle cx="198.17" cy="313.58" r="1.75"/><circle cx="242.32" cy="311.61" r="1.75"/><circle cx="247.39" cy="319.92" r="1.75"/><circle cx="238.21" cy="322.44" r="1.75"/><circle cx="308.91" cy="359.35" r="1.75"/><circle cx="292.36" cy="346.68" r="1.75"/><circle cx="300.62" cy="351.48" r="1.75"/><circle cx="274.35" cy="359.59" r="1.75"/><circle cx="276.81" cy="351.35" r="1.75"/><circle cx="292.54" cy="383.31" r="1.75"/><circle cx="284.42" cy="379.22" r="1.75"/><circle cx="311.44" cy="369.55" r="1.75"/><circle cx="307.96" cy="379.08" r="1.75"/><circle cx="271.21" cy="377.65" r="1.75"/><circle cx="261.25" cy="374.33" r="1.75"/><circle cx="267.09" cy="367.09" r="1.75"/><circle cx="200.26" cy="415.12" r="1.75"/><circle cx="208.53" cy="406.49" r="1.75"/><circle cx="217.41" cy="402.6" r="1.75"/><circle cx="230.62" cy="405.64" r="1.75"/><circle cx="234.84" cy="414.8" r="1.75"/><circle cx="224.53" cy="435.36" r="1.75"/><circle cx="215.45" cy="438.27" r="1.75"/><circle cx="201.31" cy="433.35" r="1.75"/><circle cx="198.17" cy="424.08" r="1.75"/><circle cx="242.32" cy="422.11" r="1.75"/><circle cx="247.39" cy="430.42" r="1.75"/><circle cx="238.21" cy="432.94" r="1.75"/><circle cx="336.01" cy="304.62" r="1.75"/><circle cx="344.28" cy="295.99" r="1.75"/><circle cx="353.16" cy="292.1" r="1.75"/><circle cx="366.37" cy="295.14" r="1.75"/><circle cx="370.59" cy="304.3" r="1.75"/><circle cx="360.28" cy="324.86" r="1.75"/><circle cx="351.2" cy="327.77" r="1.75"/><circle cx="337.06" cy="322.85" r="1.75"/><circle cx="333.92" cy="313.58" r="1.75"/><circle cx="378.07" cy="311.61" r="1.75"/><circle cx="383.14" cy="319.92" r="1.75"/><circle cx="373.96" cy="322.44" r="1.75"/><circle cx="444.66" cy="359.35" r="1.75"/><circle cx="428.11" cy="346.68" r="1.75"/><circle cx="436.37" cy="351.48" r="1.75"/><circle cx="410.1" cy="359.59" r="1.75"/><circle cx="412.56" cy="351.35" r="1.75"/><circle cx="428.29" cy="383.31" r="1.75"/><circle cx="420.17" cy="379.22" r="1.75"/><circle cx="447.19" cy="369.55" r="1.75"/><circle cx="443.71" cy="379.08" r="1.75"/><circle cx="406.96" cy="377.65" r="1.75"/><circle cx="397" cy="374.33" r="1.75"/><circle cx="402.84" cy="367.09" r="1.75"/><circle cx="336.01" cy="415.12" r="1.75"/><circle cx="344.28" cy="406.49" r="1.75"/><circle cx="353.16" cy="402.6" r="1.75"/><circle cx="366.37" cy="405.64" r="1.75"/><circle cx="370.59" cy="414.8" r="1.75"/><circle cx="360.28" cy="435.36" r="1.75"/><circle cx="351.2" cy="438.27" r="1.75"/><circle cx="337.06" cy="433.35" r="1.75"/><circle cx="333.92" cy="424.08" r="1.75"/><circle cx="378.07" cy="422.11" r="1.75"/><circle cx="383.14" cy="430.42" r="1.75"/><circle cx="373.96" cy="432.94" r="1.75"/></g><circle cx="206.1" cy="306.2" r="3" class="N"/><circle cx="214.6" cy="296.8" r="3.1" class="C"/><circle cx="229.9" cy="301.5" r="3.1" class="C"/><circle cx="227.5" cy="312.9" r="3" class="N"/><circle cx="218.9" cy="322.9" r="3.1" class="C"/><circle cx="203.2" cy="317.6" r="3.1" class="C"/><circle cx="242.3" cy="317.9" r="3.1" class="C"/><circle cx="302.9" cy="361.45" r="3" class="N"/><circle cx="294.4" cy="352.05" r="3.1" class="C"/><circle cx="279.1" cy="356.75" r="3.1" class="C"/><circle cx="281.5" cy="368.15" r="3" class="N"/><circle cx="290.1" cy="378.15" r="3.1" class="C"/><circle cx="305.8" cy="372.85" r="3.1" class="C"/><circle cx="266.7" cy="373.15" r="3.1" class="C"/><circle cx="206.1" cy="416.7" r="3" class="N"/><circle cx="214.6" cy="407.3" r="3.1" class="C"/><circle cx="229.9" cy="412" r="3.1" class="C"/><circle cx="227.5" cy="423.4" r="3" class="N"/><circle cx="218.9" cy="433.4" r="3.1" class="C"/><circle cx="203.2" cy="428.1" r="3.1" class="C"/><circle cx="242.3" cy="428.4" r="3.1" class="C"/><circle cx="341.85" cy="306.2" r="3" class="N"/><circle cx="350.35" cy="296.8" r="3.1" class="C"/><circle cx="365.65" cy="301.5" r="3.1" class="C"/><circle cx="363.25" cy="312.9" r="3" class="N"/><circle cx="354.65" cy="322.9" r="3.1" class="C"/><circle cx="338.95" cy="317.6" r="3.1" class="C"/><circle cx="378.05" cy="317.9" r="3.1" class="C"/><circle cx="438.65" cy="361.45" r="3" class="N"/><circle cx="430.15" cy="352.05" r="3.1" class="C"/><circle cx="414.85" cy="356.75" r="3.1" class="C"/><circle cx="417.25" cy="368.15" r="3" class="N"/><circle cx="425.85" cy="378.15" r="3.1" class="C"/><circle cx="441.55" cy="372.85" r="3.1" class="C"/><circle cx="402.45" cy="373.15" r="3.1" class="C"/><circle cx="341.85" cy="416.7" r="3" class="N"/><circle cx="350.35" cy="407.3" r="3.1" class="C"/><circle cx="365.65" cy="412" r="3.1" class="C"/><circle cx="363.25" cy="423.4" r="3" class="N"/><circle cx="354.65" cy="433.4" r="3.1" class="C"/><circle cx="338.95" cy="428.1" r="3.1" class="C"/><circle cx="378.05" cy="428.4" r="3.1" class="C"/><circle cx="203.3" cy="313.6" r="5.3" class="Br"/><circle cx="232.5" cy="311.9" r="5.3" class="Br"/><circle cx="305.7" cy="296.15" r="5.3" class="Br"/><circle cx="276.5" cy="297.85" r="5.3" class="Br"/><circle cx="311.9" cy="323.25" r="5.3" class="Br"/><circle cx="272.4" cy="323.55" r="5.3" class="Br"/><circle cx="305.7" cy="368.85" r="5.3" class="Br"/><circle cx="276.5" cy="367.15" r="5.3" class="Br"/><circle cx="311.9" cy="341.75" r="5.3" class="Br"/><circle cx="272.4" cy="341.45" r="5.3" class="Br"/><circle cx="203.3" cy="351.4" r="5.3" class="Br"/><circle cx="232.5" cy="353.1" r="5.3" class="Br"/><circle cx="197.1" cy="378.5" r="5.3" class="Br"/><circle cx="236.6" cy="378.8" r="5.3" class="Br"/><circle cx="203.3" cy="424.1" r="5.3" class="Br"/><circle cx="232.5" cy="422.4" r="5.3" class="Br"/><circle cx="197.1" cy="397" r="5.3" class="Br"/><circle cx="236.6" cy="396.7" r="5.3" class="Br"/><circle cx="305.7" cy="406.65" r="5.3" class="Br"/><circle cx="276.5" cy="408.35" r="5.3" class="Br"/><circle cx="339.05" cy="313.6" r="5.3" class="Br"/><circle cx="368.25" cy="311.9" r="5.3" class="Br"/><circle cx="441.45" cy="296.15" r="5.3" class="Br"/><circle cx="412.25" cy="297.85" r="5.3" class="Br"/><circle cx="447.65" cy="323.25" r="5.3" class="Br"/><circle cx="408.15" cy="323.55" r="5.3" class="Br"/><circle cx="441.45" cy="368.85" r="5.3" class="Br"/><circle cx="412.25" cy="367.15" r="5.3" class="Br"/><circle cx="447.65" cy="341.75" r="5.3" class="Br"/><circle cx="408.15" cy="341.45" r="5.3" class="Br"/><circle cx="339.05" cy="351.4" r="5.3" class="Br"/><circle cx="368.25" cy="353.1" r="5.3" class="Br"/><circle cx="332.85" cy="378.5" r="5.3" class="Br"/><circle cx="372.35" cy="378.8" r="5.3" class="Br"/><circle cx="339.05" cy="424.1" r="5.3" class="Br"/><circle cx="368.25" cy="422.4" r="5.3" class="Br"/><circle cx="332.85" cy="397" r="5.3" class="Br"/><circle cx="372.35" cy="396.7" r="5.3" class="Br"/><circle cx="441.45" cy="406.65" r="5.3" class="Br"/><circle cx="412.25" cy="408.35" r="5.3" class="Br"/><line x1="175.6" y1="454.8" x2="203.5" y2="454.8" stroke="#1a3cf0" stroke-width="1.9"/><path d="M210 454.8 l-8 -3.5 v7z" fill="#1a3cf0"/><line x1="175.6" y1="454.8" x2="175.6" y2="435" stroke="#e0161c" stroke-width="1.9"/><path d="M175.6 427.6 l-3.5 8.2 h7z" fill="#e0161c"/><circle cx="175.6" cy="454.8" r="2.5" fill="#1f8a1f" stroke="#0c4a0c" stroke-width="0.6"/><text x="175.2" y="457" font-size="5.5" font-weight="700" text-anchor="middle" fill="#031" font-style="italic">b</text><text x="174.2" y="424.7" font-size="7.8" font-weight="700" textLength="4.7" lengthAdjust="spacingAndGlyphs">a</text><text x="215.8" y="456.9" font-size="7.8" font-weight="700" textLength="4.6" lengthAdjust="spacingAndGlyphs">c</text><text x="279" y="456.8" font-size="13.6" fill="#151515" textLength="99.6" lengthAdjust="spacingAndGlyphs">1-mpip<tspan dy="2.8" font-size="8.6">2</tspan><tspan dy="-2.8">MnBr</tspan><tspan dy="2.8" font-size="8.6">4</tspan></text><circle cx="238.7" cy="473" r="8" class="Mn"/><text x="252.4" y="477.6" font-size="13" textLength="19.6" lengthAdjust="spacingAndGlyphs" fill="#151515">Mn</text><circle cx="291.3" cy="473" r="6.8" class="Br"/><text x="303.5" y="477.6" font-size="13" textLength="12.8" lengthAdjust="spacingAndGlyphs" fill="#151515">Br</text><circle cx="331.3" cy="473" r="4.2" class="N"/><text x="340.4" y="477.6" font-size="13" textLength="8.8" lengthAdjust="spacingAndGlyphs" fill="#151515">N</text><circle cx="364.2" cy="473" r="3.7" class="C"/><text x="373" y="477.6" font-size="13" textLength="9.2" lengthAdjust="spacingAndGlyphs" fill="#151515">C</text><circle cx="395" cy="473" r="2.3" fill="#f4f7fa" stroke="#8c9dae" stroke-width="0.6"/><text x="403.2" y="477.6" font-size="13" textLength="9" lengthAdjust="spacingAndGlyphs" fill="#151515">H</text><text x="476" y="391" font-size="8.6" textLength="23" lengthAdjust="spacingAndGlyphs" fill="#151515" font-style="italic">Inset</text><line x1="488.2" y1="423" x2="488.2" y2="413.2" stroke="#3f9f93" stroke-width="1.7"/><line x1="488.2" y1="413.2" x2="488.2" y2="403.4" stroke="#e07a2a" stroke-width="1.7"/><line x1="488.2" y1="423" x2="479.1" y2="425.45" stroke="#3f9f93" stroke-width="1.7"/><line x1="479.1" y1="425.45" x2="470" y2="427.9" stroke="#e07a2a" stroke-width="1.7"/><line x1="488.2" y1="423" x2="499.3" y2="425.75" stroke="#3f9f93" stroke-width="1.7"/><line x1="499.3" y1="425.75" x2="510.4" y2="428.5" stroke="#e07a2a" stroke-width="1.7"/><line x1="488.2" y1="423" x2="486.9" y2="427.7" stroke="#3f9f93" stroke-width="1.7"/><line x1="486.9" y1="427.7" x2="485.6" y2="432.4" stroke="#e07a2a" stroke-width="1.7"/><circle cx="488.2" cy="403.4" r="4.3" class="Br"/><circle cx="488.2" cy="423" r="6" class="Mn"/><circle cx="470" cy="427.9" r="4.3" class="Br"/><circle cx="510.4" cy="428.5" r="4.3" class="Br"/><circle cx="485.6" cy="432.4" r="4.3" class="Br"/><text x="452.3" y="452.8" font-size="12.4" textLength="72" lengthAdjust="spacingAndGlyphs" fill="#151515">Δd~0.07 Å</text><text x="457.4" y="463.8" font-size="10.4" textLength="65" lengthAdjust="spacingAndGlyphs" fill="#151515">Fully order</text></g>
<g id="panel_f"><g filter="url(#blur1)"><polygon points="580.2,363.5 666.5,347.5 725.5,379.7 646.2,402" fill="#d3dff4"/><polygon points="642.4,413 719.8,393.2 809,429.2 712.2,450" fill="#fbe1cf"/></g><linearGradient id="fa1" x1="0" y1="0" x2="0" y2="1"><stop offset="0" stop-color="#6f9fe8"/><stop offset="0.7" stop-color="#86afee"/><stop offset="1" stop-color="#b4cdf4" stop-opacity="0.7"/></linearGradient><linearGradient id="fa2" x1="0" y1="0" x2="0" y2="1"><stop offset="0" stop-color="#f4bd3e"/><stop offset="0.7" stop-color="#f6c65a"/><stop offset="1" stop-color="#fadc9c" stop-opacity="0.7"/></linearGradient><path d="M664.7 355.8 C668.5 347 672.5 339 675.6 330.2 L669.2 329.5 L687.7 317.3 L694.7 336.9 L685.4 336.6 C682.5 343.5 679 349.5 675.6 354.8 Z" fill="url(#fa1)" filter="url(#blur2)"/><path d="M769.7 415.7 C773.5 407 777.5 399 780.6 390.7 L773.6 389.6 L792.9 377.9 L799.2 396.6 L789.8 396.4 C787 403 783.8 409.5 780.6 415.2 Z" fill="url(#fa2)" filter="url(#blur2)"/><text x="654.3" y="300.7" font-size="9.6" font-weight="700" textLength="82" lengthAdjust="spacingAndGlyphs" fill="#151515" stroke="#151515" stroke-width="0.3">Br-site disorder</text><text x="660.8" y="313.9" font-size="9.6" font-weight="700" fill="#151515" textLength="72.6" lengthAdjust="spacingAndGlyphs" stroke="#151515" stroke-width="0.3">[PP14]<tspan dy="1.8" font-size="5.8">2</tspan><tspan dy="-1.8">[MnBr</tspan><tspan dy="1.8" font-size="5.8">4</tspan><tspan dy="-1.8">]</tspan></text><text x="739.9" y="359.1" font-size="9.6" font-weight="700" textLength="101.5" lengthAdjust="spacingAndGlyphs" fill="#151515" stroke="#151515" stroke-width="0.3">Multiple disordered</text><text x="759.5" y="372" font-size="9.6" font-weight="700" fill="#151515" textLength="65.2" lengthAdjust="spacingAndGlyphs" stroke="#151515" stroke-width="0.3">Bmpip<tspan dy="1.8" font-size="5.8">2</tspan><tspan dy="-1.8">MnBr</tspan><tspan dy="1.8" font-size="5.8">4</tspan></text><text x="629.7" y="381.4" font-size="8.4" font-weight="700" textLength="47.5" lengthAdjust="spacingAndGlyphs" fill="#151515" transform="rotate(-15.6 629.7 381.4)" stroke="#151515" stroke-width="0.25">Acetonitrile</text><text x="655.8" y="396.4" font-size="7" font-weight="700" textLength="64.4" lengthAdjust="spacingAndGlyphs" fill="#151515" transform="rotate(-12.6 655.8 396.4)">Growth Interface</text><text x="688.1" y="428.2" font-size="8.4" font-weight="700" textLength="65" lengthAdjust="spacingAndGlyphs" fill="#151515" transform="rotate(-12.4 688.1 428.2)" stroke="#151515" stroke-width="0.25">Ethanol &amp; Ether</text><text x="718" y="446" font-size="7" font-weight="700" textLength="64.6" lengthAdjust="spacingAndGlyphs" fill="#151515" transform="rotate(-13.6 718 446)">Growth Interface</text><g transform="rotate(14 598 366)" fill="#1c2433" font-size="6.2" font-weight="700"><text x="597.6" y="368.6">H<tspan dy="1.2" font-size="4">3</tspan><tspan dy="-1.2">C</tspan></text><line x1="611.5" y1="366.4" x2="616.2" y2="366.4" stroke="#1c2433" stroke-width="0.7"/><text x="617" y="368.6">C≡N</text></g><g fill="#1c2433" font-size="5.6" font-weight="700"><text x="658.6" y="418">H<tspan dy="1.1" font-size="3.8">3</tspan><tspan dy="-1.1">C</tspan></text><path d="M671.5 416.2 L677.5 412.6 L685.6 418.4" fill="none" stroke="#1c2433" stroke-width="0.7"/><text x="685.8" y="422">OH</text><text x="690.3" y="412.8" font-size="9.5" font-weight="700" fill="#111">+</text><text x="703" y="406.6">H<tspan dy="1.1" font-size="3.8">3</tspan><tspan dy="-1.1">C</tspan></text><path d="M715 405.6 L720.5 409.4 L726.3 406.4" fill="none" stroke="#1c2433" stroke-width="0.7"/><text x="726.2" y="408" fill="#c03a2a">O</text><path d="M731.6 406.6 L737.4 409.6 L742.3 405.8" fill="none" stroke="#1c2433" stroke-width="0.7"/><text x="742" y="407">CH<tspan dy="1.1" font-size="3.8">3</tspan></text></g><g fill="none" stroke="#3a3a3a" stroke-width="0.9"><ellipse cx="735.2" cy="372.6" rx="10" ry="2.9" fill="#fff"/><path d="M725.2 372.6 V388.6 A10 2.9 0 0 0 745.2 388.6 V372.6" fill="#fff" fill-opacity="0.85"/><path d="M725.2 375 A10 2.9 0 0 0 745.2 375" stroke-width="0.7"/><ellipse cx="735.2" cy="385.6" rx="8.6" ry="2.4" stroke-width="0.6"/><path d="M731.6 384.4 v3.6 h7.2 v-3.6" stroke-width="0.6"/><ellipse cx="735.2" cy="384.4" rx="3.6" ry="1" stroke-width="0.6"/></g><path d="M535.5 379.4 L538.15 375.18 L543.45 375.18 L546.1 379.4 L543.45 383.62 L538.15 383.62ZM535.5 379.4 L530.3 377.2 L524.9 380 L519.3 377 L513.5 378.6M535.5 379.4 L531.7 382" fill="none" stroke="#3c4656" stroke-width="0.75" stroke-linejoin="round" transform="rotate(12 540.8 379.4)"/><circle cx="535.5" cy="379.4" r="0.9" fill="#4a6ad0" opacity="0.7" transform="rotate(12 540.8 379.4)"/><path d="M580.1 389 L582.75 384.78 L588.05 384.78 L590.7 389 L588.05 393.22 L582.75 393.22ZM580.1 389 L574.9 386.8 L569.5 389.6 L563.9 386.6 L558.1 388.2M580.1 389 L576.3 391.6" fill="none" stroke="#3c4656" stroke-width="0.75" stroke-linejoin="round" transform="rotate(12 585.4 389)"/><circle cx="580.1" cy="389" r="0.9" fill="#4a6ad0" opacity="0.7" transform="rotate(12 585.4 389)"/><path d="M551.6 398.1 L554.25 393.88 L559.55 393.88 L562.2 398.1 L559.55 402.32 L554.25 402.32ZM551.6 398.1 L546.4 395.9 L541 398.7 L535.4 395.7 L529.6 397.3M551.6 398.1 L547.8 400.7" fill="none" stroke="#3c4656" stroke-width="0.75" stroke-linejoin="round" transform="rotate(12 556.9 398.1)"/><circle cx="551.6" cy="398.1" r="0.9" fill="#4a6ad0" opacity="0.7" transform="rotate(12 556.9 398.1)"/><path d="M590.9 404.9 L593.55 400.68 L598.85 400.68 L601.5 404.9 L598.85 409.12 L593.55 409.12ZM590.9 404.9 L585.7 402.7 L580.3 405.5 L574.7 402.5 L568.9 404.1M590.9 404.9 L587.1 407.5" fill="none" stroke="#3c4656" stroke-width="0.75" stroke-linejoin="round" transform="rotate(10 596.2 404.9)"/><circle cx="590.9" cy="404.9" r="0.9" fill="#4a6ad0" opacity="0.7" transform="rotate(10 596.2 404.9)"/><path d="M563.4 414.2 L566.05 409.98 L571.35 409.98 L574 414.2 L571.35 418.42 L566.05 418.42ZM563.4 414.2 L558.2 412 L552.8 414.8 L547.2 411.8 L541.4 413.4M563.4 414.2 L559.6 416.8" fill="none" stroke="#3c4656" stroke-width="0.75" stroke-linejoin="round" transform="rotate(-18 568.7 414.2)"/><circle cx="563.4" cy="414.2" r="0.9" fill="#4a6ad0" opacity="0.7" transform="rotate(-18 568.7 414.2)"/><path d="M630.5 424.4 L633.15 420.18 L638.45 420.18 L641.1 424.4 L638.45 428.62 L633.15 428.62ZM630.5 424.4 L625.3 422.2 L619.9 425 L614.3 422 L608.5 423.6M630.5 424.4 L626.7 427" fill="none" stroke="#3c4656" stroke-width="0.75" stroke-linejoin="round" transform="rotate(10 635.8 424.4)"/><circle cx="630.5" cy="424.4" r="0.9" fill="#4a6ad0" opacity="0.7" transform="rotate(10 635.8 424.4)"/><path d="M613.4 437.7 L616.05 433.48 L621.35 433.48 L624 437.7 L621.35 441.92 L616.05 441.92ZM613.4 437.7 L608.2 435.5 L602.8 438.3 L597.2 435.3 L591.4 436.9M613.4 437.7 L609.6 440.3" fill="none" stroke="#3c4656" stroke-width="0.75" stroke-linejoin="round" transform="rotate(10 618.7 437.7)"/><circle cx="613.4" cy="437.7" r="0.9" fill="#4a6ad0" opacity="0.7" transform="rotate(10 618.7 437.7)"/><path d="M656.6 443.6 L659.25 439.38 L664.55 439.38 L667.2 443.6 L664.55 447.82 L659.25 447.82ZM656.6 443.6 L651.4 441.4 L646 444.2 L640.4 441.2 L634.6 442.8M656.6 443.6 L652.8 446.2" fill="none" stroke="#3c4656" stroke-width="0.75" stroke-linejoin="round" transform="rotate(14 661.9 443.6)"/><circle cx="656.6" cy="443.6" r="0.9" fill="#4a6ad0" opacity="0.7" transform="rotate(14 661.9 443.6)"/><path d="M623.3 453.4 L625.95 449.18 L631.25 449.18 L633.9 453.4 L631.25 457.62 L625.95 457.62ZM623.3 453.4 L618.1 451.2 L612.7 454 L607.1 451 L601.3 452.6M623.3 453.4 L619.5 456" fill="none" stroke="#3c4656" stroke-width="0.75" stroke-linejoin="round" transform="rotate(10 628.6 453.4)"/><circle cx="623.3" cy="453.4" r="0.9" fill="#4a6ad0" opacity="0.7" transform="rotate(10 628.6 453.4)"/><path d="M675.3 456.4 L677.95 452.18 L683.25 452.18 L685.9 456.4 L683.25 460.62 L677.95 460.62ZM675.3 456.4 L670.1 454.2 L664.7 457 L659.1 454 L653.3 455.6M675.3 456.4 L671.5 459" fill="none" stroke="#3c4656" stroke-width="0.75" stroke-linejoin="round" transform="rotate(12 680.6 456.4)"/><circle cx="675.3" cy="456.4" r="0.9" fill="#4a6ad0" opacity="0.7" transform="rotate(12 680.6 456.4)"/><path d="M637 466.8 L639.65 462.58 L644.95 462.58 L647.6 466.8 L644.95 471.02 L639.65 471.02ZM637 466.8 L631.8 464.6 L626.4 467.4 L620.8 464.4 L615 466M637 466.8 L633.2 469.4" fill="none" stroke="#3c4656" stroke-width="0.75" stroke-linejoin="round" transform="rotate(10 642.3 466.8)"/><circle cx="637" cy="466.8" r="0.9" fill="#4a6ad0" opacity="0.7" transform="rotate(10 642.3 466.8)"/><text x="550" y="374.5" font-size="2.9" font-weight="700" text-anchor="middle" fill="#d8453a" opacity="0.85">Br</text><text x="594.2" y="384.7" font-size="2.9" font-weight="700" text-anchor="middle" fill="#d8453a" opacity="0.85">Br</text><text x="558.3" y="389.3" font-size="2.9" font-weight="700" text-anchor="middle" fill="#d8453a" opacity="0.85">Br</text><text x="613.4" y="399.1" font-size="2.9" font-weight="700" text-anchor="middle" fill="#d8453a" opacity="0.85">Br</text><text x="580.5" y="413.2" font-size="2.9" font-weight="700" text-anchor="middle" fill="#d8453a" opacity="0.85">Br</text><text x="638" y="417.5" font-size="2.9" font-weight="700" text-anchor="middle" fill="#d8453a" opacity="0.85">Br</text><text x="625.6" y="431.8" font-size="2.9" font-weight="700" text-anchor="middle" fill="#d8453a" opacity="0.85">Br</text><text x="671.7" y="439.1" font-size="2.9" font-weight="700" text-anchor="middle" fill="#d8453a" opacity="0.85">Br</text><text x="637.4" y="447.5" font-size="2.9" font-weight="700" text-anchor="middle" fill="#d8453a" opacity="0.85">Br</text><text x="690" y="453" font-size="2.9" font-weight="700" text-anchor="middle" fill="#d8453a" opacity="0.85">Br</text><text x="653.5" y="465.6" font-size="2.9" font-weight="700" text-anchor="middle" fill="#d8453a" opacity="0.85">Br</text></g>
<g id="panel_g"><rect x="847" y="298" width="86" height="64.5" fill="url(#nat1)"/>
<rect x="932.2" y="298" width="84.8" height="64.5" fill="url(#nat2)"/>
<clipPath id="gl"><rect x="847" y="298" width="85.2" height="64.5"/></clipPath>
<g clip-path="url(#gl)" fill="none" stroke="#8a8a88" stroke-opacity="0.13" stroke-width="2.2">
<circle cx="925" cy="290" r="34"/>
<circle cx="925" cy="290" r="46"/>
<circle cx="925" cy="290" r="58"/>
<circle cx="925" cy="290" r="70"/>
<circle cx="925" cy="290" r="82"/>
</g>
<rect x="932.2" y="298" width="84.8" height="64.5" filter="url(#noise)" opacity="0.6"/>
<rect x="932.2" y="298" width="84.8" height="64.5" filter="url(#noise2)" opacity="0.3"/>
<rect x="847" y="298" width="85.2" height="64.5" filter="url(#noise)" opacity="0.25"/>
<path d="M885 329 l3.2-3.6 2.6 0.6 1.6-1.2 2.2 1.5 -1.2 3.2 0.8 2.4 -2.8 3.8 -2.4-0.6 -1 1.6 -3.4-1.2 1.6-2.6z" fill="#ece45a"/>
<path d="M882.5 336.5 l4-1.5 1.5 2 -3 1.4z" fill="#1e1e1e" fill-opacity="0.8"/>
<path d="M887.1 329 l2-2.2 2.2 0.6 0.5 2.6 -2.2 2.4z" fill="#fbf8a8"/>
<path d="M961.5 330.4 l3-1.5 2.5 0.8 2-2 2.6 0.6 -0.4 2.4 2.2 1 -1.8 2.2 -3-0.4 -1.4 2.4 -2.6-1.6 -2.6 0.2z" fill="#e4dc58"/>
<circle cx="975.5" cy="334.5" r="0.6" fill="#eee"/>
<text x="852.6" y="309.2" font-size="10.4" fill="#ececec" stroke="#ececec" stroke-width="0.25" textLength="77" lengthAdjust="spacingAndGlyphs">Bmpip<tspan dy="2.2" font-size="6.6">2</tspan><tspan dy="-2.2">MnBr</tspan><tspan dy="2.2" font-size="6.6">4</tspan></text>
<text x="935.4" y="309.2" font-size="10.4" fill="#ececec" stroke="#ececec" stroke-width="0.25" textLength="79.5" lengthAdjust="spacingAndGlyphs">1-mpip<tspan dy="2.2" font-size="6.6">2</tspan><tspan dy="-2.2">MnBr</tspan><tspan dy="2.2" font-size="6.6">4</tspan></text>
<text x="932.6" y="377.2" font-size="13.4" text-anchor="middle" textLength="88.5" lengthAdjust="spacingAndGlyphs" fill="#111">Natural light</text>
<rect x="847" y="385" width="86" height="65.7" fill="url(#uvbg)"/>
<rect x="932.2" y="385" width="84.8" height="65.7" fill="url(#uvbg2)"/>
<clipPath id="gu"><rect x="847" y="385" width="170" height="65.7"/></clipPath>
<g clip-path="url(#gu)">
<circle cx="891" cy="418.5" r="11.5" fill="url(#glowG)"/>
<path d="M887 417 l1.8-2 2.2 0.2 1.2-2.2 2.4 0.4 0.8 3 -1 2.4 0.6 2.6 -2.4 1.8 -2.2-1.2 -2.8-0.4 -1.4-2.4z" fill="#f0ffe8" filter="url(#blur2)"/>
<circle cx="906" cy="427.5" r="0.7" fill="#39c24a"/><circle cx="885.5" cy="428.5" r="0.6" fill="#39c24a"/><circle cx="899" cy="425" r="0.5" fill="#39c24a"/>
<circle cx="967.5" cy="417.5" r="7.5" fill="url(#glowC)" opacity="0.35"/>
<path d="M960.8 415.2 l2.6-0.8 1.8 1.2 2.2-2.2 2.8 0.6 0.4 1.8 -1.8 0.8 1.4 1.2 -0.4 2 -2.8 0.4 -1.6-1.4 -2 1 -1.4-1.4 0.6-1.6z" fill="#86f2c4" filter="url(#blur2)"/>
<circle cx="975" cy="418.5" r="1" fill="#4fd8a8"/><circle cx="977.3" cy="415.8" r="0.6" fill="#3aa888"/><circle cx="993" cy="407" r="0.5" fill="#3a5a88"/>
</g>
<text x="935.5" y="469.6" font-size="13.4" text-anchor="middle" textLength="58" lengthAdjust="spacingAndGlyphs" fill="#111">UV light</text></g>
<text x="7.8" y="13.1" font-size="16.8" font-weight="700" textLength="10.4" lengthAdjust="spacingAndGlyphs" fill="#000">a</text>
<text x="366.8" y="13.1" font-size="16.8" font-weight="700" textLength="11.3" lengthAdjust="spacingAndGlyphs" fill="#000">b</text>
<text x="831.8" y="13.2" font-size="16.8" font-weight="700" textLength="10.6" lengthAdjust="spacingAndGlyphs" fill="#000">c</text>
<text x="2.8" y="288.3" font-size="17.5" font-weight="700" textLength="11.6" lengthAdjust="spacingAndGlyphs" fill="#000">d</text>
<text x="173.8" y="292.3" font-size="17.5" font-weight="700" textLength="10.8" lengthAdjust="spacingAndGlyphs" fill="#000">e</text>
<text x="515" y="294.6" font-size="17.5" font-weight="700" textLength="7.2" lengthAdjust="spacingAndGlyphs" fill="#000">f</text>
<text x="846.2" y="291.4" font-size="17.5" font-weight="700" textLength="11.2" lengthAdjust="spacingAndGlyphs" fill="#000">g</text>
</svg>
</body></html>
